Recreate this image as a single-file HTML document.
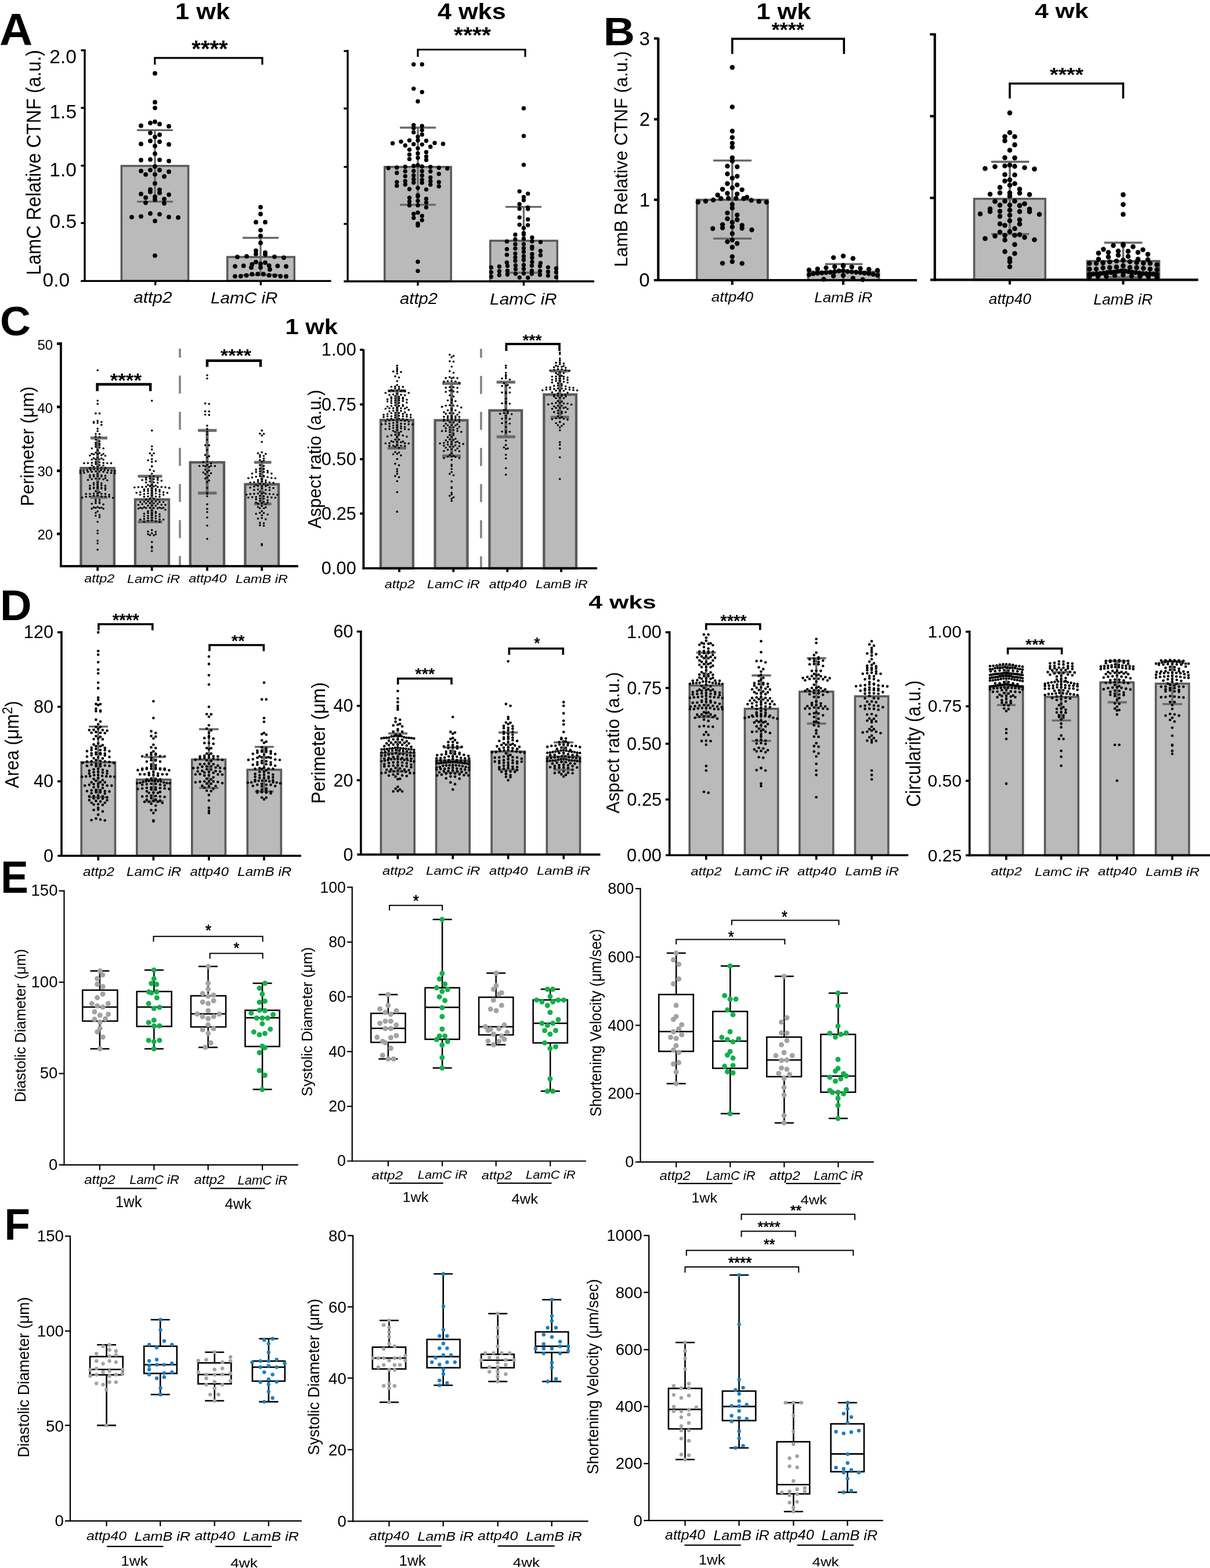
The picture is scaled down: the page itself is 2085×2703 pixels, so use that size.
<!DOCTYPE html>
<html><head><meta charset="utf-8"><title>Figure</title>
<style>html,body{margin:0;padding:0;background:#fff}svg{display:block}</style></head>
<body><svg xmlns="http://www.w3.org/2000/svg" width="2085" height="2703" viewBox="0 0 2085 2703">
<rect x="0" y="0" width="2085" height="2703" fill="#fff"/>
<rect x="209.35" y="286" width="115.2" height="198.3" fill="#bababa" stroke="#5a5a5a" stroke-width="3.5"/>
<rect x="391.75" y="443" width="115.5" height="41.3" fill="#bababa" stroke="#5a5a5a" stroke-width="3.5"/>
<line x1="267" y1="224.3" x2="267" y2="347.7" stroke="#696969" stroke-width="3.3"/>
<line x1="236" y1="224.3" x2="298" y2="224.3" stroke="#696969" stroke-width="3.3"/>
<line x1="236" y1="347.7" x2="298" y2="347.7" stroke="#696969" stroke-width="3.3"/>
<line x1="449" y1="410" x2="449" y2="474" stroke="#696969" stroke-width="3.3"/>
<line x1="418" y1="410" x2="480" y2="410" stroke="#696969" stroke-width="3.3"/>
<line x1="418" y1="474" x2="480" y2="474" stroke="#696969" stroke-width="3.3"/>
<g fill="#000"><circle cx="267" cy="126.46" r="3.9"/><circle cx="267" cy="176.16" r="3.9"/><circle cx="267" cy="186.1" r="3.9"/><circle cx="267" cy="440.56" r="3.9"/><circle cx="267" cy="380.92" r="3.9"/><circle cx="259" cy="367.97" r="3.9"/><circle cx="275" cy="369.29" r="3.9"/><circle cx="243" cy="373.08" r="3.9"/><circle cx="291" cy="374.12" r="3.9"/><circle cx="227" cy="374.37" r="3.9"/><circle cx="307" cy="374.96" r="3.9"/><circle cx="267" cy="209.96" r="3.9"/><circle cx="259" cy="211.94" r="3.9"/><circle cx="275" cy="213.93" r="3.9"/><circle cx="243" cy="216.64" r="3.9"/><circle cx="291" cy="217.68" r="3.9"/><circle cx="259" cy="274.89" r="3.9"/><circle cx="275" cy="275.54" r="3.9"/><circle cx="243" cy="276.01" r="3.9"/><circle cx="291" cy="277.54" r="3.9"/><circle cx="259" cy="229.09" r="3.9"/><circle cx="275" cy="232.27" r="3.9"/><circle cx="267" cy="251.59" r="3.9"/><circle cx="267" cy="339.14" r="3.9"/><circle cx="251" cy="340.72" r="3.9"/><circle cx="283" cy="343.06" r="3.9"/><circle cx="259" cy="326.77" r="3.9"/><circle cx="275" cy="327.22" r="3.9"/><circle cx="267" cy="236.03" r="3.9"/><circle cx="259" cy="242.95" r="3.9"/><circle cx="275" cy="244.35" r="3.9"/><circle cx="243" cy="248.19" r="3.9"/><circle cx="291" cy="248.9" r="3.9"/><circle cx="267" cy="300.54" r="3.9"/><circle cx="251" cy="300.81" r="3.9"/><circle cx="283" cy="304.18" r="3.9"/><circle cx="259" cy="330.68" r="3.9"/><circle cx="275" cy="332.4" r="3.9"/><circle cx="243" cy="334.43" r="3.9"/><circle cx="291" cy="335.6" r="3.9"/><circle cx="259" cy="293.07" r="3.9"/><circle cx="275" cy="293.19" r="3.9"/><circle cx="243" cy="294.72" r="3.9"/><circle cx="291" cy="295.94" r="3.9"/><circle cx="267" cy="286.93" r="3.9"/><circle cx="267" cy="344.36" r="3.9"/><circle cx="251" cy="349.48" r="3.9"/><circle cx="283" cy="350.39" r="3.9"/><circle cx="267" cy="264.9" r="3.9"/><circle cx="267" cy="316.19" r="3.9"/></g>
<g fill="#000"><circle cx="449" cy="357.07" r="3.9"/><circle cx="449" cy="369" r="3.9"/><circle cx="441" cy="382.91" r="3.9"/><circle cx="457" cy="382.91" r="3.9"/><circle cx="449" cy="396.83" r="3.9"/><circle cx="449" cy="406.77" r="3.9"/><circle cx="444.11" cy="472.28" r="3.9"/><circle cx="453.89" cy="472.49" r="3.9"/><circle cx="434.33" cy="472.71" r="3.9"/><circle cx="463.67" cy="474.54" r="3.9"/><circle cx="424.56" cy="474.78" r="3.9"/><circle cx="473.44" cy="475.04" r="3.9"/><circle cx="414.78" cy="476.07" r="3.9"/><circle cx="483.22" cy="476.11" r="3.9"/><circle cx="405" cy="476.35" r="3.9"/><circle cx="493" cy="476.43" r="3.9"/><circle cx="441" cy="437.82" r="3.9"/><circle cx="457" cy="438.87" r="3.9"/><circle cx="425" cy="441.8" r="3.9"/><circle cx="473" cy="442.57" r="3.9"/><circle cx="409" cy="442.93" r="3.9"/><circle cx="489" cy="444.19" r="3.9"/><circle cx="441" cy="432.2" r="3.9"/><circle cx="457" cy="435.44" r="3.9"/><circle cx="441" cy="451.53" r="3.9"/><circle cx="457" cy="452.71" r="3.9"/><circle cx="449" cy="454.64" r="3.9"/><circle cx="434.33" cy="455.61" r="3.9"/><circle cx="463.67" cy="457.97" r="3.9"/><circle cx="419.67" cy="458.19" r="3.9"/><circle cx="478.33" cy="458.44" r="3.9"/><circle cx="405" cy="459.05" r="3.9"/><circle cx="493" cy="459.21" r="3.9"/><circle cx="449" cy="418.68" r="3.9"/><circle cx="449" cy="461.06" r="3.9"/><circle cx="433" cy="461.14" r="3.9"/><circle cx="465" cy="464.52" r="3.9"/></g>
<line x1="146" y1="85" x2="146" y2="485.95" stroke="#000" stroke-width="3.3"/>
<line x1="139.3" y1="484.3" x2="570.5" y2="484.3" stroke="#000" stroke-width="3.3"/>
<line x1="139.4" y1="86.7" x2="146" y2="86.7" stroke="#000" stroke-width="3.3"/>
<line x1="139.4" y1="186" x2="146" y2="186" stroke="#000" stroke-width="3.3"/>
<line x1="139.4" y1="285.6" x2="146" y2="285.6" stroke="#000" stroke-width="3.3"/>
<line x1="139.4" y1="384.5" x2="146" y2="384.5" stroke="#000" stroke-width="3.3"/>
<line x1="267.7" y1="484.3" x2="267.7" y2="491.8" stroke="#000" stroke-width="3.3"/>
<line x1="449.3" y1="484.3" x2="449.3" y2="491.8" stroke="#000" stroke-width="3.3"/>
<polyline points="266.8,111.5 266.8,99.8 452,99.8 452,111.5" fill="none" stroke="#000" stroke-width="3.2" stroke-linejoin="miter"/>
<rect x="662.75" y="287.7" width="114.5" height="197.3" fill="#bababa" stroke="#5a5a5a" stroke-width="3.5"/>
<rect x="844.75" y="415" width="115.5" height="70" fill="#bababa" stroke="#5a5a5a" stroke-width="3.5"/>
<line x1="720" y1="220" x2="720" y2="353" stroke="#696969" stroke-width="3.3"/>
<line x1="689" y1="220" x2="751" y2="220" stroke="#696969" stroke-width="3.3"/>
<line x1="689" y1="353" x2="751" y2="353" stroke="#696969" stroke-width="3.3"/>
<line x1="902.4" y1="356.7" x2="902.4" y2="470" stroke="#696969" stroke-width="3.3"/>
<line x1="871" y1="356.7" x2="933" y2="356.7" stroke="#696969" stroke-width="3.3"/>
<line x1="871" y1="470" x2="933" y2="470" stroke="#696969" stroke-width="3.3"/>
<g fill="#000"><circle cx="712.75" cy="111.07" r="3.7"/><circle cx="727.25" cy="111.07" r="3.7"/><circle cx="712.75" cy="152.84" r="3.7"/><circle cx="727.25" cy="158.8" r="3.7"/><circle cx="720" cy="174.72" r="3.7"/><circle cx="720" cy="451.19" r="3.7"/><circle cx="720" cy="467.1" r="3.7"/><circle cx="720" cy="385.55" r="3.7"/><circle cx="712.75" cy="375.61" r="3.7"/><circle cx="727.25" cy="379.58" r="3.7"/><circle cx="720" cy="235.65" r="3.7"/><circle cx="712.75" cy="309.15" r="3.7"/><circle cx="727.25" cy="309.84" r="3.7"/><circle cx="698.25" cy="312.3" r="3.7"/><circle cx="741.75" cy="312.34" r="3.7"/><circle cx="683.75" cy="313.83" r="3.7"/><circle cx="756.25" cy="314" r="3.7"/><circle cx="712.75" cy="285.97" r="3.7"/><circle cx="727.25" cy="287.03" r="3.7"/><circle cx="698.25" cy="287.45" r="3.7"/><circle cx="741.75" cy="287.71" r="3.7"/><circle cx="683.75" cy="288.68" r="3.7"/><circle cx="756.25" cy="289.21" r="3.7"/><circle cx="669.25" cy="289.7" r="3.7"/><circle cx="770.75" cy="290.53" r="3.7"/><circle cx="720" cy="324" r="3.7"/><circle cx="705.5" cy="325.96" r="3.7"/><circle cx="734.5" cy="326.6" r="3.7"/><circle cx="712.75" cy="314.83" r="3.7"/><circle cx="727.25" cy="314.99" r="3.7"/><circle cx="698.25" cy="317.98" r="3.7"/><circle cx="741.75" cy="318.26" r="3.7"/><circle cx="683.75" cy="320.13" r="3.7"/><circle cx="756.25" cy="321.24" r="3.7"/><circle cx="720" cy="346.14" r="3.7"/><circle cx="705.5" cy="347.6" r="3.7"/><circle cx="734.5" cy="349.08" r="3.7"/><circle cx="712.75" cy="228.08" r="3.7"/><circle cx="727.25" cy="231.93" r="3.7"/><circle cx="712.75" cy="294.81" r="3.7"/><circle cx="727.25" cy="294.91" r="3.7"/><circle cx="698.25" cy="295.32" r="3.7"/><circle cx="741.75" cy="295.44" r="3.7"/><circle cx="683.75" cy="298.04" r="3.7"/><circle cx="756.25" cy="299.82" r="3.7"/><circle cx="720" cy="241.95" r="3.7"/><circle cx="705.5" cy="241.98" r="3.7"/><circle cx="734.5" cy="242.76" r="3.7"/><circle cx="691" cy="244.11" r="3.7"/><circle cx="749" cy="246.39" r="3.7"/><circle cx="676.5" cy="246.95" r="3.7"/><circle cx="763.5" cy="248" r="3.7"/><circle cx="712.75" cy="302.41" r="3.7"/><circle cx="727.25" cy="302.5" r="3.7"/><circle cx="698.25" cy="303.68" r="3.7"/><circle cx="741.75" cy="306" r="3.7"/><circle cx="720" cy="353.9" r="3.7"/><circle cx="705.5" cy="354.06" r="3.7"/><circle cx="734.5" cy="357.5" r="3.7"/><circle cx="720" cy="338.41" r="3.7"/><circle cx="705.5" cy="340.99" r="3.7"/><circle cx="734.5" cy="342.76" r="3.7"/><circle cx="720" cy="271.99" r="3.7"/><circle cx="705.5" cy="274.17" r="3.7"/><circle cx="734.5" cy="275.71" r="3.7"/><circle cx="712.75" cy="220.91" r="3.7"/><circle cx="727.25" cy="224.34" r="3.7"/><circle cx="712.75" cy="368.7" r="3.7"/><circle cx="727.25" cy="372.15" r="3.7"/><circle cx="712.75" cy="248.41" r="3.7"/><circle cx="727.25" cy="249.09" r="3.7"/><circle cx="698.25" cy="250.79" r="3.7"/><circle cx="741.75" cy="253.01" r="3.7"/><circle cx="720" cy="284.68" r="3.7"/><circle cx="720" cy="264.51" r="3.7"/><circle cx="705.5" cy="266.38" r="3.7"/><circle cx="734.5" cy="269.83" r="3.7"/><circle cx="720" cy="255.6" r="3.7"/><circle cx="705.5" cy="258.01" r="3.7"/><circle cx="734.5" cy="262.22" r="3.7"/><circle cx="712.75" cy="215.77" r="3.7"/><circle cx="727.25" cy="217.23" r="3.7"/><circle cx="720" cy="336.54" r="3.7"/><circle cx="720" cy="366.56" r="3.7"/><circle cx="720" cy="388.81" r="3.7"/></g>
<g fill="#000"><circle cx="902.4" cy="186.65" r="3.7"/><circle cx="902.4" cy="234.39" r="3.7"/><circle cx="902.4" cy="284.11" r="3.7"/><circle cx="895.15" cy="329.86" r="3.7"/><circle cx="909.65" cy="333.84" r="3.7"/><circle cx="902.4" cy="339.8" r="3.7"/><circle cx="895.15" cy="359.83" r="3.7"/><circle cx="909.65" cy="360.15" r="3.7"/><circle cx="902.4" cy="448.01" r="3.7"/><circle cx="887.9" cy="449.61" r="3.7"/><circle cx="916.9" cy="451.4" r="3.7"/><circle cx="873.4" cy="452.56" r="3.7"/><circle cx="931.4" cy="453.49" r="3.7"/><circle cx="902.4" cy="471.22" r="3.7"/><circle cx="888.4" cy="471.83" r="3.7"/><circle cx="916.4" cy="471.96" r="3.7"/><circle cx="874.4" cy="473.23" r="3.7"/><circle cx="930.4" cy="473.7" r="3.7"/><circle cx="860.4" cy="474.31" r="3.7"/><circle cx="944.4" cy="475.11" r="3.7"/><circle cx="846.4" cy="476.93" r="3.7"/><circle cx="958.4" cy="477.59" r="3.7"/><circle cx="902.4" cy="404.03" r="3.7"/><circle cx="887.9" cy="404.5" r="3.7"/><circle cx="916.9" cy="409.45" r="3.7"/><circle cx="902.4" cy="433.88" r="3.7"/><circle cx="887.9" cy="437.12" r="3.7"/><circle cx="916.9" cy="437.9" r="3.7"/><circle cx="873.4" cy="439.15" r="3.7"/><circle cx="931.4" cy="440.06" r="3.7"/><circle cx="902.4" cy="457.04" r="3.7"/><circle cx="888.4" cy="457.38" r="3.7"/><circle cx="916.4" cy="457.99" r="3.7"/><circle cx="874.4" cy="458.35" r="3.7"/><circle cx="930.4" cy="458.75" r="3.7"/><circle cx="860.4" cy="459.51" r="3.7"/><circle cx="944.4" cy="460.86" r="3.7"/><circle cx="846.4" cy="460.91" r="3.7"/><circle cx="958.4" cy="462.69" r="3.7"/><circle cx="902.4" cy="463.53" r="3.7"/><circle cx="888.4" cy="464.1" r="3.7"/><circle cx="916.4" cy="466.75" r="3.7"/><circle cx="874.4" cy="466.78" r="3.7"/><circle cx="930.4" cy="467.26" r="3.7"/><circle cx="860.4" cy="467.53" r="3.7"/><circle cx="944.4" cy="468.51" r="3.7"/><circle cx="846.4" cy="469.24" r="3.7"/><circle cx="958.4" cy="469.49" r="3.7"/><circle cx="895.15" cy="387.33" r="3.7"/><circle cx="909.65" cy="388.12" r="3.7"/><circle cx="902.4" cy="411.52" r="3.7"/><circle cx="887.9" cy="412.56" r="3.7"/><circle cx="916.9" cy="416.11" r="3.7"/><circle cx="873.4" cy="416.25" r="3.7"/><circle cx="931.4" cy="417.35" r="3.7"/><circle cx="895.15" cy="478.35" r="3.7"/><circle cx="909.65" cy="478.71" r="3.7"/><circle cx="902.4" cy="441.8" r="3.7"/><circle cx="887.9" cy="443.77" r="3.7"/><circle cx="916.9" cy="444.22" r="3.7"/><circle cx="902.4" cy="402.01" r="3.7"/><circle cx="895.15" cy="374.84" r="3.7"/><circle cx="909.65" cy="378.3" r="3.7"/><circle cx="895.15" cy="352.02" r="3.7"/><circle cx="909.65" cy="357.58" r="3.7"/><circle cx="902.4" cy="420.85" r="3.7"/><circle cx="887.9" cy="421.03" r="3.7"/><circle cx="916.9" cy="425.33" r="3.7"/><circle cx="902.4" cy="345.09" r="3.7"/><circle cx="902.4" cy="427.84" r="3.7"/><circle cx="887.9" cy="428.52" r="3.7"/><circle cx="916.9" cy="428.58" r="3.7"/><circle cx="873.4" cy="429.4" r="3.7"/><circle cx="931.4" cy="432.55" r="3.7"/><circle cx="902.4" cy="393.01" r="3.7"/></g>
<line x1="599.1" y1="86" x2="599.1" y2="486.65" stroke="#000" stroke-width="3.3"/>
<line x1="592.4" y1="485" x2="1024" y2="485" stroke="#000" stroke-width="3.3"/>
<line x1="592.4" y1="88" x2="599.1" y2="88" stroke="#000" stroke-width="3.3"/>
<line x1="592.4" y1="187" x2="599.1" y2="187" stroke="#000" stroke-width="3.3"/>
<line x1="592.4" y1="287.7" x2="599.1" y2="287.7" stroke="#000" stroke-width="3.3"/>
<line x1="592.4" y1="386" x2="599.1" y2="386" stroke="#000" stroke-width="3.3"/>
<line x1="720" y1="485" x2="720" y2="492.5" stroke="#000" stroke-width="3.3"/>
<line x1="902.4" y1="485" x2="902.4" y2="492.5" stroke="#000" stroke-width="3.3"/>
<polyline points="720,98 720,85.5 905,85.5 905,98" fill="none" stroke="#000" stroke-width="3.2" stroke-linejoin="miter"/>
<rect x="1200.8" y="344.4" width="122.2" height="138.6" fill="#bababa" stroke="#5a5a5a" stroke-width="3.6"/>
<rect x="1392.5" y="468.4" width="122.1" height="14.6" fill="#bababa" stroke="#5a5a5a" stroke-width="3.6"/>
<line x1="1261.8" y1="276.8" x2="1261.8" y2="411.3" stroke="#696969" stroke-width="3.6"/>
<line x1="1229" y1="276.8" x2="1295" y2="276.8" stroke="#696969" stroke-width="3.6"/>
<line x1="1229" y1="411.3" x2="1295" y2="411.3" stroke="#696969" stroke-width="3.6"/>
<line x1="1453" y1="455.3" x2="1453" y2="483" stroke="#696969" stroke-width="3.6"/>
<line x1="1421.7" y1="455.3" x2="1486.3" y2="455.3" stroke="#696969" stroke-width="3.6"/>
<line x1="1421.7" y1="483" x2="1486.3" y2="483" stroke="#696969" stroke-width="3.6"/>
<g fill="#000"><circle cx="1261.8" cy="116.3" r="4.2"/><circle cx="1261.8" cy="184.37" r="4.2"/><circle cx="1261.8" cy="226.03" r="4.2"/><circle cx="1261.8" cy="237.15" r="4.2"/><circle cx="1261.8" cy="246.87" r="4.2"/><circle cx="1261.8" cy="253.81" r="4.2"/><circle cx="1261.8" cy="271.87" r="4.2"/><circle cx="1261.8" cy="451.05" r="4.2"/><circle cx="1245" cy="453.83" r="4.2"/><circle cx="1278.6" cy="454.13" r="4.2"/><circle cx="1255.24" cy="341.7" r="4.2"/><circle cx="1268.36" cy="341.74" r="4.2"/><circle cx="1242.13" cy="342.17" r="4.2"/><circle cx="1281.47" cy="342.18" r="4.2"/><circle cx="1229.02" cy="344.8" r="4.2"/><circle cx="1294.58" cy="345.17" r="4.2"/><circle cx="1215.91" cy="346.77" r="4.2"/><circle cx="1307.69" cy="347.17" r="4.2"/><circle cx="1202.8" cy="348.22" r="4.2"/><circle cx="1320.8" cy="348.57" r="4.2"/><circle cx="1261.8" cy="383.25" r="4.2"/><circle cx="1245" cy="387.13" r="4.2"/><circle cx="1278.6" cy="388.44" r="4.2"/><circle cx="1253.4" cy="416.6" r="4.2"/><circle cx="1270.2" cy="419.78" r="4.2"/><circle cx="1261.8" cy="352.43" r="4.2"/><circle cx="1261.8" cy="391.14" r="4.2"/><circle cx="1245" cy="392.69" r="4.2"/><circle cx="1278.6" cy="393.57" r="4.2"/><circle cx="1228.2" cy="394.06" r="4.2"/><circle cx="1295.4" cy="396.25" r="4.2"/><circle cx="1261.8" cy="426.28" r="4.2"/><circle cx="1253.4" cy="316.47" r="4.2"/><circle cx="1270.2" cy="318.81" r="4.2"/><circle cx="1261.8" cy="323.77" r="4.2"/><circle cx="1245" cy="326.3" r="4.2"/><circle cx="1278.6" cy="327.11" r="4.2"/><circle cx="1253.4" cy="377.01" r="4.2"/><circle cx="1270.2" cy="378.71" r="4.2"/><circle cx="1253.4" cy="333.31" r="4.2"/><circle cx="1270.2" cy="334.33" r="4.2"/><circle cx="1236.6" cy="336.22" r="4.2"/><circle cx="1287" cy="340.05" r="4.2"/><circle cx="1261.8" cy="413.75" r="4.2"/><circle cx="1253.4" cy="299.7" r="4.2"/><circle cx="1270.2" cy="303.83" r="4.2"/><circle cx="1253.4" cy="367.11" r="4.2"/><circle cx="1270.2" cy="370.61" r="4.2"/><circle cx="1261.8" cy="306.94" r="4.2"/><circle cx="1261.8" cy="358.64" r="4.2"/><circle cx="1253.4" cy="286.37" r="4.2"/><circle cx="1270.2" cy="287.56" r="4.2"/><circle cx="1261.8" cy="442.55" r="4.2"/><circle cx="1261.8" cy="277.42" r="4.2"/><circle cx="1261.8" cy="402.73" r="4.2"/></g>
<g fill="#000"><circle cx="1453" cy="441.33" r="4.2"/><circle cx="1436.2" cy="444.11" r="4.2"/><circle cx="1469.8" cy="445.5" r="4.2"/><circle cx="1453" cy="458.47" r="4.2"/><circle cx="1438.25" cy="459.73" r="4.2"/><circle cx="1467.75" cy="460.2" r="4.2"/><circle cx="1423.5" cy="461.61" r="4.2"/><circle cx="1482.5" cy="462.61" r="4.2"/><circle cx="1408.75" cy="463.71" r="4.2"/><circle cx="1497.25" cy="464.14" r="4.2"/><circle cx="1394" cy="465.43" r="4.2"/><circle cx="1512" cy="465.86" r="4.2"/><circle cx="1453" cy="474.74" r="4.2"/><circle cx="1436.2" cy="475.76" r="4.2"/><circle cx="1469.8" cy="479.58" r="4.2"/><circle cx="1419.4" cy="481.47" r="4.2"/><circle cx="1486.6" cy="481.99" r="4.2"/><circle cx="1453" cy="466.68" r="4.2"/><circle cx="1445.62" cy="467.01" r="4.2"/><circle cx="1460.38" cy="468.04" r="4.2"/><circle cx="1438.25" cy="468.3" r="4.2"/><circle cx="1467.75" cy="468.58" r="4.2"/><circle cx="1430.88" cy="469.16" r="4.2"/><circle cx="1475.12" cy="469.18" r="4.2"/><circle cx="1423.5" cy="469.68" r="4.2"/><circle cx="1482.5" cy="469.71" r="4.2"/><circle cx="1416.12" cy="470.45" r="4.2"/><circle cx="1489.88" cy="470.84" r="4.2"/><circle cx="1408.75" cy="471.09" r="4.2"/><circle cx="1497.25" cy="471.56" r="4.2"/><circle cx="1401.38" cy="471.73" r="4.2"/><circle cx="1504.62" cy="472.9" r="4.2"/><circle cx="1394" cy="473.62" r="4.2"/><circle cx="1512" cy="474.51" r="4.2"/><circle cx="1453" cy="457.56" r="4.2"/></g>
<line x1="1134.25" y1="65" x2="1134.25" y2="485.1" stroke="#000" stroke-width="4.2"/>
<line x1="1126.8" y1="483" x2="1580" y2="483" stroke="#000" stroke-width="4.2"/>
<line x1="1127" y1="66.3" x2="1134.25" y2="66.3" stroke="#000" stroke-width="4.2"/>
<line x1="1127" y1="205.6" x2="1134.25" y2="205.6" stroke="#000" stroke-width="4.2"/>
<line x1="1127" y1="344.4" x2="1134.25" y2="344.4" stroke="#000" stroke-width="4.2"/>
<line x1="1261.8" y1="483" x2="1261.8" y2="491" stroke="#000" stroke-width="4.2"/>
<line x1="1453" y1="483" x2="1453" y2="491" stroke="#000" stroke-width="4.2"/>
<polyline points="1261.8,93 1261.8,66.9 1454.3,66.9 1454.3,93" fill="none" stroke="#000" stroke-width="3.6" stroke-linejoin="miter"/>
<rect x="1678.6" y="342.7" width="122.6" height="139.7" fill="#bababa" stroke="#5a5a5a" stroke-width="3.6"/>
<rect x="1873.4" y="450" width="124.1" height="32.4" fill="#bababa" stroke="#5a5a5a" stroke-width="3.6"/>
<line x1="1740" y1="278.9" x2="1740" y2="403.5" stroke="#696969" stroke-width="3.6"/>
<line x1="1708" y1="278.9" x2="1773.4" y2="278.9" stroke="#696969" stroke-width="3.6"/>
<line x1="1708" y1="403.5" x2="1773.4" y2="403.5" stroke="#696969" stroke-width="3.6"/>
<line x1="1935.4" y1="418.4" x2="1935.4" y2="478" stroke="#696969" stroke-width="3.6"/>
<line x1="1902.7" y1="418.4" x2="1968.2" y2="418.4" stroke="#696969" stroke-width="3.6"/>
<line x1="1902.7" y1="478" x2="1968.2" y2="478" stroke="#696969" stroke-width="3.6"/>
<g fill="#000"><circle cx="1740" cy="194.66" r="4.3"/><circle cx="1740" cy="228.5" r="4.3"/><circle cx="1731.5" cy="235.55" r="4.3"/><circle cx="1748.5" cy="235.55" r="4.3"/><circle cx="1731.5" cy="242.6" r="4.3"/><circle cx="1748.5" cy="249.65" r="4.3"/><circle cx="1740" cy="459.74" r="4.3"/><circle cx="1740" cy="451.28" r="4.3"/><circle cx="1740" cy="380.49" r="4.3"/><circle cx="1723" cy="385.88" r="4.3"/><circle cx="1757" cy="386.13" r="4.3"/><circle cx="1740" cy="310" r="4.3"/><circle cx="1740" cy="332.5" r="4.3"/><circle cx="1723" cy="332.52" r="4.3"/><circle cx="1757" cy="332.85" r="4.3"/><circle cx="1706" cy="334.73" r="4.3"/><circle cx="1774" cy="335.34" r="4.3"/><circle cx="1731.5" cy="405.79" r="4.3"/><circle cx="1748.5" cy="405.82" r="4.3"/><circle cx="1714.5" cy="406.84" r="4.3"/><circle cx="1765.5" cy="409.13" r="4.3"/><circle cx="1697.5" cy="411.19" r="4.3"/><circle cx="1782.5" cy="413.21" r="4.3"/><circle cx="1731.5" cy="346.7" r="4.3"/><circle cx="1748.5" cy="346.77" r="4.3"/><circle cx="1714.5" cy="347.13" r="4.3"/><circle cx="1765.5" cy="351.2" r="4.3"/><circle cx="1740" cy="353.52" r="4.3"/><circle cx="1723" cy="353.59" r="4.3"/><circle cx="1757" cy="354.37" r="4.3"/><circle cx="1706" cy="359.96" r="4.3"/><circle cx="1774" cy="360.44" r="4.3"/><circle cx="1740" cy="337.89" r="4.3"/><circle cx="1740" cy="284.53" r="4.3"/><circle cx="1731.5" cy="286" r="4.3"/><circle cx="1748.5" cy="286.67" r="4.3"/><circle cx="1714.5" cy="287.18" r="4.3"/><circle cx="1765.5" cy="288.98" r="4.3"/><circle cx="1697.5" cy="290.45" r="4.3"/><circle cx="1782.5" cy="291.41" r="4.3"/><circle cx="1740" cy="362.29" r="4.3"/><circle cx="1723" cy="364.32" r="4.3"/><circle cx="1757" cy="364.63" r="4.3"/><circle cx="1706" cy="364.68" r="4.3"/><circle cx="1774" cy="364.95" r="4.3"/><circle cx="1689" cy="368.72" r="4.3"/><circle cx="1791" cy="369.52" r="4.3"/><circle cx="1731.5" cy="312.08" r="4.3"/><circle cx="1748.5" cy="316.55" r="4.3"/><circle cx="1731.5" cy="413.76" r="4.3"/><circle cx="1748.5" cy="421.48" r="4.3"/><circle cx="1731.5" cy="300.96" r="4.3"/><circle cx="1748.5" cy="301.56" r="4.3"/><circle cx="1731.5" cy="433.67" r="4.3"/><circle cx="1748.5" cy="436.98" r="4.3"/><circle cx="1740" cy="319.27" r="4.3"/><circle cx="1723" cy="323.11" r="4.3"/><circle cx="1757" cy="326.05" r="4.3"/><circle cx="1731.5" cy="388.45" r="4.3"/><circle cx="1748.5" cy="393.99" r="4.3"/><circle cx="1740" cy="445.87" r="4.3"/><circle cx="1731.5" cy="271.91" r="4.3"/><circle cx="1748.5" cy="272.14" r="4.3"/><circle cx="1740" cy="399.14" r="4.3"/><circle cx="1723" cy="400.05" r="4.3"/><circle cx="1757" cy="404.48" r="4.3"/><circle cx="1740" cy="259.06" r="4.3"/><circle cx="1740" cy="371" r="4.3"/><circle cx="1723" cy="372.85" r="4.3"/><circle cx="1757" cy="378.8" r="4.3"/></g>
<g fill="#000"><circle cx="1935.4" cy="335.66" r="4.3"/><circle cx="1935.4" cy="352.58" r="4.3"/><circle cx="1935.4" cy="369.5" r="4.3"/><circle cx="1935.4" cy="458.15" r="4.3"/><circle cx="1923.8" cy="460.16" r="4.3"/><circle cx="1947" cy="461.11" r="4.3"/><circle cx="1912.2" cy="461.35" r="4.3"/><circle cx="1958.6" cy="461.38" r="4.3"/><circle cx="1900.6" cy="461.8" r="4.3"/><circle cx="1970.2" cy="462.46" r="4.3"/><circle cx="1889" cy="463.78" r="4.3"/><circle cx="1981.8" cy="463.85" r="4.3"/><circle cx="1877.4" cy="463.87" r="4.3"/><circle cx="1993.4" cy="465.07" r="4.3"/><circle cx="1926.9" cy="432.87" r="4.3"/><circle cx="1943.9" cy="433.15" r="4.3"/><circle cx="1909.9" cy="435.08" r="4.3"/><circle cx="1960.9" cy="435.08" r="4.3"/><circle cx="1892.9" cy="436.36" r="4.3"/><circle cx="1977.9" cy="438.34" r="4.3"/><circle cx="1935.4" cy="473.84" r="4.3"/><circle cx="1920.9" cy="474.98" r="4.3"/><circle cx="1949.9" cy="475.7" r="4.3"/><circle cx="1906.4" cy="476.17" r="4.3"/><circle cx="1964.4" cy="476.18" r="4.3"/><circle cx="1891.9" cy="476.5" r="4.3"/><circle cx="1978.9" cy="476.89" r="4.3"/><circle cx="1877.4" cy="476.94" r="4.3"/><circle cx="1993.4" cy="478.01" r="4.3"/><circle cx="1932.35" cy="467" r="4.3"/><circle cx="1938.45" cy="467.13" r="4.3"/><circle cx="1926.24" cy="467.6" r="4.3"/><circle cx="1944.56" cy="468.31" r="4.3"/><circle cx="1920.14" cy="469.07" r="4.3"/><circle cx="1950.66" cy="469.23" r="4.3"/><circle cx="1914.03" cy="469.64" r="4.3"/><circle cx="1956.77" cy="469.7" r="4.3"/><circle cx="1907.93" cy="469.83" r="4.3"/><circle cx="1962.87" cy="470.76" r="4.3"/><circle cx="1901.82" cy="470.79" r="4.3"/><circle cx="1968.98" cy="471.43" r="4.3"/><circle cx="1895.72" cy="471.66" r="4.3"/><circle cx="1975.08" cy="471.84" r="4.3"/><circle cx="1889.61" cy="472.02" r="4.3"/><circle cx="1981.19" cy="472.24" r="4.3"/><circle cx="1883.51" cy="472.28" r="4.3"/><circle cx="1987.29" cy="472.35" r="4.3"/><circle cx="1877.4" cy="472.52" r="4.3"/><circle cx="1993.4" cy="472.67" r="4.3"/><circle cx="1926.9" cy="439.91" r="4.3"/><circle cx="1943.9" cy="441.98" r="4.3"/><circle cx="1909.9" cy="442.91" r="4.3"/><circle cx="1960.9" cy="446.79" r="4.3"/><circle cx="1892.9" cy="446.85" r="4.3"/><circle cx="1977.9" cy="447.58" r="4.3"/><circle cx="1935.4" cy="448.6" r="4.3"/><circle cx="1923.8" cy="450.05" r="4.3"/><circle cx="1947" cy="451.01" r="4.3"/><circle cx="1912.2" cy="451.5" r="4.3"/><circle cx="1958.6" cy="452.54" r="4.3"/><circle cx="1900.6" cy="453.12" r="4.3"/><circle cx="1970.2" cy="453.43" r="4.3"/><circle cx="1889" cy="453.95" r="4.3"/><circle cx="1981.8" cy="453.97" r="4.3"/><circle cx="1877.4" cy="453.98" r="4.3"/><circle cx="1993.4" cy="456.34" r="4.3"/><circle cx="1935.4" cy="421.23" r="4.3"/><circle cx="1935.4" cy="423.02" r="4.3"/><circle cx="1918.4" cy="423.17" r="4.3"/><circle cx="1952.4" cy="425.31" r="4.3"/><circle cx="1901.4" cy="429.85" r="4.3"/><circle cx="1969.4" cy="430.52" r="4.3"/></g>
<line x1="1610.8" y1="57.6" x2="1610.8" y2="484.5" stroke="#000" stroke-width="4.2"/>
<line x1="1603.1" y1="482.4" x2="2064.7" y2="482.4" stroke="#000" stroke-width="4.2"/>
<line x1="1602.5" y1="59.2" x2="1610.8" y2="59.2" stroke="#000" stroke-width="4.2"/>
<line x1="1602.5" y1="200.3" x2="1610.8" y2="200.3" stroke="#000" stroke-width="4.2"/>
<line x1="1602.5" y1="341.2" x2="1610.8" y2="341.2" stroke="#000" stroke-width="4.2"/>
<line x1="1740" y1="482.4" x2="1740" y2="490.4" stroke="#000" stroke-width="4.2"/>
<line x1="1935.4" y1="482.4" x2="1935.4" y2="490.4" stroke="#000" stroke-width="4.2"/>
<polyline points="1740,169.8 1740,144 1935.4,144 1935.4,169.8" fill="none" stroke="#000" stroke-width="3.6" stroke-linejoin="miter"/>
<rect x="139.45" y="807" width="57.4" height="169" fill="#bababa" stroke="#5a5a5a" stroke-width="4.3"/>
<rect x="232.95" y="861" width="58.1" height="115" fill="#bababa" stroke="#5a5a5a" stroke-width="4.3"/>
<rect x="327.75" y="797" width="58.3" height="179" fill="#bababa" stroke="#5a5a5a" stroke-width="4.3"/>
<rect x="422.45" y="834.8" width="57.7" height="141.2" fill="#bababa" stroke="#5a5a5a" stroke-width="4.3"/>
<line x1="310" y1="601" x2="310" y2="976" stroke="#888888" stroke-width="3.7" stroke-dasharray="31 31.2" stroke-dashoffset="15.6"/>
<line x1="168.2" y1="755" x2="168.2" y2="857.3" stroke="#696969" stroke-width="5"/>
<line x1="156" y1="755" x2="185" y2="755" stroke="#696969" stroke-width="5"/>
<line x1="156" y1="857.3" x2="185" y2="857.3" stroke="#696969" stroke-width="5"/>
<line x1="261.7" y1="821" x2="261.7" y2="899.6" stroke="#696969" stroke-width="5"/>
<line x1="237.6" y1="821" x2="279.3" y2="821" stroke="#696969" stroke-width="5"/>
<line x1="237.6" y1="899.6" x2="279.3" y2="899.6" stroke="#696969" stroke-width="5"/>
<line x1="357" y1="742" x2="357" y2="850" stroke="#696969" stroke-width="5"/>
<line x1="341" y1="742" x2="373.4" y2="742" stroke="#696969" stroke-width="5"/>
<line x1="341" y1="850" x2="373.4" y2="850" stroke="#696969" stroke-width="5"/>
<line x1="451.2" y1="797" x2="451.2" y2="868.7" stroke="#696969" stroke-width="5"/>
<line x1="438" y1="797" x2="467.5" y2="797" stroke="#696969" stroke-width="5"/>
<line x1="438" y1="868.7" x2="467.5" y2="868.7" stroke="#696969" stroke-width="5"/>
<g fill="#000"><circle cx="168.2" cy="638.31" r="1.8"/><circle cx="168.2" cy="690.77" r="1.8"/><circle cx="168.2" cy="696.23" r="1.8"/><circle cx="164.88" cy="712.63" r="1.8"/><circle cx="171.52" cy="712.63" r="1.8"/><circle cx="168.2" cy="729.02" r="1.8"/><circle cx="161.55" cy="729.02" r="1.8"/><circle cx="174.85" cy="732.39" r="1.8"/><circle cx="168.2" cy="947.62" r="1.8"/><circle cx="168.2" cy="936.69" r="1.8"/><circle cx="168.2" cy="914.83" r="1.8"/><circle cx="164.88" cy="770.21" r="1.8"/><circle cx="171.52" cy="771.5" r="1.8"/><circle cx="158.22" cy="772.94" r="1.8"/><circle cx="178.17" cy="772.95" r="1.8"/><circle cx="164.88" cy="875.46" r="1.8"/><circle cx="171.52" cy="875.68" r="1.8"/><circle cx="158.22" cy="876.91" r="1.8"/><circle cx="178.17" cy="876.92" r="1.8"/><circle cx="168.2" cy="808.66" r="1.8"/><circle cx="162.2" cy="809.01" r="1.8"/><circle cx="174.2" cy="810.17" r="1.8"/><circle cx="156.2" cy="810.17" r="1.8"/><circle cx="180.2" cy="810.5" r="1.8"/><circle cx="150.2" cy="810.53" r="1.8"/><circle cx="186.2" cy="810.88" r="1.8"/><circle cx="144.2" cy="811.38" r="1.8"/><circle cx="192.2" cy="811.4" r="1.8"/><circle cx="138.2" cy="811.66" r="1.8"/><circle cx="198.2" cy="811.71" r="1.8"/><circle cx="168.2" cy="835.38" r="1.8"/><circle cx="161.55" cy="835.77" r="1.8"/><circle cx="174.85" cy="836.57" r="1.8"/><circle cx="154.9" cy="837.23" r="1.8"/><circle cx="181.5" cy="837.39" r="1.8"/><circle cx="168.2" cy="850.26" r="1.8"/><circle cx="161.55" cy="850.84" r="1.8"/><circle cx="174.85" cy="851.28" r="1.8"/><circle cx="154.9" cy="851.51" r="1.8"/><circle cx="181.5" cy="851.53" r="1.8"/><circle cx="148.25" cy="851.54" r="1.8"/><circle cx="188.15" cy="853.06" r="1.8"/><circle cx="168.2" cy="831.47" r="1.8"/><circle cx="161.55" cy="832.81" r="1.8"/><circle cx="174.85" cy="832.97" r="1.8"/><circle cx="168.2" cy="743.31" r="1.8"/><circle cx="168.2" cy="841.78" r="1.8"/><circle cx="161.55" cy="841.85" r="1.8"/><circle cx="174.85" cy="842.32" r="1.8"/><circle cx="154.9" cy="842.91" r="1.8"/><circle cx="181.5" cy="844.11" r="1.8"/><circle cx="164.88" cy="791.92" r="1.8"/><circle cx="171.52" cy="792.06" r="1.8"/><circle cx="158.22" cy="792.23" r="1.8"/><circle cx="178.17" cy="792.32" r="1.8"/><circle cx="168.2" cy="816.81" r="1.8"/><circle cx="161.55" cy="818.75" r="1.8"/><circle cx="174.85" cy="819.19" r="1.8"/><circle cx="154.9" cy="819.37" r="1.8"/><circle cx="181.5" cy="820.16" r="1.8"/><circle cx="168.2" cy="783.12" r="1.8"/><circle cx="161.55" cy="783.31" r="1.8"/><circle cx="174.85" cy="784.67" r="1.8"/><circle cx="154.9" cy="785.3" r="1.8"/><circle cx="181.5" cy="785.79" r="1.8"/><circle cx="164.88" cy="812.49" r="1.8"/><circle cx="171.52" cy="812.91" r="1.8"/><circle cx="158.22" cy="813.28" r="1.8"/><circle cx="178.17" cy="813.33" r="1.8"/><circle cx="151.57" cy="813.36" r="1.8"/><circle cx="184.82" cy="814.8" r="1.8"/><circle cx="144.92" cy="815" r="1.8"/><circle cx="191.47" cy="815.25" r="1.8"/><circle cx="138.27" cy="815.59" r="1.8"/><circle cx="198.12" cy="815.72" r="1.8"/><circle cx="164.88" cy="780.33" r="1.8"/><circle cx="171.52" cy="780.96" r="1.8"/><circle cx="158.22" cy="782.32" r="1.8"/><circle cx="178.17" cy="782.44" r="1.8"/><circle cx="168.2" cy="854.24" r="1.8"/><circle cx="161.55" cy="854.43" r="1.8"/><circle cx="174.85" cy="855.85" r="1.8"/><circle cx="154.9" cy="855.94" r="1.8"/><circle cx="181.5" cy="856.1" r="1.8"/><circle cx="148.25" cy="856.29" r="1.8"/><circle cx="188.15" cy="856.38" r="1.8"/><circle cx="141.6" cy="857.86" r="1.8"/><circle cx="194.8" cy="858.2" r="1.8"/><circle cx="168.2" cy="804.81" r="1.8"/><circle cx="161.55" cy="804.81" r="1.8"/><circle cx="174.85" cy="805.88" r="1.8"/><circle cx="154.9" cy="806.54" r="1.8"/><circle cx="181.5" cy="806.64" r="1.8"/><circle cx="164.88" cy="766.91" r="1.8"/><circle cx="171.52" cy="767.61" r="1.8"/><circle cx="164.88" cy="846.86" r="1.8"/><circle cx="171.52" cy="848.44" r="1.8"/><circle cx="164.88" cy="884.09" r="1.8"/><circle cx="171.52" cy="887.79" r="1.8"/><circle cx="164.88" cy="757.68" r="1.8"/><circle cx="171.52" cy="760.47" r="1.8"/><circle cx="168.2" cy="839.18" r="1.8"/><circle cx="161.55" cy="840.36" r="1.8"/><circle cx="174.85" cy="840.61" r="1.8"/><circle cx="154.9" cy="841.27" r="1.8"/><circle cx="181.5" cy="841.31" r="1.8"/><circle cx="168.2" cy="788.68" r="1.8"/><circle cx="161.55" cy="789.89" r="1.8"/><circle cx="174.85" cy="789.99" r="1.8"/><circle cx="164.88" cy="861.46" r="1.8"/><circle cx="171.52" cy="861.81" r="1.8"/><circle cx="164.88" cy="889.06" r="1.8"/><circle cx="171.52" cy="891.61" r="1.8"/><circle cx="168.2" cy="725.39" r="1.8"/><circle cx="161.55" cy="727.2" r="1.8"/><circle cx="174.85" cy="727.44" r="1.8"/><circle cx="168.2" cy="820.61" r="1.8"/><circle cx="161.55" cy="821.29" r="1.8"/><circle cx="174.85" cy="821.68" r="1.8"/><circle cx="154.9" cy="822.82" r="1.8"/><circle cx="181.5" cy="824.33" r="1.8"/><circle cx="164.88" cy="796.42" r="1.8"/><circle cx="171.52" cy="796.97" r="1.8"/><circle cx="158.22" cy="797.88" r="1.8"/><circle cx="178.17" cy="798.15" r="1.8"/><circle cx="151.57" cy="798.19" r="1.8"/><circle cx="184.82" cy="798.51" r="1.8"/><circle cx="144.92" cy="798.59" r="1.8"/><circle cx="191.47" cy="798.59" r="1.8"/><circle cx="164.88" cy="799.78" r="1.8"/><circle cx="171.52" cy="801.82" r="1.8"/><circle cx="158.22" cy="802.21" r="1.8"/><circle cx="178.17" cy="802.55" r="1.8"/><circle cx="164.88" cy="867.17" r="1.8"/><circle cx="171.52" cy="867.52" r="1.8"/><circle cx="158.22" cy="868.37" r="1.8"/><circle cx="178.17" cy="869.6" r="1.8"/><circle cx="168.2" cy="776.16" r="1.8"/><circle cx="164.88" cy="747.99" r="1.8"/><circle cx="171.52" cy="748.23" r="1.8"/><circle cx="168.2" cy="932.09" r="1.8"/><circle cx="164.88" cy="763.33" r="1.8"/><circle cx="171.52" cy="764.67" r="1.8"/><circle cx="168.2" cy="874.05" r="1.8"/><circle cx="161.55" cy="874.67" r="1.8"/><circle cx="174.85" cy="875.02" r="1.8"/><circle cx="164.88" cy="825.03" r="1.8"/><circle cx="171.52" cy="825.15" r="1.8"/><circle cx="158.22" cy="826.02" r="1.8"/><circle cx="178.17" cy="826.37" r="1.8"/><circle cx="151.57" cy="827.37" r="1.8"/><circle cx="184.82" cy="828.02" r="1.8"/><circle cx="164.88" cy="752.39" r="1.8"/><circle cx="171.52" cy="753.18" r="1.8"/><circle cx="168.2" cy="899.54" r="1.8"/><circle cx="168.2" cy="881.59" r="1.8"/><circle cx="168.2" cy="919.54" r="1.8"/><circle cx="164.88" cy="863.94" r="1.8"/><circle cx="171.52" cy="865.49" r="1.8"/><circle cx="168.2" cy="739.12" r="1.8"/></g>
<g fill="#000"><circle cx="261.7" cy="690.77" r="1.8"/><circle cx="261.7" cy="742.14" r="1.8"/><circle cx="261.7" cy="769.47" r="1.8"/><circle cx="258.38" cy="781.49" r="1.8"/><circle cx="265.02" cy="781.49" r="1.8"/><circle cx="261.7" cy="949.81" r="1.8"/><circle cx="261.7" cy="944.35" r="1.8"/><circle cx="261.7" cy="846.02" r="1.8"/><circle cx="255.05" cy="846.18" r="1.8"/><circle cx="268.35" cy="846.19" r="1.8"/><circle cx="248.4" cy="846.21" r="1.8"/><circle cx="275" cy="847.67" r="1.8"/><circle cx="241.75" cy="848.29" r="1.8"/><circle cx="281.65" cy="848.59" r="1.8"/><circle cx="235.1" cy="849.58" r="1.8"/><circle cx="288.3" cy="849.62" r="1.8"/><circle cx="258.38" cy="859.38" r="1.8"/><circle cx="265.02" cy="859.61" r="1.8"/><circle cx="251.72" cy="860.92" r="1.8"/><circle cx="271.68" cy="861.25" r="1.8"/><circle cx="258.38" cy="825.12" r="1.8"/><circle cx="265.02" cy="826.01" r="1.8"/><circle cx="251.72" cy="826.9" r="1.8"/><circle cx="271.68" cy="827.14" r="1.8"/><circle cx="245.07" cy="827.48" r="1.8"/><circle cx="278.32" cy="828.67" r="1.8"/><circle cx="261.7" cy="888.03" r="1.8"/><circle cx="255.05" cy="889.32" r="1.8"/><circle cx="268.35" cy="889.39" r="1.8"/><circle cx="248.4" cy="889.99" r="1.8"/><circle cx="275" cy="890.48" r="1.8"/><circle cx="261.7" cy="863.98" r="1.8"/><circle cx="255.05" cy="864.41" r="1.8"/><circle cx="268.35" cy="864.52" r="1.8"/><circle cx="248.4" cy="864.87" r="1.8"/><circle cx="275" cy="865.16" r="1.8"/><circle cx="241.75" cy="865.39" r="1.8"/><circle cx="281.65" cy="865.43" r="1.8"/><circle cx="258.38" cy="837.89" r="1.8"/><circle cx="265.02" cy="838.56" r="1.8"/><circle cx="251.72" cy="838.96" r="1.8"/><circle cx="271.68" cy="839.53" r="1.8"/><circle cx="245.07" cy="839.59" r="1.8"/><circle cx="278.32" cy="839.61" r="1.8"/><circle cx="238.42" cy="839.84" r="1.8"/><circle cx="284.97" cy="839.98" r="1.8"/><circle cx="231.77" cy="840.19" r="1.8"/><circle cx="291.62" cy="841.16" r="1.8"/><circle cx="261.7" cy="841.81" r="1.8"/><circle cx="255.05" cy="843.03" r="1.8"/><circle cx="268.35" cy="843.15" r="1.8"/><circle cx="248.4" cy="843.67" r="1.8"/><circle cx="275" cy="844.47" r="1.8"/><circle cx="261.7" cy="871.22" r="1.8"/><circle cx="255.05" cy="871.64" r="1.8"/><circle cx="268.35" cy="871.86" r="1.8"/><circle cx="248.4" cy="874.29" r="1.8"/><circle cx="275" cy="875.01" r="1.8"/><circle cx="241.75" cy="875.18" r="1.8"/><circle cx="281.65" cy="875.18" r="1.8"/><circle cx="261.7" cy="850.14" r="1.8"/><circle cx="255.05" cy="850.6" r="1.8"/><circle cx="268.35" cy="850.8" r="1.8"/><circle cx="248.4" cy="851.68" r="1.8"/><circle cx="275" cy="852.53" r="1.8"/><circle cx="241.75" cy="852.68" r="1.8"/><circle cx="281.65" cy="852.9" r="1.8"/><circle cx="261.7" cy="897.27" r="1.8"/><circle cx="255.05" cy="897.61" r="1.8"/><circle cx="268.35" cy="898.53" r="1.8"/><circle cx="248.4" cy="899.29" r="1.8"/><circle cx="275" cy="899.74" r="1.8"/><circle cx="261.7" cy="919.27" r="1.8"/><circle cx="255.05" cy="920.81" r="1.8"/><circle cx="268.35" cy="921.04" r="1.8"/><circle cx="258.38" cy="922.59" r="1.8"/><circle cx="265.02" cy="922.84" r="1.8"/><circle cx="258.38" cy="875.4" r="1.8"/><circle cx="265.02" cy="875.75" r="1.8"/><circle cx="251.72" cy="875.79" r="1.8"/><circle cx="271.68" cy="876.12" r="1.8"/><circle cx="245.07" cy="876.23" r="1.8"/><circle cx="278.32" cy="876.28" r="1.8"/><circle cx="238.42" cy="876.69" r="1.8"/><circle cx="284.97" cy="878.82" r="1.8"/><circle cx="261.7" cy="884.44" r="1.8"/><circle cx="255.05" cy="884.48" r="1.8"/><circle cx="268.35" cy="884.61" r="1.8"/><circle cx="248.4" cy="885.59" r="1.8"/><circle cx="275" cy="886.5" r="1.8"/><circle cx="261.7" cy="892.46" r="1.8"/><circle cx="255.05" cy="893.34" r="1.8"/><circle cx="268.35" cy="893.69" r="1.8"/><circle cx="248.4" cy="894.59" r="1.8"/><circle cx="275" cy="895.35" r="1.8"/><circle cx="241.75" cy="895.47" r="1.8"/><circle cx="281.65" cy="895.75" r="1.8"/><circle cx="261.7" cy="942.34" r="1.8"/><circle cx="258.38" cy="830.04" r="1.8"/><circle cx="265.02" cy="831.43" r="1.8"/><circle cx="251.72" cy="831.77" r="1.8"/><circle cx="271.68" cy="832.08" r="1.8"/><circle cx="261.7" cy="835.94" r="1.8"/><circle cx="255.05" cy="835.96" r="1.8"/><circle cx="268.35" cy="836.99" r="1.8"/><circle cx="258.38" cy="867.36" r="1.8"/><circle cx="265.02" cy="867.82" r="1.8"/><circle cx="251.72" cy="867.82" r="1.8"/><circle cx="271.68" cy="868.41" r="1.8"/><circle cx="245.07" cy="869.03" r="1.8"/><circle cx="278.32" cy="869.97" r="1.8"/><circle cx="238.42" cy="870.25" r="1.8"/><circle cx="284.97" cy="870.4" r="1.8"/><circle cx="261.7" cy="803.98" r="1.8"/><circle cx="258.38" cy="821.08" r="1.8"/><circle cx="265.02" cy="821.1" r="1.8"/><circle cx="251.72" cy="823.76" r="1.8"/><circle cx="271.68" cy="823.88" r="1.8"/><circle cx="261.7" cy="880.09" r="1.8"/><circle cx="255.05" cy="881.24" r="1.8"/><circle cx="268.35" cy="882.33" r="1.8"/><circle cx="261.7" cy="791.5" r="1.8"/><circle cx="255.05" cy="793.55" r="1.8"/><circle cx="268.35" cy="795" r="1.8"/><circle cx="261.7" cy="854.37" r="1.8"/><circle cx="255.05" cy="855.81" r="1.8"/><circle cx="268.35" cy="856.03" r="1.8"/><circle cx="248.4" cy="856.31" r="1.8"/><circle cx="275" cy="856.52" r="1.8"/><circle cx="261.7" cy="816.48" r="1.8"/><circle cx="258.38" cy="809.83" r="1.8"/><circle cx="265.02" cy="812.07" r="1.8"/><circle cx="261.7" cy="913.72" r="1.8"/><circle cx="255.05" cy="916.26" r="1.8"/><circle cx="268.35" cy="916.71" r="1.8"/><circle cx="261.7" cy="785.17" r="1.8"/><circle cx="261.7" cy="774.89" r="1.8"/><circle cx="261.7" cy="796.16" r="1.8"/><circle cx="261.7" cy="803.67" r="1.8"/><circle cx="261.7" cy="934.37" r="1.8"/></g>
<g fill="#000"><circle cx="357" cy="647.05" r="1.8"/><circle cx="357" cy="652.51" r="1.8"/><circle cx="353.68" cy="695.38" r="1.8"/><circle cx="360.32" cy="696.23" r="1.8"/><circle cx="353.68" cy="714.82" r="1.8"/><circle cx="360.32" cy="715.35" r="1.8"/><circle cx="357" cy="929.04" r="1.8"/><circle cx="357" cy="813.44" r="1.8"/><circle cx="350.35" cy="814.47" r="1.8"/><circle cx="363.65" cy="815.75" r="1.8"/><circle cx="357" cy="906.09" r="1.8"/><circle cx="357" cy="744.2" r="1.8"/><circle cx="357" cy="788.44" r="1.8"/><circle cx="357" cy="749.05" r="1.8"/><circle cx="353.68" cy="709.15" r="1.8"/><circle cx="360.32" cy="709.18" r="1.8"/><circle cx="357" cy="795.85" r="1.8"/><circle cx="350.35" cy="796.41" r="1.8"/><circle cx="363.65" cy="799.03" r="1.8"/><circle cx="357" cy="882.81" r="1.8"/><circle cx="357" cy="841.1" r="1.8"/><circle cx="357" cy="855.47" r="1.8"/><circle cx="357" cy="823.11" r="1.8"/><circle cx="357" cy="891.98" r="1.8"/><circle cx="353.68" cy="784.35" r="1.8"/><circle cx="360.32" cy="786.42" r="1.8"/><circle cx="357" cy="869.4" r="1.8"/><circle cx="353.68" cy="803.92" r="1.8"/><circle cx="360.32" cy="805.1" r="1.8"/><circle cx="357" cy="801.43" r="1.8"/><circle cx="350.35" cy="802.65" r="1.8"/><circle cx="363.65" cy="803.23" r="1.8"/><circle cx="343.7" cy="803.26" r="1.8"/><circle cx="370.3" cy="803.42" r="1.8"/><circle cx="353.68" cy="824.85" r="1.8"/><circle cx="360.32" cy="828.19" r="1.8"/><circle cx="357" cy="877.32" r="1.8"/><circle cx="357" cy="739.39" r="1.8"/><circle cx="353.68" cy="767.56" r="1.8"/><circle cx="360.32" cy="767.67" r="1.8"/><circle cx="357" cy="831.12" r="1.8"/><circle cx="357" cy="733.84" r="1.8"/><circle cx="353.68" cy="817.22" r="1.8"/><circle cx="360.32" cy="820.05" r="1.8"/><circle cx="357" cy="849.86" r="1.8"/><circle cx="353.68" cy="809.58" r="1.8"/><circle cx="360.32" cy="811.03" r="1.8"/><circle cx="357" cy="775.63" r="1.8"/><circle cx="357" cy="851.2" r="1.8"/><circle cx="357" cy="757.92" r="1.8"/></g>
<g fill="#000"><circle cx="451.2" cy="742.14" r="1.8"/><circle cx="447.88" cy="747.61" r="1.8"/><circle cx="454.52" cy="747.91" r="1.8"/><circle cx="451.2" cy="761.81" r="1.8"/><circle cx="451.2" cy="939.97" r="1.8"/><circle cx="451.2" cy="937.79" r="1.8"/><circle cx="451.2" cy="825.9" r="1.8"/><circle cx="444.55" cy="827.59" r="1.8"/><circle cx="457.85" cy="828.01" r="1.8"/><circle cx="451.2" cy="830.02" r="1.8"/><circle cx="444.55" cy="830.91" r="1.8"/><circle cx="457.85" cy="831.33" r="1.8"/><circle cx="437.9" cy="831.46" r="1.8"/><circle cx="464.5" cy="831.51" r="1.8"/><circle cx="431.25" cy="831.92" r="1.8"/><circle cx="471.15" cy="832.24" r="1.8"/><circle cx="451.2" cy="779.68" r="1.8"/><circle cx="444.55" cy="781.28" r="1.8"/><circle cx="457.85" cy="782.39" r="1.8"/><circle cx="447.88" cy="854.66" r="1.8"/><circle cx="454.52" cy="855.43" r="1.8"/><circle cx="441.22" cy="856.77" r="1.8"/><circle cx="461.18" cy="856.91" r="1.8"/><circle cx="434.57" cy="857.03" r="1.8"/><circle cx="467.82" cy="857.6" r="1.8"/><circle cx="427.93" cy="857.75" r="1.8"/><circle cx="474.47" cy="858.01" r="1.8"/><circle cx="451.2" cy="850.76" r="1.8"/><circle cx="444.55" cy="850.78" r="1.8"/><circle cx="457.85" cy="851.16" r="1.8"/><circle cx="437.9" cy="851.29" r="1.8"/><circle cx="464.5" cy="851.46" r="1.8"/><circle cx="431.25" cy="851.62" r="1.8"/><circle cx="471.15" cy="852.03" r="1.8"/><circle cx="424.6" cy="852.67" r="1.8"/><circle cx="477.8" cy="852.98" r="1.8"/><circle cx="447.88" cy="784.55" r="1.8"/><circle cx="454.52" cy="785.97" r="1.8"/><circle cx="447.88" cy="901.18" r="1.8"/><circle cx="454.52" cy="902.05" r="1.8"/><circle cx="447.88" cy="812.56" r="1.8"/><circle cx="454.52" cy="813.64" r="1.8"/><circle cx="441.22" cy="813.66" r="1.8"/><circle cx="461.18" cy="814.5" r="1.8"/><circle cx="434.57" cy="816.21" r="1.8"/><circle cx="467.82" cy="816.35" r="1.8"/><circle cx="447.88" cy="787.77" r="1.8"/><circle cx="454.52" cy="790.43" r="1.8"/><circle cx="451.2" cy="888.38" r="1.8"/><circle cx="447.88" cy="808.47" r="1.8"/><circle cx="454.52" cy="809.05" r="1.8"/><circle cx="441.22" cy="809.62" r="1.8"/><circle cx="461.18" cy="811.43" r="1.8"/><circle cx="451.2" cy="841.81" r="1.8"/><circle cx="444.55" cy="843.83" r="1.8"/><circle cx="457.85" cy="844.52" r="1.8"/><circle cx="437.9" cy="844.58" r="1.8"/><circle cx="464.5" cy="844.98" r="1.8"/><circle cx="447.88" cy="816.76" r="1.8"/><circle cx="454.52" cy="820.29" r="1.8"/><circle cx="447.88" cy="863.5" r="1.8"/><circle cx="454.52" cy="865.11" r="1.8"/><circle cx="441.22" cy="866.2" r="1.8"/><circle cx="461.18" cy="866.22" r="1.8"/><circle cx="447.88" cy="905.42" r="1.8"/><circle cx="454.52" cy="906.22" r="1.8"/><circle cx="447.88" cy="847.59" r="1.8"/><circle cx="454.52" cy="849.04" r="1.8"/><circle cx="447.88" cy="884.02" r="1.8"/><circle cx="454.52" cy="884.4" r="1.8"/><circle cx="441.22" cy="885.79" r="1.8"/><circle cx="461.18" cy="887" r="1.8"/><circle cx="447.88" cy="820.65" r="1.8"/><circle cx="454.52" cy="821.16" r="1.8"/><circle cx="441.22" cy="821.76" r="1.8"/><circle cx="461.18" cy="822.46" r="1.8"/><circle cx="434.57" cy="822.96" r="1.8"/><circle cx="467.82" cy="823.99" r="1.8"/><circle cx="427.93" cy="824.32" r="1.8"/><circle cx="474.47" cy="824.47" r="1.8"/><circle cx="447.88" cy="859.38" r="1.8"/><circle cx="454.52" cy="859.6" r="1.8"/><circle cx="441.22" cy="860.66" r="1.8"/><circle cx="461.18" cy="862.23" r="1.8"/><circle cx="447.88" cy="876.09" r="1.8"/><circle cx="454.52" cy="876.31" r="1.8"/><circle cx="451.2" cy="837.71" r="1.8"/><circle cx="444.55" cy="837.92" r="1.8"/><circle cx="457.85" cy="838.08" r="1.8"/><circle cx="437.9" cy="838.82" r="1.8"/><circle cx="464.5" cy="840.38" r="1.8"/><circle cx="431.25" cy="840.62" r="1.8"/><circle cx="471.15" cy="841.34" r="1.8"/><circle cx="447.88" cy="833.76" r="1.8"/><circle cx="454.52" cy="834.52" r="1.8"/><circle cx="441.22" cy="836.05" r="1.8"/><circle cx="461.18" cy="836.35" r="1.8"/><circle cx="447.88" cy="793.16" r="1.8"/><circle cx="454.52" cy="794.03" r="1.8"/><circle cx="451.2" cy="881.08" r="1.8"/><circle cx="451.2" cy="892.95" r="1.8"/><circle cx="444.55" cy="894.05" r="1.8"/><circle cx="457.85" cy="895.15" r="1.8"/><circle cx="447.88" cy="801.88" r="1.8"/><circle cx="454.52" cy="803.26" r="1.8"/><circle cx="451.2" cy="867.48" r="1.8"/><circle cx="444.55" cy="868.21" r="1.8"/><circle cx="457.85" cy="869.19" r="1.8"/><circle cx="451.2" cy="872.36" r="1.8"/><circle cx="444.55" cy="873.95" r="1.8"/><circle cx="457.85" cy="874.66" r="1.8"/><circle cx="447.88" cy="807.5" r="1.8"/><circle cx="454.52" cy="807.99" r="1.8"/><circle cx="451.2" cy="795.77" r="1.8"/><circle cx="451.2" cy="750.8" r="1.8"/></g>
<line x1="104.9" y1="590" x2="104.9" y2="977.9" stroke="#000" stroke-width="3.8"/>
<line x1="103.1" y1="976" x2="514" y2="976" stroke="#000" stroke-width="3.8"/>
<line x1="98" y1="592.5" x2="104.9" y2="592.5" stroke="#000" stroke-width="4.5"/>
<line x1="98" y1="701.5" x2="104.9" y2="701.5" stroke="#000" stroke-width="4.5"/>
<line x1="98" y1="811.6" x2="104.9" y2="811.6" stroke="#000" stroke-width="4.5"/>
<line x1="98" y1="920.3" x2="104.9" y2="920.3" stroke="#000" stroke-width="4.5"/>
<line x1="168.2" y1="976" x2="168.2" y2="984" stroke="#000" stroke-width="3.8"/>
<line x1="261.7" y1="976" x2="261.7" y2="984" stroke="#000" stroke-width="3.8"/>
<line x1="357" y1="976" x2="357" y2="984" stroke="#000" stroke-width="3.8"/>
<line x1="451.2" y1="976" x2="451.2" y2="984" stroke="#000" stroke-width="3.8"/>
<polyline points="167.6,674.3 167.6,662.6 259.2,662.6 259.2,674.3" fill="none" stroke="#000" stroke-width="4.5" stroke-linejoin="miter"/>
<polyline points="357,632.6 357,621.8 449,621.8 449,632.6" fill="none" stroke="#000" stroke-width="4.5" stroke-linejoin="miter"/>
<rect x="655.95" y="724" width="55.9" height="255.7" fill="#bababa" stroke="#5a5a5a" stroke-width="4.3"/>
<rect x="749.55" y="724.5" width="55.9" height="255.2" fill="#bababa" stroke="#5a5a5a" stroke-width="4.3"/>
<rect x="843.45" y="707.5" width="55.6" height="272.2" fill="#bababa" stroke="#5a5a5a" stroke-width="4.3"/>
<rect x="937.35" y="680.2" width="55.6" height="299.5" fill="#bababa" stroke="#5a5a5a" stroke-width="4.3"/>
<line x1="828.9" y1="601.3" x2="828.9" y2="979" stroke="#888888" stroke-width="3.7" stroke-dasharray="31 31.2" stroke-dashoffset="15.6"/>
<line x1="684.3" y1="673.8" x2="684.3" y2="772.5" stroke="#696969" stroke-width="5"/>
<line x1="668" y1="673.8" x2="700" y2="673.8" stroke="#696969" stroke-width="5"/>
<line x1="668" y1="772.5" x2="700" y2="772.5" stroke="#696969" stroke-width="5"/>
<line x1="778.2" y1="661" x2="778.2" y2="786" stroke="#696969" stroke-width="5"/>
<line x1="762" y1="661" x2="794" y2="661" stroke="#696969" stroke-width="5"/>
<line x1="762" y1="786" x2="794" y2="786" stroke="#696969" stroke-width="5"/>
<line x1="871.7" y1="658.8" x2="871.7" y2="753" stroke="#696969" stroke-width="5"/>
<line x1="855.7" y1="658.8" x2="887.8" y2="658.8" stroke="#696969" stroke-width="5"/>
<line x1="855.7" y1="753" x2="887.8" y2="753" stroke="#696969" stroke-width="5"/>
<line x1="964.7" y1="639.5" x2="964.7" y2="719.3" stroke="#696969" stroke-width="5"/>
<line x1="948.7" y1="639.5" x2="980.7" y2="639.5" stroke="#696969" stroke-width="5"/>
<line x1="948.7" y1="719.3" x2="980.7" y2="719.3" stroke="#696969" stroke-width="5"/>
<g fill="#000"><circle cx="684.3" cy="882.17" r="1.8"/><circle cx="684.3" cy="848.34" r="1.8"/><circle cx="684.3" cy="829.54" r="1.8"/><circle cx="684.3" cy="630.31" r="1.8"/><circle cx="684.3" cy="634.07" r="1.8"/><circle cx="684.3" cy="678.53" r="1.8"/><circle cx="677.65" cy="679.93" r="1.8"/><circle cx="690.95" cy="680.6" r="1.8"/><circle cx="671" cy="680.96" r="1.8"/><circle cx="697.6" cy="681.38" r="1.8"/><circle cx="680.97" cy="683" r="1.8"/><circle cx="687.62" cy="684.06" r="1.8"/><circle cx="674.32" cy="684.9" r="1.8"/><circle cx="694.27" cy="685.66" r="1.8"/><circle cx="684.3" cy="707.04" r="1.8"/><circle cx="677.65" cy="708.03" r="1.8"/><circle cx="690.95" cy="708.23" r="1.8"/><circle cx="671" cy="709.09" r="1.8"/><circle cx="697.6" cy="710.88" r="1.8"/><circle cx="680.97" cy="711.75" r="1.8"/><circle cx="687.62" cy="712.08" r="1.8"/><circle cx="674.32" cy="712.29" r="1.8"/><circle cx="694.27" cy="713.58" r="1.8"/><circle cx="667.67" cy="713.84" r="1.8"/><circle cx="700.92" cy="714.92" r="1.8"/><circle cx="661.02" cy="715.07" r="1.8"/><circle cx="707.57" cy="715.09" r="1.8"/><circle cx="684.3" cy="639.91" r="1.8"/><circle cx="677.65" cy="640.38" r="1.8"/><circle cx="690.95" cy="641.31" r="1.8"/><circle cx="684.3" cy="761.64" r="1.8"/><circle cx="677.65" cy="761.7" r="1.8"/><circle cx="690.95" cy="762.35" r="1.8"/><circle cx="671" cy="764.14" r="1.8"/><circle cx="697.6" cy="764.15" r="1.8"/><circle cx="664.35" cy="764.23" r="1.8"/><circle cx="704.25" cy="764.44" r="1.8"/><circle cx="684.3" cy="723.73" r="1.8"/><circle cx="677.65" cy="724.04" r="1.8"/><circle cx="690.95" cy="724.74" r="1.8"/><circle cx="671" cy="724.9" r="1.8"/><circle cx="697.6" cy="725.54" r="1.8"/><circle cx="664.35" cy="726.49" r="1.8"/><circle cx="704.25" cy="726.92" r="1.8"/><circle cx="680.97" cy="698.51" r="1.8"/><circle cx="687.62" cy="699.67" r="1.8"/><circle cx="674.32" cy="699.77" r="1.8"/><circle cx="694.27" cy="700" r="1.8"/><circle cx="667.67" cy="700.86" r="1.8"/><circle cx="700.92" cy="702.2" r="1.8"/><circle cx="680.97" cy="686.97" r="1.8"/><circle cx="687.62" cy="687.14" r="1.8"/><circle cx="674.32" cy="687.3" r="1.8"/><circle cx="694.27" cy="687.33" r="1.8"/><circle cx="667.67" cy="688.32" r="1.8"/><circle cx="700.92" cy="688.99" r="1.8"/><circle cx="684.3" cy="736.71" r="1.8"/><circle cx="677.65" cy="737.77" r="1.8"/><circle cx="690.95" cy="738.59" r="1.8"/><circle cx="671" cy="739.51" r="1.8"/><circle cx="697.6" cy="739.74" r="1.8"/><circle cx="664.35" cy="739.79" r="1.8"/><circle cx="704.25" cy="740.26" r="1.8"/><circle cx="684.3" cy="702.87" r="1.8"/><circle cx="677.65" cy="703.66" r="1.8"/><circle cx="690.95" cy="703.76" r="1.8"/><circle cx="671" cy="703.79" r="1.8"/><circle cx="697.6" cy="704.34" r="1.8"/><circle cx="664.35" cy="704.51" r="1.8"/><circle cx="704.25" cy="706.67" r="1.8"/><circle cx="684.3" cy="733.07" r="1.8"/><circle cx="677.65" cy="733.44" r="1.8"/><circle cx="690.95" cy="734.88" r="1.8"/><circle cx="671" cy="734.95" r="1.8"/><circle cx="697.6" cy="735.93" r="1.8"/><circle cx="680.97" cy="770.18" r="1.8"/><circle cx="687.62" cy="772.02" r="1.8"/><circle cx="680.97" cy="719.72" r="1.8"/><circle cx="687.62" cy="721.48" r="1.8"/><circle cx="674.32" cy="721.73" r="1.8"/><circle cx="694.27" cy="721.97" r="1.8"/><circle cx="667.67" cy="722.74" r="1.8"/><circle cx="700.92" cy="723.23" r="1.8"/><circle cx="684.3" cy="727.78" r="1.8"/><circle cx="677.65" cy="729.03" r="1.8"/><circle cx="690.95" cy="730.42" r="1.8"/><circle cx="671" cy="730.42" r="1.8"/><circle cx="697.6" cy="730.7" r="1.8"/><circle cx="664.35" cy="730.84" r="1.8"/><circle cx="704.25" cy="731.4" r="1.8"/><circle cx="657.7" cy="731.52" r="1.8"/><circle cx="710.9" cy="731.63" r="1.8"/><circle cx="680.97" cy="690.54" r="1.8"/><circle cx="687.62" cy="690.56" r="1.8"/><circle cx="674.32" cy="691.07" r="1.8"/><circle cx="694.27" cy="691.15" r="1.8"/><circle cx="667.67" cy="691.94" r="1.8"/><circle cx="700.92" cy="693.97" r="1.8"/><circle cx="684.3" cy="767.17" r="1.8"/><circle cx="677.65" cy="768.19" r="1.8"/><circle cx="690.95" cy="768.35" r="1.8"/><circle cx="671" cy="768.62" r="1.8"/><circle cx="697.6" cy="768.79" r="1.8"/><circle cx="680.97" cy="669.35" r="1.8"/><circle cx="687.62" cy="670.31" r="1.8"/><circle cx="674.32" cy="672.79" r="1.8"/><circle cx="694.27" cy="672.93" r="1.8"/><circle cx="680.97" cy="715.92" r="1.8"/><circle cx="687.62" cy="716.8" r="1.8"/><circle cx="674.32" cy="717.44" r="1.8"/><circle cx="694.27" cy="717.51" r="1.8"/><circle cx="667.67" cy="717.77" r="1.8"/><circle cx="700.92" cy="718.3" r="1.8"/><circle cx="661.02" cy="718.92" r="1.8"/><circle cx="707.57" cy="719.18" r="1.8"/><circle cx="680.97" cy="648.77" r="1.8"/><circle cx="687.62" cy="650.71" r="1.8"/><circle cx="680.97" cy="779.18" r="1.8"/><circle cx="687.62" cy="780.03" r="1.8"/><circle cx="684.3" cy="656.99" r="1.8"/><circle cx="680.97" cy="749.36" r="1.8"/><circle cx="687.62" cy="749.61" r="1.8"/><circle cx="674.32" cy="750.4" r="1.8"/><circle cx="694.27" cy="750.87" r="1.8"/><circle cx="667.67" cy="752.4" r="1.8"/><circle cx="700.92" cy="752.8" r="1.8"/><circle cx="684.3" cy="741.15" r="1.8"/><circle cx="677.65" cy="742.73" r="1.8"/><circle cx="690.95" cy="744.06" r="1.8"/><circle cx="684.3" cy="816.78" r="1.8"/><circle cx="684.3" cy="673.26" r="1.8"/><circle cx="677.65" cy="673.78" r="1.8"/><circle cx="690.95" cy="674.16" r="1.8"/><circle cx="671" cy="674.19" r="1.8"/><circle cx="697.6" cy="674.38" r="1.8"/><circle cx="664.35" cy="677.26" r="1.8"/><circle cx="704.25" cy="677.28" r="1.8"/><circle cx="680.97" cy="666.32" r="1.8"/><circle cx="687.62" cy="666.76" r="1.8"/><circle cx="674.32" cy="666.77" r="1.8"/><circle cx="694.27" cy="666.89" r="1.8"/><circle cx="684.3" cy="782.4" r="1.8"/><circle cx="677.65" cy="783.1" r="1.8"/><circle cx="690.95" cy="785.12" r="1.8"/><circle cx="684.3" cy="663.69" r="1.8"/><circle cx="680.97" cy="744.71" r="1.8"/><circle cx="687.62" cy="746.04" r="1.8"/><circle cx="680.97" cy="757.76" r="1.8"/><circle cx="687.62" cy="757.76" r="1.8"/><circle cx="674.32" cy="760.62" r="1.8"/><circle cx="694.27" cy="761.14" r="1.8"/><circle cx="684.3" cy="636.82" r="1.8"/><circle cx="684.3" cy="643.83" r="1.8"/><circle cx="684.3" cy="808.68" r="1.8"/><circle cx="680.97" cy="820.58" r="1.8"/><circle cx="687.62" cy="822.45" r="1.8"/><circle cx="684.3" cy="791.23" r="1.8"/><circle cx="680.97" cy="694.22" r="1.8"/><circle cx="687.62" cy="694.66" r="1.8"/><circle cx="674.32" cy="694.87" r="1.8"/><circle cx="694.27" cy="698.12" r="1.8"/><circle cx="680.97" cy="799.4" r="1.8"/><circle cx="687.62" cy="802.11" r="1.8"/><circle cx="684.3" cy="753.28" r="1.8"/><circle cx="684.3" cy="812.63" r="1.8"/></g>
<g fill="#000"><circle cx="774.88" cy="611.52" r="1.8"/><circle cx="781.53" cy="613.55" r="1.8"/><circle cx="774.88" cy="622.8" r="1.8"/><circle cx="781.53" cy="623.23" r="1.8"/><circle cx="778.2" cy="863.37" r="1.8"/><circle cx="778.2" cy="859.61" r="1.8"/><circle cx="778.2" cy="720.28" r="1.8"/><circle cx="771.55" cy="720.54" r="1.8"/><circle cx="784.85" cy="720.83" r="1.8"/><circle cx="764.9" cy="722.93" r="1.8"/><circle cx="791.5" cy="723.16" r="1.8"/><circle cx="778.2" cy="615.83" r="1.8"/><circle cx="778.2" cy="839.79" r="1.8"/><circle cx="774.88" cy="736.52" r="1.8"/><circle cx="781.53" cy="736.74" r="1.8"/><circle cx="768.23" cy="738.37" r="1.8"/><circle cx="788.18" cy="739.04" r="1.8"/><circle cx="774.88" cy="667.32" r="1.8"/><circle cx="781.53" cy="667.51" r="1.8"/><circle cx="768.23" cy="668.25" r="1.8"/><circle cx="788.18" cy="668.53" r="1.8"/><circle cx="774.88" cy="740.85" r="1.8"/><circle cx="781.53" cy="741.62" r="1.8"/><circle cx="768.23" cy="742.95" r="1.8"/><circle cx="788.18" cy="743.01" r="1.8"/><circle cx="761.58" cy="743.04" r="1.8"/><circle cx="794.83" cy="744.48" r="1.8"/><circle cx="778.2" cy="765.56" r="1.8"/><circle cx="771.55" cy="766.37" r="1.8"/><circle cx="784.85" cy="767.54" r="1.8"/><circle cx="764.9" cy="768.17" r="1.8"/><circle cx="791.5" cy="769.13" r="1.8"/><circle cx="778.2" cy="803.52" r="1.8"/><circle cx="774.88" cy="712.14" r="1.8"/><circle cx="781.53" cy="712.56" r="1.8"/><circle cx="768.23" cy="713.37" r="1.8"/><circle cx="788.18" cy="714.75" r="1.8"/><circle cx="774.88" cy="649.98" r="1.8"/><circle cx="781.53" cy="650.89" r="1.8"/><circle cx="768.23" cy="651.66" r="1.8"/><circle cx="788.18" cy="651.84" r="1.8"/><circle cx="778.2" cy="787.1" r="1.8"/><circle cx="771.55" cy="787.23" r="1.8"/><circle cx="784.85" cy="787.76" r="1.8"/><circle cx="764.9" cy="789.76" r="1.8"/><circle cx="791.5" cy="789.78" r="1.8"/><circle cx="774.88" cy="769.93" r="1.8"/><circle cx="781.53" cy="769.94" r="1.8"/><circle cx="768.23" cy="771.71" r="1.8"/><circle cx="788.18" cy="773.06" r="1.8"/><circle cx="774.88" cy="744.87" r="1.8"/><circle cx="781.53" cy="747.06" r="1.8"/><circle cx="778.2" cy="656.83" r="1.8"/><circle cx="771.55" cy="657.01" r="1.8"/><circle cx="784.85" cy="657.57" r="1.8"/><circle cx="764.9" cy="657.87" r="1.8"/><circle cx="791.5" cy="660.12" r="1.8"/><circle cx="778.2" cy="761.44" r="1.8"/><circle cx="771.55" cy="762.04" r="1.8"/><circle cx="784.85" cy="762.57" r="1.8"/><circle cx="764.9" cy="763.51" r="1.8"/><circle cx="791.5" cy="763.7" r="1.8"/><circle cx="758.25" cy="764.49" r="1.8"/><circle cx="798.15" cy="765.42" r="1.8"/><circle cx="778.2" cy="813.74" r="1.8"/><circle cx="774.88" cy="854.68" r="1.8"/><circle cx="781.53" cy="857.21" r="1.8"/><circle cx="774.88" cy="673.38" r="1.8"/><circle cx="781.53" cy="674.87" r="1.8"/><circle cx="768.23" cy="675.43" r="1.8"/><circle cx="788.18" cy="675.73" r="1.8"/><circle cx="774.88" cy="757.38" r="1.8"/><circle cx="781.53" cy="758.42" r="1.8"/><circle cx="768.23" cy="759.08" r="1.8"/><circle cx="788.18" cy="761.25" r="1.8"/><circle cx="778.2" cy="690.17" r="1.8"/><circle cx="771.55" cy="690.24" r="1.8"/><circle cx="784.85" cy="691.58" r="1.8"/><circle cx="778.2" cy="774.31" r="1.8"/><circle cx="771.55" cy="775.37" r="1.8"/><circle cx="784.85" cy="776.23" r="1.8"/><circle cx="764.9" cy="777.5" r="1.8"/><circle cx="791.5" cy="777.86" r="1.8"/><circle cx="778.2" cy="723.51" r="1.8"/><circle cx="771.55" cy="724.2" r="1.8"/><circle cx="784.85" cy="724.23" r="1.8"/><circle cx="764.9" cy="725.47" r="1.8"/><circle cx="791.5" cy="727.13" r="1.8"/><circle cx="774.88" cy="816.85" r="1.8"/><circle cx="781.53" cy="819.21" r="1.8"/><circle cx="778.2" cy="632.07" r="1.8"/><circle cx="778.2" cy="733.04" r="1.8"/><circle cx="771.55" cy="733.31" r="1.8"/><circle cx="784.85" cy="733.38" r="1.8"/><circle cx="764.9" cy="734.19" r="1.8"/><circle cx="791.5" cy="735.59" r="1.8"/><circle cx="778.2" cy="707.23" r="1.8"/><circle cx="771.55" cy="707.25" r="1.8"/><circle cx="784.85" cy="707.35" r="1.8"/><circle cx="764.9" cy="710.54" r="1.8"/><circle cx="791.5" cy="710.89" r="1.8"/><circle cx="778.2" cy="704.2" r="1.8"/><circle cx="778.2" cy="652.15" r="1.8"/><circle cx="778.2" cy="849.2" r="1.8"/><circle cx="778.2" cy="672.86" r="1.8"/><circle cx="774.88" cy="698.52" r="1.8"/><circle cx="781.53" cy="699.11" r="1.8"/><circle cx="768.23" cy="699.2" r="1.8"/><circle cx="788.18" cy="699.54" r="1.8"/><circle cx="761.58" cy="701.37" r="1.8"/><circle cx="794.83" cy="702.38" r="1.8"/><circle cx="778.2" cy="808.49" r="1.8"/><circle cx="778.2" cy="753.08" r="1.8"/><circle cx="771.55" cy="753.65" r="1.8"/><circle cx="784.85" cy="756.22" r="1.8"/><circle cx="778.2" cy="792.83" r="1.8"/><circle cx="774.88" cy="727.85" r="1.8"/><circle cx="781.53" cy="728.19" r="1.8"/><circle cx="768.23" cy="730.41" r="1.8"/><circle cx="788.18" cy="731.4" r="1.8"/><circle cx="778.2" cy="716.97" r="1.8"/><circle cx="771.55" cy="717.37" r="1.8"/><circle cx="784.85" cy="717.78" r="1.8"/><circle cx="764.9" cy="718.48" r="1.8"/><circle cx="791.5" cy="718.64" r="1.8"/><circle cx="774.88" cy="784.2" r="1.8"/><circle cx="781.53" cy="785.74" r="1.8"/><circle cx="774.88" cy="639.89" r="1.8"/><circle cx="781.53" cy="642.55" r="1.8"/><circle cx="774.88" cy="749.95" r="1.8"/><circle cx="781.53" cy="750.03" r="1.8"/><circle cx="778.2" cy="841.33" r="1.8"/><circle cx="774.88" cy="681.57" r="1.8"/><circle cx="781.53" cy="683.42" r="1.8"/><circle cx="778.2" cy="800.98" r="1.8"/><circle cx="778.2" cy="694.23" r="1.8"/><circle cx="778.2" cy="688.27" r="1.8"/><circle cx="778.2" cy="781.6" r="1.8"/><circle cx="778.2" cy="829.9" r="1.8"/><circle cx="778.2" cy="852.13" r="1.8"/></g>
<g fill="#000"><circle cx="871.7" cy="630.31" r="1.8"/><circle cx="871.7" cy="634.07" r="1.8"/><circle cx="871.7" cy="818.26" r="1.8"/><circle cx="871.7" cy="806.99" r="1.8"/><circle cx="871.7" cy="790.19" r="1.8"/><circle cx="868.38" cy="712.06" r="1.8"/><circle cx="875.03" cy="712.14" r="1.8"/><circle cx="861.73" cy="713.35" r="1.8"/><circle cx="881.68" cy="714.03" r="1.8"/><circle cx="871.7" cy="742.96" r="1.8"/><circle cx="865.05" cy="744.07" r="1.8"/><circle cx="878.35" cy="744.32" r="1.8"/><circle cx="871.7" cy="727.89" r="1.8"/><circle cx="865.05" cy="729.43" r="1.8"/><circle cx="878.35" cy="730.2" r="1.8"/><circle cx="871.7" cy="695.25" r="1.8"/><circle cx="865.05" cy="695.27" r="1.8"/><circle cx="878.35" cy="696.05" r="1.8"/><circle cx="871.7" cy="676.01" r="1.8"/><circle cx="865.05" cy="676.59" r="1.8"/><circle cx="878.35" cy="676.63" r="1.8"/><circle cx="871.7" cy="665.04" r="1.8"/><circle cx="865.05" cy="665.42" r="1.8"/><circle cx="878.35" cy="668.28" r="1.8"/><circle cx="868.38" cy="660.83" r="1.8"/><circle cx="875.03" cy="663.81" r="1.8"/><circle cx="871.7" cy="652.17" r="1.8"/><circle cx="865.05" cy="652.55" r="1.8"/><circle cx="878.35" cy="654.22" r="1.8"/><circle cx="871.7" cy="642.8" r="1.8"/><circle cx="871.7" cy="767.13" r="1.8"/><circle cx="871.7" cy="720.71" r="1.8"/><circle cx="865.05" cy="721.73" r="1.8"/><circle cx="878.35" cy="722.13" r="1.8"/><circle cx="871.7" cy="784.05" r="1.8"/><circle cx="871.7" cy="745.66" r="1.8"/><circle cx="871.7" cy="706.42" r="1.8"/><circle cx="868.38" cy="706.95" r="1.8"/><circle cx="875.03" cy="709.12" r="1.8"/><circle cx="871.7" cy="687.34" r="1.8"/><circle cx="871.7" cy="716.66" r="1.8"/><circle cx="871.7" cy="678.16" r="1.8"/><circle cx="868.38" cy="771.27" r="1.8"/><circle cx="875.03" cy="773.04" r="1.8"/><circle cx="871.7" cy="759.49" r="1.8"/><circle cx="871.7" cy="646.61" r="1.8"/><circle cx="871.7" cy="774.07" r="1.8"/><circle cx="871.7" cy="648.64" r="1.8"/><circle cx="871.7" cy="735.99" r="1.8"/><circle cx="871.7" cy="692.65" r="1.8"/></g>
<g fill="#000"><circle cx="964.7" cy="607.76" r="1.8"/><circle cx="964.7" cy="825.78" r="1.8"/><circle cx="964.7" cy="788.19" r="1.8"/><circle cx="964.7" cy="773.15" r="1.8"/><circle cx="961.38" cy="636.32" r="1.8"/><circle cx="968.03" cy="636.43" r="1.8"/><circle cx="954.73" cy="637.51" r="1.8"/><circle cx="974.68" cy="638.16" r="1.8"/><circle cx="948.08" cy="638.85" r="1.8"/><circle cx="981.33" cy="639.08" r="1.8"/><circle cx="961.38" cy="631.88" r="1.8"/><circle cx="968.03" cy="632.35" r="1.8"/><circle cx="954.73" cy="633.1" r="1.8"/><circle cx="974.68" cy="633.96" r="1.8"/><circle cx="964.7" cy="656.65" r="1.8"/><circle cx="958.05" cy="656.8" r="1.8"/><circle cx="971.35" cy="658.12" r="1.8"/><circle cx="951.4" cy="659.36" r="1.8"/><circle cx="978" cy="659.53" r="1.8"/><circle cx="964.7" cy="727.82" r="1.8"/><circle cx="958.05" cy="729.44" r="1.8"/><circle cx="971.35" cy="730.97" r="1.8"/><circle cx="961.38" cy="682.34" r="1.8"/><circle cx="968.03" cy="682.64" r="1.8"/><circle cx="954.73" cy="683.47" r="1.8"/><circle cx="974.68" cy="683.61" r="1.8"/><circle cx="961.38" cy="664.78" r="1.8"/><circle cx="968.03" cy="665.02" r="1.8"/><circle cx="954.73" cy="665.11" r="1.8"/><circle cx="974.68" cy="666.09" r="1.8"/><circle cx="948.08" cy="667.64" r="1.8"/><circle cx="981.33" cy="667.99" r="1.8"/><circle cx="941.43" cy="668.06" r="1.8"/><circle cx="987.98" cy="668.56" r="1.8"/><circle cx="961.38" cy="691.37" r="1.8"/><circle cx="968.03" cy="692.14" r="1.8"/><circle cx="964.7" cy="648.35" r="1.8"/><circle cx="958.05" cy="648.94" r="1.8"/><circle cx="971.35" cy="649.3" r="1.8"/><circle cx="951.4" cy="649.31" r="1.8"/><circle cx="978" cy="650.77" r="1.8"/><circle cx="961.38" cy="707.85" r="1.8"/><circle cx="968.03" cy="709.86" r="1.8"/><circle cx="954.73" cy="710.4" r="1.8"/><circle cx="974.68" cy="710.5" r="1.8"/><circle cx="964.7" cy="627.87" r="1.8"/><circle cx="958.05" cy="630.32" r="1.8"/><circle cx="971.35" cy="630.76" r="1.8"/><circle cx="961.38" cy="669.46" r="1.8"/><circle cx="968.03" cy="669.75" r="1.8"/><circle cx="954.73" cy="670.44" r="1.8"/><circle cx="974.68" cy="670.46" r="1.8"/><circle cx="948.08" cy="671.14" r="1.8"/><circle cx="981.33" cy="671.72" r="1.8"/><circle cx="941.43" cy="671.76" r="1.8"/><circle cx="987.98" cy="672.46" r="1.8"/><circle cx="934.78" cy="672.85" r="1.8"/><circle cx="994.62" cy="673.01" r="1.8"/><circle cx="961.38" cy="645.24" r="1.8"/><circle cx="968.03" cy="647.83" r="1.8"/><circle cx="964.7" cy="641.73" r="1.8"/><circle cx="958.05" cy="643.23" r="1.8"/><circle cx="971.35" cy="643.31" r="1.8"/><circle cx="964.7" cy="762.33" r="1.8"/><circle cx="961.38" cy="699.49" r="1.8"/><circle cx="968.03" cy="699.58" r="1.8"/><circle cx="954.73" cy="700.62" r="1.8"/><circle cx="974.68" cy="702.04" r="1.8"/><circle cx="964.7" cy="694.45" r="1.8"/><circle cx="958.05" cy="694.63" r="1.8"/><circle cx="971.35" cy="695.58" r="1.8"/><circle cx="951.4" cy="695.67" r="1.8"/><circle cx="978" cy="695.76" r="1.8"/><circle cx="944.75" cy="697.14" r="1.8"/><circle cx="984.65" cy="697.37" r="1.8"/><circle cx="961.38" cy="712.48" r="1.8"/><circle cx="968.03" cy="712.5" r="1.8"/><circle cx="961.38" cy="717.57" r="1.8"/><circle cx="968.03" cy="719.08" r="1.8"/><circle cx="964.7" cy="610.57" r="1.8"/><circle cx="964.7" cy="720.89" r="1.8"/><circle cx="958.05" cy="720.95" r="1.8"/><circle cx="971.35" cy="722.01" r="1.8"/><circle cx="951.4" cy="722.8" r="1.8"/><circle cx="978" cy="723.42" r="1.8"/><circle cx="964.7" cy="703.03" r="1.8"/><circle cx="958.05" cy="703.15" r="1.8"/><circle cx="971.35" cy="703.21" r="1.8"/><circle cx="951.4" cy="704.76" r="1.8"/><circle cx="978" cy="704.94" r="1.8"/><circle cx="964.7" cy="652.44" r="1.8"/><circle cx="958.05" cy="653.03" r="1.8"/><circle cx="971.35" cy="653.1" r="1.8"/><circle cx="951.4" cy="654.77" r="1.8"/><circle cx="978" cy="654.92" r="1.8"/><circle cx="964.7" cy="673.14" r="1.8"/><circle cx="958.05" cy="673.25" r="1.8"/><circle cx="971.35" cy="673.6" r="1.8"/><circle cx="951.4" cy="676.3" r="1.8"/><circle cx="978" cy="677.1" r="1.8"/><circle cx="961.38" cy="678.21" r="1.8"/><circle cx="968.03" cy="680.28" r="1.8"/><circle cx="954.73" cy="680.95" r="1.8"/><circle cx="974.68" cy="681.13" r="1.8"/><circle cx="961.38" cy="660.84" r="1.8"/><circle cx="968.03" cy="661.94" r="1.8"/><circle cx="964.7" cy="624.74" r="1.8"/><circle cx="958.05" cy="625.33" r="1.8"/><circle cx="971.35" cy="626.61" r="1.8"/><circle cx="964.7" cy="621.15" r="1.8"/><circle cx="964.7" cy="685.95" r="1.8"/><circle cx="958.05" cy="686.31" r="1.8"/><circle cx="971.35" cy="686.61" r="1.8"/><circle cx="964.7" cy="736.77" r="1.8"/><circle cx="961.38" cy="732.97" r="1.8"/><circle cx="968.03" cy="733.95" r="1.8"/><circle cx="964.7" cy="766.65" r="1.8"/><circle cx="964.7" cy="726.97" r="1.8"/><circle cx="964.7" cy="618.04" r="1.8"/><circle cx="964.7" cy="741.85" r="1.8"/></g>
<line x1="626.4" y1="602" x2="626.4" y2="981.6" stroke="#000" stroke-width="3.8"/>
<line x1="624.5" y1="979.7" x2="1029" y2="979.7" stroke="#000" stroke-width="3.8"/>
<line x1="620.2" y1="603" x2="626.4" y2="603" stroke="#000" stroke-width="3.8"/>
<line x1="620.2" y1="697.2" x2="626.4" y2="697.2" stroke="#000" stroke-width="3.8"/>
<line x1="620.2" y1="791.5" x2="626.4" y2="791.5" stroke="#000" stroke-width="3.8"/>
<line x1="620.2" y1="885.3" x2="626.4" y2="885.3" stroke="#000" stroke-width="3.8"/>
<line x1="688" y1="979.7" x2="688" y2="986.2" stroke="#000" stroke-width="3.8"/>
<line x1="781.3" y1="979.7" x2="781.3" y2="986.2" stroke="#000" stroke-width="3.8"/>
<line x1="874.3" y1="979.7" x2="874.3" y2="986.2" stroke="#000" stroke-width="3.8"/>
<line x1="967" y1="979.7" x2="967" y2="986.2" stroke="#000" stroke-width="3.8"/>
<polyline points="872.4,605 872.4,593 964,593 964,605" fill="none" stroke="#000" stroke-width="3.8" stroke-linejoin="miter"/>
<rect x="140.2" y="1314" width="58.3" height="161.3" fill="#bababa" stroke="#5a5a5a" stroke-width="3.6"/>
<rect x="235.8" y="1343.9" width="57.9" height="131.4" fill="#bababa" stroke="#5a5a5a" stroke-width="3.6"/>
<rect x="330.8" y="1309.3" width="57.7" height="166" fill="#bababa" stroke="#5a5a5a" stroke-width="3.6"/>
<rect x="426.4" y="1326.9" width="58" height="148.4" fill="#bababa" stroke="#5a5a5a" stroke-width="3.6"/>
<line x1="169.2" y1="1252.5" x2="169.2" y2="1374.3" stroke="#696969" stroke-width="3.6"/>
<line x1="153" y1="1252.5" x2="186" y2="1252.5" stroke="#696969" stroke-width="3.6"/>
<line x1="153" y1="1374.3" x2="186" y2="1374.3" stroke="#696969" stroke-width="3.6"/>
<line x1="264.4" y1="1305" x2="264.4" y2="1381.4" stroke="#696969" stroke-width="3.6"/>
<line x1="248" y1="1305" x2="282" y2="1305" stroke="#696969" stroke-width="3.6"/>
<line x1="248" y1="1381.4" x2="282" y2="1381.4" stroke="#696969" stroke-width="3.6"/>
<line x1="360" y1="1257" x2="360" y2="1358.3" stroke="#696969" stroke-width="3.6"/>
<line x1="343" y1="1257" x2="376.6" y2="1257" stroke="#696969" stroke-width="3.6"/>
<line x1="343" y1="1358.3" x2="376.6" y2="1358.3" stroke="#696969" stroke-width="3.6"/>
<line x1="455" y1="1287.5" x2="455" y2="1364.4" stroke="#696969" stroke-width="3.6"/>
<line x1="439" y1="1287.5" x2="471.7" y2="1287.5" stroke="#696969" stroke-width="3.6"/>
<line x1="439" y1="1364.4" x2="471.7" y2="1364.4" stroke="#696969" stroke-width="3.6"/>
<g fill="#000"><circle cx="169.2" cy="1090.1" r="2.3"/><circle cx="169.2" cy="1122.2" r="2.3"/><circle cx="169.2" cy="1128.62" r="2.3"/><circle cx="169.2" cy="1141.46" r="2.3"/><circle cx="169.2" cy="1154.3" r="2.3"/><circle cx="169.2" cy="1160.72" r="2.3"/><circle cx="169.2" cy="1176.77" r="2.3"/><circle cx="169.2" cy="1186.4" r="2.3"/><circle cx="169.2" cy="1202.45" r="2.3"/><circle cx="165.35" cy="1221.71" r="2.3"/><circle cx="173.05" cy="1224.92" r="2.3"/><circle cx="165.35" cy="1411.1" r="2.3"/><circle cx="173.05" cy="1412.7" r="2.3"/><circle cx="157.65" cy="1413.69" r="2.3"/><circle cx="180.75" cy="1414.31" r="2.3"/><circle cx="165.35" cy="1380.66" r="2.3"/><circle cx="173.05" cy="1381.67" r="2.3"/><circle cx="157.65" cy="1383.69" r="2.3"/><circle cx="180.75" cy="1383.78" r="2.3"/><circle cx="169.2" cy="1392.66" r="2.3"/><circle cx="165.35" cy="1316.82" r="2.3"/><circle cx="173.05" cy="1317.38" r="2.3"/><circle cx="157.65" cy="1318.19" r="2.3"/><circle cx="180.75" cy="1319.53" r="2.3"/><circle cx="149.95" cy="1320.16" r="2.3"/><circle cx="188.45" cy="1320.21" r="2.3"/><circle cx="169.2" cy="1305.52" r="2.3"/><circle cx="161.5" cy="1307.11" r="2.3"/><circle cx="176.9" cy="1307.4" r="2.3"/><circle cx="165.35" cy="1240.67" r="2.3"/><circle cx="173.05" cy="1243.86" r="2.3"/><circle cx="169.2" cy="1386.33" r="2.3"/><circle cx="161.5" cy="1386.92" r="2.3"/><circle cx="176.9" cy="1387.61" r="2.3"/><circle cx="169.2" cy="1351.27" r="2.3"/><circle cx="161.5" cy="1351.81" r="2.3"/><circle cx="176.9" cy="1352.79" r="2.3"/><circle cx="153.8" cy="1352.87" r="2.3"/><circle cx="184.6" cy="1354.28" r="2.3"/><circle cx="146.1" cy="1354.3" r="2.3"/><circle cx="192.3" cy="1354.32" r="2.3"/><circle cx="165.35" cy="1286.35" r="2.3"/><circle cx="173.05" cy="1286.45" r="2.3"/><circle cx="157.65" cy="1288.9" r="2.3"/><circle cx="180.75" cy="1289.25" r="2.3"/><circle cx="169.2" cy="1330.47" r="2.3"/><circle cx="161.5" cy="1331.29" r="2.3"/><circle cx="176.9" cy="1331.83" r="2.3"/><circle cx="153.8" cy="1333.38" r="2.3"/><circle cx="184.6" cy="1333.48" r="2.3"/><circle cx="169.2" cy="1336.07" r="2.3"/><circle cx="162.2" cy="1336.24" r="2.3"/><circle cx="176.2" cy="1337.45" r="2.3"/><circle cx="155.2" cy="1338.08" r="2.3"/><circle cx="183.2" cy="1338.38" r="2.3"/><circle cx="148.2" cy="1338.49" r="2.3"/><circle cx="190.2" cy="1338.55" r="2.3"/><circle cx="141.2" cy="1338.96" r="2.3"/><circle cx="197.2" cy="1339.01" r="2.3"/><circle cx="165.35" cy="1253.11" r="2.3"/><circle cx="173.05" cy="1253.22" r="2.3"/><circle cx="169.2" cy="1371.47" r="2.3"/><circle cx="161.5" cy="1372.4" r="2.3"/><circle cx="176.9" cy="1372.68" r="2.3"/><circle cx="153.8" cy="1372.9" r="2.3"/><circle cx="184.6" cy="1374.61" r="2.3"/><circle cx="169.2" cy="1376" r="2.3"/><circle cx="161.5" cy="1376.24" r="2.3"/><circle cx="176.9" cy="1376.72" r="2.3"/><circle cx="153.8" cy="1379.39" r="2.3"/><circle cx="184.6" cy="1379.55" r="2.3"/><circle cx="165.35" cy="1310.42" r="2.3"/><circle cx="173.05" cy="1311.69" r="2.3"/><circle cx="157.65" cy="1312.29" r="2.3"/><circle cx="180.75" cy="1312.65" r="2.3"/><circle cx="149.95" cy="1312.76" r="2.3"/><circle cx="188.45" cy="1313.61" r="2.3"/><circle cx="142.25" cy="1315" r="2.3"/><circle cx="196.15" cy="1315.14" r="2.3"/><circle cx="165.35" cy="1365.55" r="2.3"/><circle cx="173.05" cy="1365.8" r="2.3"/><circle cx="157.65" cy="1367.49" r="2.3"/><circle cx="180.75" cy="1368.02" r="2.3"/><circle cx="165.35" cy="1300.34" r="2.3"/><circle cx="173.05" cy="1300.57" r="2.3"/><circle cx="157.65" cy="1302.12" r="2.3"/><circle cx="180.75" cy="1302.28" r="2.3"/><circle cx="149.95" cy="1304.27" r="2.3"/><circle cx="188.45" cy="1304.9" r="2.3"/><circle cx="165.35" cy="1297.21" r="2.3"/><circle cx="173.05" cy="1298.28" r="2.3"/><circle cx="157.65" cy="1298.46" r="2.3"/><circle cx="180.75" cy="1299.09" r="2.3"/><circle cx="169.2" cy="1395.45" r="2.3"/><circle cx="161.5" cy="1396.26" r="2.3"/><circle cx="176.9" cy="1398.84" r="2.3"/><circle cx="165.35" cy="1345.89" r="2.3"/><circle cx="173.05" cy="1348.34" r="2.3"/><circle cx="157.65" cy="1348.53" r="2.3"/><circle cx="180.75" cy="1348.61" r="2.3"/><circle cx="165.35" cy="1290.99" r="2.3"/><circle cx="173.05" cy="1292.98" r="2.3"/><circle cx="157.65" cy="1293.05" r="2.3"/><circle cx="180.75" cy="1293.28" r="2.3"/><circle cx="149.95" cy="1294.88" r="2.3"/><circle cx="188.45" cy="1295.01" r="2.3"/><circle cx="169.2" cy="1256.31" r="2.3"/><circle cx="161.5" cy="1258.08" r="2.3"/><circle cx="176.9" cy="1258.48" r="2.3"/><circle cx="153.8" cy="1258.58" r="2.3"/><circle cx="184.6" cy="1259.56" r="2.3"/><circle cx="169.2" cy="1215.38" r="2.3"/><circle cx="169.2" cy="1281.52" r="2.3"/><circle cx="161.5" cy="1283.41" r="2.3"/><circle cx="176.9" cy="1284.5" r="2.3"/><circle cx="169.2" cy="1272.93" r="2.3"/><circle cx="161.5" cy="1273.98" r="2.3"/><circle cx="176.9" cy="1274.39" r="2.3"/><circle cx="169.2" cy="1206.38" r="2.3"/><circle cx="169.2" cy="1248.56" r="2.3"/><circle cx="165.35" cy="1361.88" r="2.3"/><circle cx="173.05" cy="1362.28" r="2.3"/><circle cx="157.65" cy="1362.47" r="2.3"/><circle cx="180.75" cy="1363.77" r="2.3"/><circle cx="149.95" cy="1363.79" r="2.3"/><circle cx="188.45" cy="1364.39" r="2.3"/><circle cx="165.35" cy="1261.86" r="2.3"/><circle cx="173.05" cy="1263.19" r="2.3"/><circle cx="157.65" cy="1263.3" r="2.3"/><circle cx="180.75" cy="1263.72" r="2.3"/><circle cx="169.2" cy="1325.31" r="2.3"/><circle cx="161.5" cy="1326.3" r="2.3"/><circle cx="176.9" cy="1327.01" r="2.3"/><circle cx="153.8" cy="1328.6" r="2.3"/><circle cx="184.6" cy="1328.98" r="2.3"/><circle cx="165.35" cy="1320.59" r="2.3"/><circle cx="173.05" cy="1321.1" r="2.3"/><circle cx="165.35" cy="1268.99" r="2.3"/><circle cx="173.05" cy="1270.28" r="2.3"/><circle cx="169.2" cy="1355.82" r="2.3"/><circle cx="161.5" cy="1356.97" r="2.3"/><circle cx="176.9" cy="1358.37" r="2.3"/><circle cx="165.35" cy="1225.85" r="2.3"/><circle cx="173.05" cy="1226.4" r="2.3"/><circle cx="169.2" cy="1341.3" r="2.3"/><circle cx="161.5" cy="1342.87" r="2.3"/><circle cx="176.9" cy="1344.77" r="2.3"/><circle cx="165.35" cy="1213.62" r="2.3"/><circle cx="173.05" cy="1213.81" r="2.3"/><circle cx="169.2" cy="1404.4" r="2.3"/></g>
<g fill="#000"><circle cx="264.4" cy="1208.87" r="2.3"/><circle cx="264.4" cy="1237.76" r="2.3"/><circle cx="260.55" cy="1260.57" r="2.3"/><circle cx="268.25" cy="1263.44" r="2.3"/><circle cx="260.55" cy="1268.74" r="2.3"/><circle cx="268.25" cy="1269.86" r="2.3"/><circle cx="264.4" cy="1273.07" r="2.3"/><circle cx="264.4" cy="1415.91" r="2.3"/><circle cx="264.4" cy="1414.31" r="2.3"/><circle cx="261.85" cy="1345.45" r="2.3"/><circle cx="266.95" cy="1346.19" r="2.3"/><circle cx="256.76" cy="1346.29" r="2.3"/><circle cx="272.04" cy="1346.69" r="2.3"/><circle cx="251.67" cy="1346.87" r="2.3"/><circle cx="277.13" cy="1347.08" r="2.3"/><circle cx="246.58" cy="1347.9" r="2.3"/><circle cx="282.22" cy="1348.87" r="2.3"/><circle cx="241.49" cy="1349.54" r="2.3"/><circle cx="287.31" cy="1350.01" r="2.3"/><circle cx="236.4" cy="1350.21" r="2.3"/><circle cx="292.4" cy="1350.24" r="2.3"/><circle cx="260.55" cy="1350.97" r="2.3"/><circle cx="268.25" cy="1351.13" r="2.3"/><circle cx="252.85" cy="1351.87" r="2.3"/><circle cx="275.95" cy="1352.6" r="2.3"/><circle cx="245.15" cy="1352.74" r="2.3"/><circle cx="283.65" cy="1354.08" r="2.3"/><circle cx="260.55" cy="1371.65" r="2.3"/><circle cx="268.25" cy="1372.32" r="2.3"/><circle cx="252.85" cy="1372.55" r="2.3"/><circle cx="275.95" cy="1373.09" r="2.3"/><circle cx="245.15" cy="1373.11" r="2.3"/><circle cx="283.65" cy="1373.82" r="2.3"/><circle cx="260.55" cy="1375.89" r="2.3"/><circle cx="268.25" cy="1378.39" r="2.3"/><circle cx="252.85" cy="1378.59" r="2.3"/><circle cx="275.95" cy="1380.08" r="2.3"/><circle cx="260.55" cy="1357.43" r="2.3"/><circle cx="268.25" cy="1357.49" r="2.3"/><circle cx="252.85" cy="1358.32" r="2.3"/><circle cx="275.95" cy="1358.43" r="2.3"/><circle cx="245.15" cy="1359.24" r="2.3"/><circle cx="283.65" cy="1359.3" r="2.3"/><circle cx="237.45" cy="1360.1" r="2.3"/><circle cx="291.35" cy="1360.1" r="2.3"/><circle cx="260.55" cy="1325.32" r="2.3"/><circle cx="268.25" cy="1325.41" r="2.3"/><circle cx="252.85" cy="1325.42" r="2.3"/><circle cx="275.95" cy="1326.18" r="2.3"/><circle cx="245.15" cy="1327.04" r="2.3"/><circle cx="283.65" cy="1327.07" r="2.3"/><circle cx="237.45" cy="1327.6" r="2.3"/><circle cx="291.35" cy="1327.85" r="2.3"/><circle cx="264.4" cy="1380.5" r="2.3"/><circle cx="256.7" cy="1381.96" r="2.3"/><circle cx="272.1" cy="1382.1" r="2.3"/><circle cx="249" cy="1382.25" r="2.3"/><circle cx="279.8" cy="1384.07" r="2.3"/><circle cx="260.55" cy="1297.85" r="2.3"/><circle cx="268.25" cy="1299.39" r="2.3"/><circle cx="264.4" cy="1330.69" r="2.3"/><circle cx="256.7" cy="1332.25" r="2.3"/><circle cx="272.1" cy="1333.52" r="2.3"/><circle cx="249" cy="1334.72" r="2.3"/><circle cx="279.8" cy="1334.73" r="2.3"/><circle cx="241.3" cy="1334.79" r="2.3"/><circle cx="287.5" cy="1334.84" r="2.3"/><circle cx="264.4" cy="1295.22" r="2.3"/><circle cx="260.55" cy="1320.99" r="2.3"/><circle cx="268.25" cy="1323.17" r="2.3"/><circle cx="252.85" cy="1323.88" r="2.3"/><circle cx="275.95" cy="1324.79" r="2.3"/><circle cx="245.15" cy="1324.96" r="2.3"/><circle cx="283.65" cy="1325.15" r="2.3"/><circle cx="260.55" cy="1300.99" r="2.3"/><circle cx="268.25" cy="1301.12" r="2.3"/><circle cx="252.85" cy="1301.21" r="2.3"/><circle cx="275.95" cy="1303.51" r="2.3"/><circle cx="245.15" cy="1303.86" r="2.3"/><circle cx="283.65" cy="1304.12" r="2.3"/><circle cx="260.55" cy="1310.38" r="2.3"/><circle cx="268.25" cy="1310.71" r="2.3"/><circle cx="252.85" cy="1312.71" r="2.3"/><circle cx="275.95" cy="1312.92" r="2.3"/><circle cx="260.55" cy="1306.25" r="2.3"/><circle cx="268.25" cy="1309.93" r="2.3"/><circle cx="264.4" cy="1366.26" r="2.3"/><circle cx="256.7" cy="1366.75" r="2.3"/><circle cx="272.1" cy="1366.87" r="2.3"/><circle cx="260.55" cy="1361.07" r="2.3"/><circle cx="268.25" cy="1361.14" r="2.3"/><circle cx="252.85" cy="1364.08" r="2.3"/><circle cx="275.95" cy="1365.15" r="2.3"/><circle cx="260.55" cy="1342.07" r="2.3"/><circle cx="268.25" cy="1342.57" r="2.3"/><circle cx="252.85" cy="1343.46" r="2.3"/><circle cx="275.95" cy="1343.49" r="2.3"/><circle cx="260.55" cy="1385.57" r="2.3"/><circle cx="268.25" cy="1388.82" r="2.3"/><circle cx="260.55" cy="1288.35" r="2.3"/><circle cx="268.25" cy="1289.53" r="2.3"/><circle cx="260.55" cy="1396.61" r="2.3"/><circle cx="268.25" cy="1396.62" r="2.3"/><circle cx="264.4" cy="1401.6" r="2.3"/><circle cx="260.55" cy="1317.44" r="2.3"/><circle cx="268.25" cy="1318.95" r="2.3"/><circle cx="264.4" cy="1335.76" r="2.3"/><circle cx="256.7" cy="1335.97" r="2.3"/><circle cx="272.1" cy="1337.29" r="2.3"/><circle cx="264.4" cy="1283.69" r="2.3"/></g>
<g fill="#000"><circle cx="360" cy="1131.83" r="2.3"/><circle cx="360" cy="1144.67" r="2.3"/><circle cx="360" cy="1163.93" r="2.3"/><circle cx="360" cy="1179.98" r="2.3"/><circle cx="360" cy="1218.5" r="2.3"/><circle cx="356.15" cy="1230.97" r="2.3"/><circle cx="363.85" cy="1231.34" r="2.3"/><circle cx="360" cy="1401.47" r="2.3"/><circle cx="356.15" cy="1310.76" r="2.3"/><circle cx="363.85" cy="1311.91" r="2.3"/><circle cx="356.15" cy="1321.18" r="2.3"/><circle cx="363.85" cy="1321.33" r="2.3"/><circle cx="348.45" cy="1321.63" r="2.3"/><circle cx="371.55" cy="1323.04" r="2.3"/><circle cx="340.75" cy="1323.59" r="2.3"/><circle cx="379.25" cy="1323.66" r="2.3"/><circle cx="333.05" cy="1324.16" r="2.3"/><circle cx="386.95" cy="1324.63" r="2.3"/><circle cx="360" cy="1392.67" r="2.3"/><circle cx="356.15" cy="1326.01" r="2.3"/><circle cx="363.85" cy="1326.56" r="2.3"/><circle cx="348.45" cy="1328.85" r="2.3"/><circle cx="371.55" cy="1329.31" r="2.3"/><circle cx="340.75" cy="1329.71" r="2.3"/><circle cx="379.25" cy="1330" r="2.3"/><circle cx="360" cy="1330.56" r="2.3"/><circle cx="352.3" cy="1331.67" r="2.3"/><circle cx="367.7" cy="1332.16" r="2.3"/><circle cx="344.6" cy="1334.39" r="2.3"/><circle cx="375.4" cy="1334.96" r="2.3"/><circle cx="336.9" cy="1335.02" r="2.3"/><circle cx="383.1" cy="1335.21" r="2.3"/><circle cx="360" cy="1379.94" r="2.3"/><circle cx="360" cy="1316.37" r="2.3"/><circle cx="352.3" cy="1317.05" r="2.3"/><circle cx="367.7" cy="1317.36" r="2.3"/><circle cx="344.6" cy="1317.46" r="2.3"/><circle cx="375.4" cy="1319.69" r="2.3"/><circle cx="360" cy="1355.56" r="2.3"/><circle cx="352.3" cy="1357.73" r="2.3"/><circle cx="367.7" cy="1359.77" r="2.3"/><circle cx="356.15" cy="1289.53" r="2.3"/><circle cx="363.85" cy="1289.75" r="2.3"/><circle cx="356.15" cy="1362.94" r="2.3"/><circle cx="363.85" cy="1363.76" r="2.3"/><circle cx="360" cy="1263.12" r="2.3"/><circle cx="356.15" cy="1342.22" r="2.3"/><circle cx="363.85" cy="1343.62" r="2.3"/><circle cx="360" cy="1270.99" r="2.3"/><circle cx="352.3" cy="1272.3" r="2.3"/><circle cx="367.7" cy="1273.26" r="2.3"/><circle cx="360" cy="1306.04" r="2.3"/><circle cx="352.3" cy="1306.56" r="2.3"/><circle cx="367.7" cy="1307.4" r="2.3"/><circle cx="344.6" cy="1307.5" r="2.3"/><circle cx="375.4" cy="1309.19" r="2.3"/><circle cx="336.9" cy="1309.64" r="2.3"/><circle cx="383.1" cy="1309.96" r="2.3"/><circle cx="360" cy="1346.94" r="2.3"/><circle cx="352.3" cy="1347.03" r="2.3"/><circle cx="367.7" cy="1347.08" r="2.3"/><circle cx="344.6" cy="1347.59" r="2.3"/><circle cx="375.4" cy="1347.99" r="2.3"/><circle cx="336.9" cy="1348.61" r="2.3"/><circle cx="383.1" cy="1349.94" r="2.3"/><circle cx="356.15" cy="1350.66" r="2.3"/><circle cx="363.85" cy="1350.93" r="2.3"/><circle cx="348.45" cy="1354.66" r="2.3"/><circle cx="371.55" cy="1355.1" r="2.3"/><circle cx="360" cy="1302.09" r="2.3"/><circle cx="352.3" cy="1302.89" r="2.3"/><circle cx="367.7" cy="1303.6" r="2.3"/><circle cx="344.6" cy="1304.12" r="2.3"/><circle cx="375.4" cy="1304.14" r="2.3"/><circle cx="356.15" cy="1298.95" r="2.3"/><circle cx="363.85" cy="1299.12" r="2.3"/><circle cx="360" cy="1250.18" r="2.3"/><circle cx="360" cy="1336.49" r="2.3"/><circle cx="352.3" cy="1336.91" r="2.3"/><circle cx="367.7" cy="1339.95" r="2.3"/><circle cx="360" cy="1280.81" r="2.3"/><circle cx="352.3" cy="1280.88" r="2.3"/><circle cx="367.7" cy="1282.29" r="2.3"/><circle cx="360" cy="1235.53" r="2.3"/><circle cx="356.15" cy="1256.12" r="2.3"/><circle cx="363.85" cy="1259.05" r="2.3"/><circle cx="360" cy="1291.47" r="2.3"/><circle cx="360" cy="1370.41" r="2.3"/><circle cx="360" cy="1397.73" r="2.3"/><circle cx="360" cy="1269.32" r="2.3"/></g>
<g fill="#000"><circle cx="455" cy="1176.77" r="2.3"/><circle cx="451.15" cy="1205.66" r="2.3"/><circle cx="458.85" cy="1205.66" r="2.3"/><circle cx="455" cy="1237.76" r="2.3"/><circle cx="455" cy="1244.18" r="2.3"/><circle cx="455" cy="1263.44" r="2.3"/><circle cx="451.15" cy="1276.28" r="2.3"/><circle cx="458.85" cy="1278.49" r="2.3"/><circle cx="455" cy="1335.52" r="2.3"/><circle cx="447.3" cy="1336.52" r="2.3"/><circle cx="462.7" cy="1338.82" r="2.3"/><circle cx="439.6" cy="1338.9" r="2.3"/><circle cx="470.4" cy="1340" r="2.3"/><circle cx="451.15" cy="1305.6" r="2.3"/><circle cx="458.85" cy="1305.87" r="2.3"/><circle cx="443.45" cy="1306.27" r="2.3"/><circle cx="466.55" cy="1306.42" r="2.3"/><circle cx="435.75" cy="1308.75" r="2.3"/><circle cx="474.25" cy="1309.32" r="2.3"/><circle cx="428.05" cy="1309.92" r="2.3"/><circle cx="481.95" cy="1309.95" r="2.3"/><circle cx="451.15" cy="1365.41" r="2.3"/><circle cx="458.85" cy="1366.33" r="2.3"/><circle cx="443.45" cy="1366.37" r="2.3"/><circle cx="466.55" cy="1367.64" r="2.3"/><circle cx="451.15" cy="1374.73" r="2.3"/><circle cx="458.85" cy="1374.89" r="2.3"/><circle cx="451.15" cy="1360.85" r="2.3"/><circle cx="458.85" cy="1362.83" r="2.3"/><circle cx="443.45" cy="1363.46" r="2.3"/><circle cx="466.55" cy="1365.05" r="2.3"/><circle cx="455" cy="1340.87" r="2.3"/><circle cx="447.3" cy="1341.1" r="2.3"/><circle cx="462.7" cy="1341.7" r="2.3"/><circle cx="439.6" cy="1344.51" r="2.3"/><circle cx="470.4" cy="1345.11" r="2.3"/><circle cx="455" cy="1323.15" r="2.3"/><circle cx="447.3" cy="1323.97" r="2.3"/><circle cx="462.7" cy="1324.93" r="2.3"/><circle cx="439.6" cy="1325.18" r="2.3"/><circle cx="470.4" cy="1325.27" r="2.3"/><circle cx="451.15" cy="1311.54" r="2.3"/><circle cx="458.85" cy="1312.24" r="2.3"/><circle cx="443.45" cy="1314.12" r="2.3"/><circle cx="466.55" cy="1314.38" r="2.3"/><circle cx="451.89" cy="1345.67" r="2.3"/><circle cx="458.11" cy="1345.71" r="2.3"/><circle cx="445.67" cy="1345.97" r="2.3"/><circle cx="464.33" cy="1346.85" r="2.3"/><circle cx="439.44" cy="1346.9" r="2.3"/><circle cx="470.56" cy="1348.46" r="2.3"/><circle cx="433.22" cy="1348.75" r="2.3"/><circle cx="476.78" cy="1349.02" r="2.3"/><circle cx="427" cy="1349.24" r="2.3"/><circle cx="483" cy="1350.29" r="2.3"/><circle cx="451.15" cy="1355.54" r="2.3"/><circle cx="458.85" cy="1359.19" r="2.3"/><circle cx="451.15" cy="1351.31" r="2.3"/><circle cx="458.85" cy="1352.76" r="2.3"/><circle cx="443.45" cy="1352.78" r="2.3"/><circle cx="466.55" cy="1352.9" r="2.3"/><circle cx="435.75" cy="1354.77" r="2.3"/><circle cx="474.25" cy="1355.09" r="2.3"/><circle cx="451.15" cy="1325.62" r="2.3"/><circle cx="458.85" cy="1327.97" r="2.3"/><circle cx="451.15" cy="1315.37" r="2.3"/><circle cx="458.85" cy="1317.52" r="2.3"/><circle cx="443.45" cy="1318.13" r="2.3"/><circle cx="466.55" cy="1318.29" r="2.3"/><circle cx="435.75" cy="1318.38" r="2.3"/><circle cx="474.25" cy="1320.07" r="2.3"/><circle cx="451.15" cy="1293.67" r="2.3"/><circle cx="458.85" cy="1293.85" r="2.3"/><circle cx="443.45" cy="1294.09" r="2.3"/><circle cx="466.55" cy="1295.16" r="2.3"/><circle cx="451.15" cy="1295.66" r="2.3"/><circle cx="458.85" cy="1296.08" r="2.3"/><circle cx="443.45" cy="1297.4" r="2.3"/><circle cx="466.55" cy="1298.92" r="2.3"/><circle cx="435.75" cy="1299.46" r="2.3"/><circle cx="474.25" cy="1299.91" r="2.3"/><circle cx="455" cy="1330.35" r="2.3"/><circle cx="447.3" cy="1330.46" r="2.3"/><circle cx="462.7" cy="1332.24" r="2.3"/><circle cx="439.6" cy="1334.1" r="2.3"/><circle cx="470.4" cy="1335.19" r="2.3"/><circle cx="451.15" cy="1288.37" r="2.3"/><circle cx="458.85" cy="1290.11" r="2.3"/><circle cx="455" cy="1300.87" r="2.3"/><circle cx="447.3" cy="1303.87" r="2.3"/><circle cx="462.7" cy="1305.22" r="2.3"/><circle cx="455" cy="1377.92" r="2.3"/><circle cx="451.15" cy="1265.44" r="2.3"/><circle cx="458.85" cy="1266.45" r="2.3"/><circle cx="455" cy="1280.57" r="2.3"/></g>
<line x1="106" y1="1088" x2="106" y2="1477.1" stroke="#000" stroke-width="3.6"/>
<line x1="99.3" y1="1475.3" x2="519" y2="1475.3" stroke="#000" stroke-width="3.6"/>
<line x1="99" y1="1090" x2="106" y2="1090" stroke="#000" stroke-width="3.6"/>
<line x1="99" y1="1218.4" x2="106" y2="1218.4" stroke="#000" stroke-width="3.6"/>
<line x1="99" y1="1346.9" x2="106" y2="1346.9" stroke="#000" stroke-width="3.6"/>
<line x1="169.3" y1="1475.3" x2="169.3" y2="1483.3" stroke="#000" stroke-width="3.6"/>
<line x1="264.4" y1="1475.3" x2="264.4" y2="1483.3" stroke="#000" stroke-width="3.6"/>
<line x1="360" y1="1475.3" x2="360" y2="1483.3" stroke="#000" stroke-width="3.6"/>
<line x1="455" y1="1475.3" x2="455" y2="1483.3" stroke="#000" stroke-width="3.6"/>
<polyline points="169.9,1086.5 169.9,1076 262.8,1076 262.8,1086.5" fill="none" stroke="#000" stroke-width="3.6" stroke-linejoin="miter"/>
<polyline points="361,1122.4 361,1112 454.4,1112 454.4,1122.4" fill="none" stroke="#000" stroke-width="3.6" stroke-linejoin="miter"/>
<rect x="656.4" y="1298" width="57.8" height="175.1" fill="#bababa" stroke="#5a5a5a" stroke-width="3.6"/>
<rect x="751.6" y="1310.9" width="57.6" height="162.2" fill="#bababa" stroke="#5a5a5a" stroke-width="3.6"/>
<rect x="847.1" y="1295.5" width="57.3" height="177.6" fill="#bababa" stroke="#5a5a5a" stroke-width="3.6"/>
<rect x="942.3" y="1304.4" width="57.2" height="168.7" fill="#bababa" stroke="#5a5a5a" stroke-width="3.6"/>
<line x1="685.4" y1="1264.4" x2="685.4" y2="1330" stroke="#696969" stroke-width="3.6"/>
<line x1="669" y1="1264.4" x2="702" y2="1264.4" stroke="#696969" stroke-width="3.6"/>
<line x1="669" y1="1330" x2="702" y2="1330" stroke="#696969" stroke-width="3.6"/>
<line x1="780.2" y1="1288.4" x2="780.2" y2="1331.7" stroke="#696969" stroke-width="3.6"/>
<line x1="763.6" y1="1288.4" x2="797" y2="1288.4" stroke="#696969" stroke-width="3.6"/>
<line x1="763.6" y1="1331.7" x2="797" y2="1331.7" stroke="#696969" stroke-width="3.6"/>
<line x1="875.7" y1="1262.8" x2="875.7" y2="1327" stroke="#696969" stroke-width="3.6"/>
<line x1="859" y1="1262.8" x2="892.4" y2="1262.8" stroke="#696969" stroke-width="3.6"/>
<line x1="859" y1="1327" x2="892.4" y2="1327" stroke="#696969" stroke-width="3.6"/>
<line x1="971.2" y1="1279.8" x2="971.2" y2="1327" stroke="#696969" stroke-width="3.6"/>
<line x1="954" y1="1279.8" x2="988" y2="1279.8" stroke="#696969" stroke-width="3.6"/>
<line x1="954" y1="1327" x2="988" y2="1327" stroke="#696969" stroke-width="3.6"/>
<g fill="#000"><circle cx="685.4" cy="1191.19" r="2.3"/><circle cx="685.4" cy="1204.01" r="2.3"/><circle cx="685.4" cy="1210.41" r="2.3"/><circle cx="685.4" cy="1216.82" r="2.3"/><circle cx="685.4" cy="1220.02" r="2.3"/><circle cx="685.4" cy="1223.23" r="2.3"/><circle cx="685.4" cy="1363.42" r="2.3"/><circle cx="677.7" cy="1364.18" r="2.3"/><circle cx="693.1" cy="1364.18" r="2.3"/><circle cx="681.55" cy="1359.61" r="2.3"/><circle cx="689.25" cy="1360.98" r="2.3"/><circle cx="682.29" cy="1293.3" r="2.3"/><circle cx="688.51" cy="1293.69" r="2.3"/><circle cx="676.07" cy="1293.89" r="2.3"/><circle cx="694.73" cy="1294.41" r="2.3"/><circle cx="669.84" cy="1294.6" r="2.3"/><circle cx="700.96" cy="1295.25" r="2.3"/><circle cx="663.62" cy="1296.25" r="2.3"/><circle cx="707.18" cy="1296.7" r="2.3"/><circle cx="657.4" cy="1297.09" r="2.3"/><circle cx="713.4" cy="1297.09" r="2.3"/><circle cx="685.4" cy="1328.26" r="2.3"/><circle cx="678.4" cy="1329.46" r="2.3"/><circle cx="692.4" cy="1329.49" r="2.3"/><circle cx="671.4" cy="1330.01" r="2.3"/><circle cx="699.4" cy="1330.49" r="2.3"/><circle cx="664.4" cy="1331.98" r="2.3"/><circle cx="706.4" cy="1332.67" r="2.3"/><circle cx="657.4" cy="1332.68" r="2.3"/><circle cx="713.4" cy="1332.71" r="2.3"/><circle cx="685.4" cy="1308.27" r="2.3"/><circle cx="679.8" cy="1308.54" r="2.3"/><circle cx="691" cy="1308.63" r="2.3"/><circle cx="674.2" cy="1308.85" r="2.3"/><circle cx="696.6" cy="1310.05" r="2.3"/><circle cx="668.6" cy="1310.09" r="2.3"/><circle cx="702.2" cy="1310.57" r="2.3"/><circle cx="663" cy="1311.24" r="2.3"/><circle cx="707.8" cy="1312.04" r="2.3"/><circle cx="657.4" cy="1312.2" r="2.3"/><circle cx="713.4" cy="1312.66" r="2.3"/><circle cx="685.4" cy="1319.29" r="2.3"/><circle cx="677.7" cy="1319.78" r="2.3"/><circle cx="693.1" cy="1320.06" r="2.3"/><circle cx="670" cy="1320.55" r="2.3"/><circle cx="700.8" cy="1320.93" r="2.3"/><circle cx="662.3" cy="1321.13" r="2.3"/><circle cx="708.5" cy="1322.6" r="2.3"/><circle cx="685.4" cy="1288.9" r="2.3"/><circle cx="680.73" cy="1289.15" r="2.3"/><circle cx="690.07" cy="1289.92" r="2.3"/><circle cx="676.07" cy="1290.16" r="2.3"/><circle cx="694.73" cy="1290.18" r="2.3"/><circle cx="671.4" cy="1290.4" r="2.3"/><circle cx="699.4" cy="1290.71" r="2.3"/><circle cx="666.73" cy="1291.38" r="2.3"/><circle cx="704.07" cy="1291.58" r="2.3"/><circle cx="662.07" cy="1291.65" r="2.3"/><circle cx="708.73" cy="1291.77" r="2.3"/><circle cx="657.4" cy="1291.95" r="2.3"/><circle cx="713.4" cy="1292.78" r="2.3"/><circle cx="683.25" cy="1268.42" r="2.3"/><circle cx="687.55" cy="1269.03" r="2.3"/><circle cx="678.94" cy="1269.15" r="2.3"/><circle cx="691.86" cy="1269.2" r="2.3"/><circle cx="674.63" cy="1269.42" r="2.3"/><circle cx="696.17" cy="1270.85" r="2.3"/><circle cx="670.32" cy="1271.66" r="2.3"/><circle cx="700.48" cy="1271.73" r="2.3"/><circle cx="666.02" cy="1271.86" r="2.3"/><circle cx="704.78" cy="1272" r="2.3"/><circle cx="661.71" cy="1272.1" r="2.3"/><circle cx="709.09" cy="1272.34" r="2.3"/><circle cx="657.4" cy="1272.83" r="2.3"/><circle cx="713.4" cy="1272.96" r="2.3"/><circle cx="681.55" cy="1279.39" r="2.3"/><circle cx="689.25" cy="1279.87" r="2.3"/><circle cx="673.85" cy="1280.37" r="2.3"/><circle cx="696.95" cy="1280.56" r="2.3"/><circle cx="666.15" cy="1281.44" r="2.3"/><circle cx="704.65" cy="1281.61" r="2.3"/><circle cx="685.4" cy="1343.19" r="2.3"/><circle cx="685.4" cy="1274.36" r="2.3"/><circle cx="677.7" cy="1274.49" r="2.3"/><circle cx="693.1" cy="1275.4" r="2.3"/><circle cx="670" cy="1276.79" r="2.3"/><circle cx="700.8" cy="1277.74" r="2.3"/><circle cx="685.4" cy="1283.48" r="2.3"/><circle cx="677.7" cy="1283.62" r="2.3"/><circle cx="693.1" cy="1283.9" r="2.3"/><circle cx="670" cy="1284.46" r="2.3"/><circle cx="700.8" cy="1285.23" r="2.3"/><circle cx="662.3" cy="1286.24" r="2.3"/><circle cx="708.5" cy="1287.55" r="2.3"/><circle cx="685.4" cy="1313.96" r="2.3"/><circle cx="677.7" cy="1314.22" r="2.3"/><circle cx="693.1" cy="1314.46" r="2.3"/><circle cx="670" cy="1315.25" r="2.3"/><circle cx="700.8" cy="1315.9" r="2.3"/><circle cx="662.3" cy="1317.41" r="2.3"/><circle cx="708.5" cy="1318.02" r="2.3"/><circle cx="681.55" cy="1323.82" r="2.3"/><circle cx="689.25" cy="1324.76" r="2.3"/><circle cx="673.85" cy="1326.31" r="2.3"/><circle cx="696.95" cy="1326.67" r="2.3"/><circle cx="666.15" cy="1327.05" r="2.3"/><circle cx="704.65" cy="1327.71" r="2.3"/><circle cx="681.55" cy="1338.63" r="2.3"/><circle cx="689.25" cy="1342.44" r="2.3"/><circle cx="685.4" cy="1333.94" r="2.3"/><circle cx="677.7" cy="1335.3" r="2.3"/><circle cx="693.1" cy="1336.63" r="2.3"/><circle cx="670" cy="1336.99" r="2.3"/><circle cx="700.8" cy="1337.77" r="2.3"/><circle cx="682.29" cy="1298.34" r="2.3"/><circle cx="688.51" cy="1299.72" r="2.3"/><circle cx="676.07" cy="1299.81" r="2.3"/><circle cx="694.73" cy="1300.15" r="2.3"/><circle cx="669.84" cy="1300.65" r="2.3"/><circle cx="700.96" cy="1301.83" r="2.3"/><circle cx="663.62" cy="1302.17" r="2.3"/><circle cx="707.18" cy="1302.47" r="2.3"/><circle cx="657.4" cy="1302.6" r="2.3"/><circle cx="713.4" cy="1303.04" r="2.3"/><circle cx="685.4" cy="1249.29" r="2.3"/><circle cx="677.7" cy="1250.48" r="2.3"/><circle cx="693.1" cy="1252.29" r="2.3"/><circle cx="685.4" cy="1259.34" r="2.3"/><circle cx="677.7" cy="1261.23" r="2.3"/><circle cx="693.1" cy="1261.26" r="2.3"/><circle cx="681.55" cy="1244.12" r="2.3"/><circle cx="689.25" cy="1247.88" r="2.3"/><circle cx="681.55" cy="1238.34" r="2.3"/><circle cx="689.25" cy="1240.74" r="2.3"/><circle cx="681.55" cy="1266.89" r="2.3"/><circle cx="689.25" cy="1267.17" r="2.3"/><circle cx="685.4" cy="1356.36" r="2.3"/><circle cx="685.4" cy="1304.35" r="2.3"/><circle cx="677.7" cy="1305.07" r="2.3"/><circle cx="693.1" cy="1306.75" r="2.3"/><circle cx="670" cy="1306.91" r="2.3"/><circle cx="700.8" cy="1307.37" r="2.3"/><circle cx="662.3" cy="1307.64" r="2.3"/><circle cx="708.5" cy="1307.73" r="2.3"/><circle cx="685.4" cy="1257.12" r="2.3"/></g>
<g fill="#000"><circle cx="780.2" cy="1236.04" r="2.3"/><circle cx="776.35" cy="1261.67" r="2.3"/><circle cx="784.05" cy="1262.69" r="2.3"/><circle cx="780.2" cy="1264.87" r="2.3"/><circle cx="780.2" cy="1360.98" r="2.3"/><circle cx="780.2" cy="1313.28" r="2.3"/><circle cx="776.2" cy="1313.9" r="2.3"/><circle cx="784.2" cy="1313.92" r="2.3"/><circle cx="772.2" cy="1314.01" r="2.3"/><circle cx="788.2" cy="1314.25" r="2.3"/><circle cx="768.2" cy="1314.54" r="2.3"/><circle cx="792.2" cy="1314.58" r="2.3"/><circle cx="764.2" cy="1314.81" r="2.3"/><circle cx="796.2" cy="1315.08" r="2.3"/><circle cx="760.2" cy="1315.13" r="2.3"/><circle cx="800.2" cy="1315.65" r="2.3"/><circle cx="756.2" cy="1315.79" r="2.3"/><circle cx="804.2" cy="1315.93" r="2.3"/><circle cx="752.2" cy="1316" r="2.3"/><circle cx="808.2" cy="1317.5" r="2.3"/><circle cx="780.2" cy="1323.44" r="2.3"/><circle cx="773.2" cy="1324.27" r="2.3"/><circle cx="787.2" cy="1324.77" r="2.3"/><circle cx="766.2" cy="1325.41" r="2.3"/><circle cx="794.2" cy="1325.62" r="2.3"/><circle cx="759.2" cy="1325.64" r="2.3"/><circle cx="801.2" cy="1326.64" r="2.3"/><circle cx="752.2" cy="1326.79" r="2.3"/><circle cx="808.2" cy="1327.44" r="2.3"/><circle cx="776.35" cy="1273.92" r="2.3"/><circle cx="784.05" cy="1275.69" r="2.3"/><circle cx="780.2" cy="1288.23" r="2.3"/><circle cx="772.5" cy="1289.6" r="2.3"/><circle cx="787.9" cy="1290.28" r="2.3"/><circle cx="780.2" cy="1303.78" r="2.3"/><circle cx="773.2" cy="1304.02" r="2.3"/><circle cx="787.2" cy="1304.56" r="2.3"/><circle cx="766.2" cy="1306.05" r="2.3"/><circle cx="794.2" cy="1306.57" r="2.3"/><circle cx="759.2" cy="1306.92" r="2.3"/><circle cx="801.2" cy="1307.24" r="2.3"/><circle cx="752.2" cy="1307.29" r="2.3"/><circle cx="808.2" cy="1307.57" r="2.3"/><circle cx="780.2" cy="1272.22" r="2.3"/><circle cx="780.2" cy="1284.18" r="2.3"/><circle cx="772.5" cy="1284.76" r="2.3"/><circle cx="787.9" cy="1286.56" r="2.3"/><circle cx="764.8" cy="1286.72" r="2.3"/><circle cx="795.6" cy="1287.43" r="2.3"/><circle cx="780.2" cy="1328.26" r="2.3"/><circle cx="772.5" cy="1329.04" r="2.3"/><circle cx="787.9" cy="1329.31" r="2.3"/><circle cx="764.8" cy="1329.45" r="2.3"/><circle cx="795.6" cy="1330.61" r="2.3"/><circle cx="757.1" cy="1331.54" r="2.3"/><circle cx="803.3" cy="1332.24" r="2.3"/><circle cx="776.35" cy="1298.29" r="2.3"/><circle cx="784.05" cy="1299.67" r="2.3"/><circle cx="768.65" cy="1299.98" r="2.3"/><circle cx="791.75" cy="1300.03" r="2.3"/><circle cx="760.95" cy="1300.85" r="2.3"/><circle cx="799.45" cy="1301.24" r="2.3"/><circle cx="753.25" cy="1301.86" r="2.3"/><circle cx="807.15" cy="1303.1" r="2.3"/><circle cx="780.2" cy="1278.94" r="2.3"/><circle cx="772.5" cy="1279.16" r="2.3"/><circle cx="787.9" cy="1280.46" r="2.3"/><circle cx="780.2" cy="1319.07" r="2.3"/><circle cx="774.6" cy="1319.19" r="2.3"/><circle cx="785.8" cy="1319.36" r="2.3"/><circle cx="769" cy="1319.41" r="2.3"/><circle cx="791.4" cy="1319.72" r="2.3"/><circle cx="763.4" cy="1320.1" r="2.3"/><circle cx="797" cy="1320.69" r="2.3"/><circle cx="757.8" cy="1322.18" r="2.3"/><circle cx="802.6" cy="1322.2" r="2.3"/><circle cx="752.2" cy="1322.95" r="2.3"/><circle cx="808.2" cy="1322.95" r="2.3"/><circle cx="776.35" cy="1294.62" r="2.3"/><circle cx="784.05" cy="1295.75" r="2.3"/><circle cx="768.65" cy="1295.9" r="2.3"/><circle cx="791.75" cy="1297.82" r="2.3"/><circle cx="776.35" cy="1333.22" r="2.3"/><circle cx="784.05" cy="1333.42" r="2.3"/><circle cx="768.65" cy="1333.58" r="2.3"/><circle cx="791.75" cy="1334.86" r="2.3"/><circle cx="760.95" cy="1335.41" r="2.3"/><circle cx="799.45" cy="1336.26" r="2.3"/><circle cx="753.25" cy="1336.71" r="2.3"/><circle cx="807.15" cy="1336.74" r="2.3"/><circle cx="776.35" cy="1338.56" r="2.3"/><circle cx="784.05" cy="1338.84" r="2.3"/><circle cx="768.65" cy="1341.8" r="2.3"/><circle cx="791.75" cy="1342.36" r="2.3"/><circle cx="780.2" cy="1308.29" r="2.3"/><circle cx="773.2" cy="1310.12" r="2.3"/><circle cx="787.2" cy="1310.37" r="2.3"/><circle cx="766.2" cy="1310.84" r="2.3"/><circle cx="794.2" cy="1311.08" r="2.3"/><circle cx="759.2" cy="1311.11" r="2.3"/><circle cx="801.2" cy="1312.11" r="2.3"/><circle cx="752.2" cy="1312.35" r="2.3"/><circle cx="808.2" cy="1312.85" r="2.3"/><circle cx="776.35" cy="1348.8" r="2.3"/><circle cx="784.05" cy="1351.82" r="2.3"/></g>
<g fill="#000"><circle cx="875.7" cy="1139.94" r="2.3"/><circle cx="871.85" cy="1213.62" r="2.3"/><circle cx="879.55" cy="1216.82" r="2.3"/><circle cx="875.7" cy="1236.04" r="2.3"/><circle cx="875.7" cy="1239.24" r="2.3"/><circle cx="875.7" cy="1344.96" r="2.3"/><circle cx="875.7" cy="1314.69" r="2.3"/><circle cx="868" cy="1314.89" r="2.3"/><circle cx="883.4" cy="1315.25" r="2.3"/><circle cx="860.3" cy="1315.45" r="2.3"/><circle cx="891.1" cy="1316.04" r="2.3"/><circle cx="875.7" cy="1279.43" r="2.3"/><circle cx="868" cy="1281.04" r="2.3"/><circle cx="883.4" cy="1282.3" r="2.3"/><circle cx="871.85" cy="1334.13" r="2.3"/><circle cx="879.55" cy="1336.29" r="2.3"/><circle cx="871.85" cy="1298.64" r="2.3"/><circle cx="879.55" cy="1301.52" r="2.3"/><circle cx="875.7" cy="1303.12" r="2.3"/><circle cx="868" cy="1304.18" r="2.3"/><circle cx="883.4" cy="1305.28" r="2.3"/><circle cx="860.3" cy="1305.65" r="2.3"/><circle cx="891.1" cy="1305.77" r="2.3"/><circle cx="852.6" cy="1306.09" r="2.3"/><circle cx="898.8" cy="1307.89" r="2.3"/><circle cx="875.7" cy="1288.37" r="2.3"/><circle cx="868" cy="1288.73" r="2.3"/><circle cx="883.4" cy="1289.69" r="2.3"/><circle cx="860.3" cy="1291.07" r="2.3"/><circle cx="891.1" cy="1291.17" r="2.3"/><circle cx="875.7" cy="1324.1" r="2.3"/><circle cx="868" cy="1324.88" r="2.3"/><circle cx="883.4" cy="1325.08" r="2.3"/><circle cx="860.3" cy="1325.86" r="2.3"/><circle cx="891.1" cy="1327.36" r="2.3"/><circle cx="875.7" cy="1264.71" r="2.3"/><circle cx="868" cy="1265.01" r="2.3"/><circle cx="883.4" cy="1266.54" r="2.3"/><circle cx="875.7" cy="1270.1" r="2.3"/><circle cx="868" cy="1271.3" r="2.3"/><circle cx="883.4" cy="1271.53" r="2.3"/><circle cx="871.85" cy="1339.08" r="2.3"/><circle cx="879.55" cy="1339.64" r="2.3"/><circle cx="875.7" cy="1319.65" r="2.3"/><circle cx="868" cy="1320.07" r="2.3"/><circle cx="883.4" cy="1321.52" r="2.3"/><circle cx="860.3" cy="1322.23" r="2.3"/><circle cx="891.1" cy="1322.37" r="2.3"/><circle cx="875.7" cy="1273.13" r="2.3"/><circle cx="868" cy="1274.01" r="2.3"/><circle cx="883.4" cy="1275.98" r="2.3"/><circle cx="860.3" cy="1277.22" r="2.3"/><circle cx="891.1" cy="1277.36" r="2.3"/><circle cx="875.7" cy="1254.8" r="2.3"/><circle cx="868" cy="1255.2" r="2.3"/><circle cx="883.4" cy="1256.27" r="2.3"/><circle cx="875.7" cy="1308.51" r="2.3"/><circle cx="868" cy="1310.4" r="2.3"/><circle cx="883.4" cy="1310.79" r="2.3"/><circle cx="860.3" cy="1311.7" r="2.3"/><circle cx="891.1" cy="1312.84" r="2.3"/><circle cx="852.6" cy="1312.92" r="2.3"/><circle cx="898.8" cy="1313.06" r="2.3"/><circle cx="875.7" cy="1293.12" r="2.3"/><circle cx="868.7" cy="1293.53" r="2.3"/><circle cx="882.7" cy="1294.22" r="2.3"/><circle cx="861.7" cy="1294.44" r="2.3"/><circle cx="889.7" cy="1295.43" r="2.3"/><circle cx="854.7" cy="1296.4" r="2.3"/><circle cx="896.7" cy="1296.78" r="2.3"/><circle cx="847.7" cy="1296.88" r="2.3"/><circle cx="903.7" cy="1297.38" r="2.3"/><circle cx="871.85" cy="1283.7" r="2.3"/><circle cx="879.55" cy="1284.03" r="2.3"/><circle cx="864.15" cy="1284.29" r="2.3"/><circle cx="887.25" cy="1285.12" r="2.3"/><circle cx="856.45" cy="1286.61" r="2.3"/><circle cx="894.95" cy="1287.5" r="2.3"/><circle cx="871.85" cy="1329.58" r="2.3"/><circle cx="879.55" cy="1329.91" r="2.3"/><circle cx="864.15" cy="1330.47" r="2.3"/><circle cx="887.25" cy="1330.61" r="2.3"/><circle cx="871.85" cy="1245.45" r="2.3"/><circle cx="879.55" cy="1245.88" r="2.3"/><circle cx="875.7" cy="1258.98" r="2.3"/><circle cx="868" cy="1261.44" r="2.3"/><circle cx="883.4" cy="1261.57" r="2.3"/><circle cx="875.7" cy="1248.22" r="2.3"/><circle cx="868" cy="1251.35" r="2.3"/><circle cx="883.4" cy="1251.73" r="2.3"/></g>
<g fill="#000"><circle cx="971.2" cy="1210.41" r="2.3"/><circle cx="971.2" cy="1216.82" r="2.3"/><circle cx="971.2" cy="1229.63" r="2.3"/><circle cx="971.2" cy="1242.45" r="2.3"/><circle cx="971.2" cy="1248.86" r="2.3"/><circle cx="971.2" cy="1338.55" r="2.3"/><circle cx="971.2" cy="1308.19" r="2.3"/><circle cx="966.53" cy="1308.77" r="2.3"/><circle cx="975.87" cy="1309.02" r="2.3"/><circle cx="961.87" cy="1309.7" r="2.3"/><circle cx="980.53" cy="1310.58" r="2.3"/><circle cx="957.2" cy="1310.97" r="2.3"/><circle cx="985.2" cy="1311.02" r="2.3"/><circle cx="952.53" cy="1311.2" r="2.3"/><circle cx="989.87" cy="1311.29" r="2.3"/><circle cx="947.87" cy="1311.55" r="2.3"/><circle cx="994.53" cy="1311.83" r="2.3"/><circle cx="943.2" cy="1312.14" r="2.3"/><circle cx="999.2" cy="1312.6" r="2.3"/><circle cx="967.35" cy="1272.15" r="2.3"/><circle cx="975.05" cy="1273.07" r="2.3"/><circle cx="968.09" cy="1303.65" r="2.3"/><circle cx="974.31" cy="1303.77" r="2.3"/><circle cx="961.87" cy="1305.13" r="2.3"/><circle cx="980.53" cy="1305.18" r="2.3"/><circle cx="955.64" cy="1305.8" r="2.3"/><circle cx="986.76" cy="1306" r="2.3"/><circle cx="949.42" cy="1306.41" r="2.3"/><circle cx="992.98" cy="1306.74" r="2.3"/><circle cx="943.2" cy="1307.44" r="2.3"/><circle cx="999.2" cy="1307.65" r="2.3"/><circle cx="971.2" cy="1293.19" r="2.3"/><circle cx="966.53" cy="1293.72" r="2.3"/><circle cx="975.87" cy="1294.11" r="2.3"/><circle cx="961.87" cy="1294.96" r="2.3"/><circle cx="980.53" cy="1295.31" r="2.3"/><circle cx="957.2" cy="1295.58" r="2.3"/><circle cx="985.2" cy="1295.87" r="2.3"/><circle cx="952.53" cy="1296.41" r="2.3"/><circle cx="989.87" cy="1296.5" r="2.3"/><circle cx="947.87" cy="1297.22" r="2.3"/><circle cx="994.53" cy="1297.65" r="2.3"/><circle cx="943.2" cy="1297.77" r="2.3"/><circle cx="999.2" cy="1298.04" r="2.3"/><circle cx="967.35" cy="1274.35" r="2.3"/><circle cx="975.05" cy="1278.06" r="2.3"/><circle cx="971.2" cy="1283.43" r="2.3"/><circle cx="964.2" cy="1283.52" r="2.3"/><circle cx="978.2" cy="1284.75" r="2.3"/><circle cx="957.2" cy="1285.51" r="2.3"/><circle cx="985.2" cy="1285.68" r="2.3"/><circle cx="950.2" cy="1285.73" r="2.3"/><circle cx="992.2" cy="1285.94" r="2.3"/><circle cx="943.2" cy="1287.38" r="2.3"/><circle cx="999.2" cy="1287.87" r="2.3"/><circle cx="971.2" cy="1318.85" r="2.3"/><circle cx="963.5" cy="1319.11" r="2.3"/><circle cx="978.9" cy="1319.24" r="2.3"/><circle cx="955.8" cy="1320.25" r="2.3"/><circle cx="986.6" cy="1320.64" r="2.3"/><circle cx="948.1" cy="1322.54" r="2.3"/><circle cx="994.3" cy="1322.95" r="2.3"/><circle cx="971.2" cy="1329.69" r="2.3"/><circle cx="963.5" cy="1331.38" r="2.3"/><circle cx="978.9" cy="1331.89" r="2.3"/><circle cx="955.8" cy="1332.62" r="2.3"/><circle cx="986.6" cy="1332.93" r="2.3"/><circle cx="967.35" cy="1288.72" r="2.3"/><circle cx="975.05" cy="1289.4" r="2.3"/><circle cx="959.65" cy="1291.14" r="2.3"/><circle cx="982.75" cy="1292.82" r="2.3"/><circle cx="971.2" cy="1298.15" r="2.3"/><circle cx="963.5" cy="1298.15" r="2.3"/><circle cx="978.9" cy="1300.22" r="2.3"/><circle cx="955.8" cy="1301.37" r="2.3"/><circle cx="986.6" cy="1301.55" r="2.3"/><circle cx="948.1" cy="1301.64" r="2.3"/><circle cx="994.3" cy="1302.31" r="2.3"/><circle cx="967.35" cy="1313.37" r="2.3"/><circle cx="975.05" cy="1313.97" r="2.3"/><circle cx="959.65" cy="1314.81" r="2.3"/><circle cx="982.75" cy="1315.82" r="2.3"/><circle cx="951.95" cy="1316.28" r="2.3"/><circle cx="990.45" cy="1316.52" r="2.3"/><circle cx="967.35" cy="1334.65" r="2.3"/><circle cx="975.05" cy="1335.67" r="2.3"/><circle cx="971.2" cy="1261.86" r="2.3"/><circle cx="971.2" cy="1323.23" r="2.3"/><circle cx="963.5" cy="1323.36" r="2.3"/><circle cx="978.9" cy="1323.91" r="2.3"/><circle cx="955.8" cy="1324.23" r="2.3"/><circle cx="986.6" cy="1326.79" r="2.3"/><circle cx="971.2" cy="1278.32" r="2.3"/><circle cx="963.5" cy="1279.28" r="2.3"/><circle cx="978.9" cy="1280.84" r="2.3"/></g>
<line x1="621.9" y1="1087" x2="621.9" y2="1474.9" stroke="#000" stroke-width="3.6"/>
<line x1="615.4" y1="1473.1" x2="1034.4" y2="1473.1" stroke="#000" stroke-width="3.6"/>
<line x1="614.8" y1="1088.7" x2="621.9" y2="1088.7" stroke="#000" stroke-width="3.6"/>
<line x1="614.8" y1="1216.8" x2="621.9" y2="1216.8" stroke="#000" stroke-width="3.6"/>
<line x1="614.8" y1="1345" x2="621.9" y2="1345" stroke="#000" stroke-width="3.6"/>
<line x1="685.4" y1="1473.1" x2="685.4" y2="1481.1" stroke="#000" stroke-width="3.6"/>
<line x1="780.2" y1="1473.1" x2="780.2" y2="1481.1" stroke="#000" stroke-width="3.6"/>
<line x1="875.7" y1="1473.1" x2="875.7" y2="1481.1" stroke="#000" stroke-width="3.6"/>
<line x1="971.2" y1="1473.1" x2="971.2" y2="1481.1" stroke="#000" stroke-width="3.6"/>
<polyline points="685.7,1180 685.7,1169.8 778,1169.8 778,1180" fill="none" stroke="#000" stroke-width="3.6" stroke-linejoin="miter"/>
<polyline points="877.3,1128.8 877.3,1118 970.3,1118 970.3,1128.8" fill="none" stroke="#000" stroke-width="3.6" stroke-linejoin="miter"/>
<rect x="1188.2" y="1181.7" width="57.3" height="292.5" fill="#bababa" stroke="#5a5a5a" stroke-width="3.6"/>
<rect x="1283.4" y="1221.8" width="57.3" height="252.4" fill="#bababa" stroke="#5a5a5a" stroke-width="3.6"/>
<rect x="1377.8" y="1192.3" width="58" height="281.9" fill="#bababa" stroke="#5a5a5a" stroke-width="3.6"/>
<rect x="1473.4" y="1200.3" width="57.3" height="273.9" fill="#bababa" stroke="#5a5a5a" stroke-width="3.6"/>
<line x1="1216.8" y1="1125" x2="1216.8" y2="1236.2" stroke="#696969" stroke-width="3.6"/>
<line x1="1199.8" y1="1125" x2="1233.5" y2="1125" stroke="#696969" stroke-width="3.6"/>
<line x1="1199.8" y1="1236.2" x2="1233.5" y2="1236.2" stroke="#696969" stroke-width="3.6"/>
<line x1="1311.4" y1="1164.4" x2="1311.4" y2="1277.2" stroke="#696969" stroke-width="3.6"/>
<line x1="1295.3" y1="1164.4" x2="1328.7" y2="1164.4" stroke="#696969" stroke-width="3.6"/>
<line x1="1295.3" y1="1277.2" x2="1328.7" y2="1277.2" stroke="#696969" stroke-width="3.6"/>
<line x1="1406.6" y1="1134.6" x2="1406.6" y2="1247.4" stroke="#696969" stroke-width="3.6"/>
<line x1="1390.5" y1="1134.6" x2="1423.5" y2="1134.6" stroke="#696969" stroke-width="3.6"/>
<line x1="1390.5" y1="1247.4" x2="1423.5" y2="1247.4" stroke="#696969" stroke-width="3.6"/>
<g fill="#000"><circle cx="1212.95" cy="1365.06" r="2.3"/><circle cx="1220.65" cy="1366.62" r="2.3"/><circle cx="1216.8" cy="1328.2" r="2.3"/><circle cx="1216.8" cy="1320.52" r="2.3"/><circle cx="1212.95" cy="1093.84" r="2.3"/><circle cx="1220.65" cy="1093.84" r="2.3"/><circle cx="1212.95" cy="1251.52" r="2.3"/><circle cx="1220.65" cy="1252.54" r="2.3"/><circle cx="1205.25" cy="1252.56" r="2.3"/><circle cx="1228.35" cy="1252.87" r="2.3"/><circle cx="1212.95" cy="1266.45" r="2.3"/><circle cx="1220.65" cy="1266.77" r="2.3"/><circle cx="1212.95" cy="1144.76" r="2.3"/><circle cx="1220.65" cy="1144.78" r="2.3"/><circle cx="1205.25" cy="1145.95" r="2.3"/><circle cx="1228.35" cy="1147.6" r="2.3"/><circle cx="1216.8" cy="1220.42" r="2.3"/><circle cx="1209.8" cy="1220.46" r="2.3"/><circle cx="1223.8" cy="1220.55" r="2.3"/><circle cx="1202.8" cy="1221.16" r="2.3"/><circle cx="1230.8" cy="1222.31" r="2.3"/><circle cx="1195.8" cy="1222.36" r="2.3"/><circle cx="1237.8" cy="1222.48" r="2.3"/><circle cx="1188.8" cy="1222.61" r="2.3"/><circle cx="1244.8" cy="1222.77" r="2.3"/><circle cx="1216.8" cy="1174.58" r="2.3"/><circle cx="1211.2" cy="1174.74" r="2.3"/><circle cx="1222.4" cy="1175.83" r="2.3"/><circle cx="1205.6" cy="1177.08" r="2.3"/><circle cx="1228" cy="1177.35" r="2.3"/><circle cx="1200" cy="1177.57" r="2.3"/><circle cx="1233.6" cy="1177.65" r="2.3"/><circle cx="1194.4" cy="1177.71" r="2.3"/><circle cx="1239.2" cy="1178.6" r="2.3"/><circle cx="1188.8" cy="1178.7" r="2.3"/><circle cx="1244.8" cy="1179.08" r="2.3"/><circle cx="1216.8" cy="1209.64" r="2.3"/><circle cx="1209.1" cy="1210.01" r="2.3"/><circle cx="1224.5" cy="1210.87" r="2.3"/><circle cx="1201.4" cy="1211.16" r="2.3"/><circle cx="1232.2" cy="1211.37" r="2.3"/><circle cx="1193.7" cy="1211.54" r="2.3"/><circle cx="1239.9" cy="1213.28" r="2.3"/><circle cx="1212.95" cy="1109.64" r="2.3"/><circle cx="1220.65" cy="1109.67" r="2.3"/><circle cx="1205.25" cy="1111.46" r="2.3"/><circle cx="1228.35" cy="1112.2" r="2.3"/><circle cx="1212.95" cy="1215.57" r="2.3"/><circle cx="1220.65" cy="1215.86" r="2.3"/><circle cx="1205.25" cy="1216.42" r="2.3"/><circle cx="1228.35" cy="1216.71" r="2.3"/><circle cx="1197.55" cy="1217.41" r="2.3"/><circle cx="1236.05" cy="1218.04" r="2.3"/><circle cx="1189.85" cy="1218.16" r="2.3"/><circle cx="1243.75" cy="1218.93" r="2.3"/><circle cx="1216.8" cy="1199.24" r="2.3"/><circle cx="1209.8" cy="1200.84" r="2.3"/><circle cx="1223.8" cy="1200.95" r="2.3"/><circle cx="1202.8" cy="1201.66" r="2.3"/><circle cx="1230.8" cy="1201.84" r="2.3"/><circle cx="1195.8" cy="1202.16" r="2.3"/><circle cx="1237.8" cy="1202.28" r="2.3"/><circle cx="1188.8" cy="1202.91" r="2.3"/><circle cx="1244.8" cy="1203.57" r="2.3"/><circle cx="1212.95" cy="1134.45" r="2.3"/><circle cx="1220.65" cy="1134.68" r="2.3"/><circle cx="1205.25" cy="1138.38" r="2.3"/><circle cx="1228.35" cy="1138.53" r="2.3"/><circle cx="1216.8" cy="1229.26" r="2.3"/><circle cx="1209.1" cy="1231.53" r="2.3"/><circle cx="1224.5" cy="1231.65" r="2.3"/><circle cx="1201.4" cy="1231.92" r="2.3"/><circle cx="1232.2" cy="1233.44" r="2.3"/><circle cx="1212.95" cy="1234.68" r="2.3"/><circle cx="1220.65" cy="1234.72" r="2.3"/><circle cx="1205.25" cy="1235.33" r="2.3"/><circle cx="1228.35" cy="1236.21" r="2.3"/><circle cx="1197.55" cy="1237.25" r="2.3"/><circle cx="1236.05" cy="1238.8" r="2.3"/><circle cx="1216.8" cy="1155.54" r="2.3"/><circle cx="1209.1" cy="1158.69" r="2.3"/><circle cx="1224.5" cy="1159.09" r="2.3"/><circle cx="1216.8" cy="1169.67" r="2.3"/><circle cx="1209.1" cy="1170.01" r="2.3"/><circle cx="1224.5" cy="1170.24" r="2.3"/><circle cx="1201.4" cy="1172.61" r="2.3"/><circle cx="1232.2" cy="1173.31" r="2.3"/><circle cx="1193.7" cy="1173.46" r="2.3"/><circle cx="1239.9" cy="1173.63" r="2.3"/><circle cx="1216.8" cy="1194.7" r="2.3"/><circle cx="1209.1" cy="1195.36" r="2.3"/><circle cx="1224.5" cy="1196.03" r="2.3"/><circle cx="1201.4" cy="1196.19" r="2.3"/><circle cx="1232.2" cy="1196.75" r="2.3"/><circle cx="1193.7" cy="1197.21" r="2.3"/><circle cx="1239.9" cy="1198.21" r="2.3"/><circle cx="1216.8" cy="1190.12" r="2.3"/><circle cx="1209.1" cy="1190.72" r="2.3"/><circle cx="1224.5" cy="1190.8" r="2.3"/><circle cx="1201.4" cy="1191.19" r="2.3"/><circle cx="1232.2" cy="1192.91" r="2.3"/><circle cx="1193.7" cy="1193.09" r="2.3"/><circle cx="1239.9" cy="1193.84" r="2.3"/><circle cx="1216.8" cy="1276.92" r="2.3"/><circle cx="1209.1" cy="1277.41" r="2.3"/><circle cx="1224.5" cy="1277.53" r="2.3"/><circle cx="1212.95" cy="1161.36" r="2.3"/><circle cx="1220.65" cy="1162.58" r="2.3"/><circle cx="1205.25" cy="1162.9" r="2.3"/><circle cx="1228.35" cy="1163.18" r="2.3"/><circle cx="1212.95" cy="1165.62" r="2.3"/><circle cx="1220.65" cy="1165.65" r="2.3"/><circle cx="1205.25" cy="1168.09" r="2.3"/><circle cx="1228.35" cy="1168.53" r="2.3"/><circle cx="1216.8" cy="1283.7" r="2.3"/><circle cx="1216.8" cy="1104.58" r="2.3"/><circle cx="1209.1" cy="1108.37" r="2.3"/><circle cx="1224.5" cy="1109.04" r="2.3"/><circle cx="1216.8" cy="1131.2" r="2.3"/><circle cx="1209.1" cy="1131.58" r="2.3"/><circle cx="1224.5" cy="1132.42" r="2.3"/><circle cx="1201.4" cy="1133.22" r="2.3"/><circle cx="1232.2" cy="1133.91" r="2.3"/><circle cx="1212.95" cy="1186.06" r="2.3"/><circle cx="1220.65" cy="1188.12" r="2.3"/><circle cx="1205.25" cy="1188.71" r="2.3"/><circle cx="1228.35" cy="1188.85" r="2.3"/><circle cx="1212.95" cy="1240.46" r="2.3"/><circle cx="1220.65" cy="1242.63" r="2.3"/><circle cx="1212.95" cy="1122.33" r="2.3"/><circle cx="1220.65" cy="1122.86" r="2.3"/><circle cx="1205.25" cy="1122.98" r="2.3"/><circle cx="1228.35" cy="1123.21" r="2.3"/><circle cx="1212.95" cy="1125.73" r="2.3"/><circle cx="1220.65" cy="1125.98" r="2.3"/><circle cx="1205.25" cy="1127.87" r="2.3"/><circle cx="1228.35" cy="1129.02" r="2.3"/><circle cx="1212.95" cy="1227.71" r="2.3"/><circle cx="1220.65" cy="1228.35" r="2.3"/><circle cx="1216.8" cy="1149.74" r="2.3"/><circle cx="1209.1" cy="1149.92" r="2.3"/><circle cx="1224.5" cy="1149.94" r="2.3"/><circle cx="1216.8" cy="1261.99" r="2.3"/><circle cx="1216.8" cy="1204.79" r="2.3"/><circle cx="1209.1" cy="1207.84" r="2.3"/><circle cx="1224.5" cy="1208.02" r="2.3"/><circle cx="1216.8" cy="1180.42" r="2.3"/><circle cx="1209.1" cy="1182.47" r="2.3"/><circle cx="1224.5" cy="1182.98" r="2.3"/><circle cx="1212.95" cy="1115.55" r="2.3"/><circle cx="1220.65" cy="1117.97" r="2.3"/><circle cx="1216.8" cy="1140.69" r="2.3"/><circle cx="1209.1" cy="1140.92" r="2.3"/><circle cx="1224.5" cy="1143.1" r="2.3"/><circle cx="1216.8" cy="1099.34" r="2.3"/></g>
<g fill="#000"><circle cx="1311.4" cy="1355.1" r="2.3"/><circle cx="1311.4" cy="1324.36" r="2.3"/><circle cx="1303.7" cy="1327.62" r="2.3"/><circle cx="1319.1" cy="1328.2" r="2.3"/><circle cx="1311.4" cy="1105.37" r="2.3"/><circle cx="1311.4" cy="1195.23" r="2.3"/><circle cx="1303.7" cy="1195.45" r="2.3"/><circle cx="1319.1" cy="1196.58" r="2.3"/><circle cx="1311.4" cy="1231.1" r="2.3"/><circle cx="1303.7" cy="1231.39" r="2.3"/><circle cx="1319.1" cy="1231.94" r="2.3"/><circle cx="1296" cy="1233.46" r="2.3"/><circle cx="1326.8" cy="1233.8" r="2.3"/><circle cx="1307.55" cy="1289.22" r="2.3"/><circle cx="1315.25" cy="1290.18" r="2.3"/><circle cx="1299.85" cy="1291.9" r="2.3"/><circle cx="1322.95" cy="1293.19" r="2.3"/><circle cx="1311.4" cy="1201.56" r="2.3"/><circle cx="1303.7" cy="1202.22" r="2.3"/><circle cx="1319.1" cy="1202.98" r="2.3"/><circle cx="1296" cy="1203.29" r="2.3"/><circle cx="1326.8" cy="1203.7" r="2.3"/><circle cx="1311.4" cy="1234.27" r="2.3"/><circle cx="1304.4" cy="1234.51" r="2.3"/><circle cx="1318.4" cy="1234.54" r="2.3"/><circle cx="1297.4" cy="1235.23" r="2.3"/><circle cx="1325.4" cy="1235.45" r="2.3"/><circle cx="1290.4" cy="1236.11" r="2.3"/><circle cx="1332.4" cy="1237.19" r="2.3"/><circle cx="1283.4" cy="1237.66" r="2.3"/><circle cx="1339.4" cy="1238.92" r="2.3"/><circle cx="1311.4" cy="1281.07" r="2.3"/><circle cx="1303.7" cy="1281.59" r="2.3"/><circle cx="1319.1" cy="1282.41" r="2.3"/><circle cx="1311.4" cy="1294.55" r="2.3"/><circle cx="1303.7" cy="1295.28" r="2.3"/><circle cx="1319.1" cy="1296.72" r="2.3"/><circle cx="1307.55" cy="1174.21" r="2.3"/><circle cx="1315.25" cy="1177.29" r="2.3"/><circle cx="1299.85" cy="1177.65" r="2.3"/><circle cx="1322.95" cy="1178.68" r="2.3"/><circle cx="1307.55" cy="1164.98" r="2.3"/><circle cx="1315.25" cy="1168.47" r="2.3"/><circle cx="1311.4" cy="1250.51" r="2.3"/><circle cx="1303.7" cy="1252.16" r="2.3"/><circle cx="1319.1" cy="1252.26" r="2.3"/><circle cx="1311.4" cy="1266.09" r="2.3"/><circle cx="1307.55" cy="1189.54" r="2.3"/><circle cx="1315.25" cy="1192" r="2.3"/><circle cx="1299.85" cy="1193.16" r="2.3"/><circle cx="1322.95" cy="1193.49" r="2.3"/><circle cx="1311.4" cy="1209.64" r="2.3"/><circle cx="1303.7" cy="1210.49" r="2.3"/><circle cx="1319.1" cy="1211.88" r="2.3"/><circle cx="1296" cy="1212.54" r="2.3"/><circle cx="1326.8" cy="1213.6" r="2.3"/><circle cx="1288.3" cy="1213.91" r="2.3"/><circle cx="1334.5" cy="1214.18" r="2.3"/><circle cx="1307.55" cy="1150.25" r="2.3"/><circle cx="1315.25" cy="1153.39" r="2.3"/><circle cx="1311.4" cy="1275.4" r="2.3"/><circle cx="1303.7" cy="1275.74" r="2.3"/><circle cx="1319.1" cy="1276.82" r="2.3"/><circle cx="1307.55" cy="1244.55" r="2.3"/><circle cx="1315.25" cy="1245.38" r="2.3"/><circle cx="1299.85" cy="1245.39" r="2.3"/><circle cx="1322.95" cy="1248.23" r="2.3"/><circle cx="1311.4" cy="1139.26" r="2.3"/><circle cx="1303.7" cy="1139.45" r="2.3"/><circle cx="1319.1" cy="1141.7" r="2.3"/><circle cx="1311.4" cy="1157.78" r="2.3"/><circle cx="1311.4" cy="1184.98" r="2.3"/><circle cx="1303.7" cy="1185.58" r="2.3"/><circle cx="1319.1" cy="1187.26" r="2.3"/><circle cx="1296" cy="1188.18" r="2.3"/><circle cx="1326.8" cy="1188.63" r="2.3"/><circle cx="1311.4" cy="1214.23" r="2.3"/><circle cx="1303.7" cy="1216.36" r="2.3"/><circle cx="1319.1" cy="1217.76" r="2.3"/><circle cx="1296" cy="1218.51" r="2.3"/><circle cx="1326.8" cy="1219.15" r="2.3"/><circle cx="1311.4" cy="1242.15" r="2.3"/><circle cx="1303.7" cy="1242.27" r="2.3"/><circle cx="1319.1" cy="1244.05" r="2.3"/><circle cx="1307.55" cy="1179.25" r="2.3"/><circle cx="1315.25" cy="1179.87" r="2.3"/><circle cx="1299.85" cy="1181.9" r="2.3"/><circle cx="1322.95" cy="1183.81" r="2.3"/><circle cx="1311.4" cy="1225.18" r="2.3"/><circle cx="1303.7" cy="1228.14" r="2.3"/><circle cx="1319.1" cy="1228.44" r="2.3"/><circle cx="1307.55" cy="1205.32" r="2.3"/><circle cx="1315.25" cy="1205.73" r="2.3"/><circle cx="1299.85" cy="1207.3" r="2.3"/><circle cx="1322.95" cy="1207.46" r="2.3"/><circle cx="1292.15" cy="1207.82" r="2.3"/><circle cx="1330.65" cy="1208.97" r="2.3"/><circle cx="1307.55" cy="1305.26" r="2.3"/><circle cx="1315.25" cy="1306.24" r="2.3"/><circle cx="1311.4" cy="1269.73" r="2.3"/><circle cx="1311.4" cy="1260.07" r="2.3"/><circle cx="1303.7" cy="1260.97" r="2.3"/><circle cx="1319.1" cy="1261.38" r="2.3"/><circle cx="1296" cy="1261.63" r="2.3"/><circle cx="1326.8" cy="1263.54" r="2.3"/><circle cx="1311.4" cy="1220.3" r="2.3"/><circle cx="1303.7" cy="1222.32" r="2.3"/><circle cx="1319.1" cy="1223.87" r="2.3"/><circle cx="1311.4" cy="1350.73" r="2.3"/><circle cx="1307.55" cy="1256.1" r="2.3"/><circle cx="1315.25" cy="1257.84" r="2.3"/><circle cx="1311.4" cy="1124.2" r="2.3"/><circle cx="1311.4" cy="1163.42" r="2.3"/><circle cx="1311.4" cy="1171.65" r="2.3"/><circle cx="1311.4" cy="1323.74" r="2.3"/></g>
<g fill="#000"><circle cx="1406.6" cy="1374.31" r="2.3"/><circle cx="1406.6" cy="1335.89" r="2.3"/><circle cx="1406.6" cy="1328.2" r="2.3"/><circle cx="1406.6" cy="1316.68" r="2.3"/><circle cx="1406.6" cy="1101.53" r="2.3"/><circle cx="1402.75" cy="1250.3" r="2.3"/><circle cx="1410.45" cy="1252.05" r="2.3"/><circle cx="1402.75" cy="1140.03" r="2.3"/><circle cx="1410.45" cy="1141.1" r="2.3"/><circle cx="1402.75" cy="1169.79" r="2.3"/><circle cx="1410.45" cy="1170.04" r="2.3"/><circle cx="1395.05" cy="1170.5" r="2.3"/><circle cx="1418.15" cy="1170.92" r="2.3"/><circle cx="1387.35" cy="1172.69" r="2.3"/><circle cx="1425.85" cy="1173.04" r="2.3"/><circle cx="1402.75" cy="1144.59" r="2.3"/><circle cx="1410.45" cy="1145.14" r="2.3"/><circle cx="1395.05" cy="1145.2" r="2.3"/><circle cx="1418.15" cy="1148.02" r="2.3"/><circle cx="1406.6" cy="1227.73" r="2.3"/><circle cx="1402.75" cy="1219.55" r="2.3"/><circle cx="1410.45" cy="1220.22" r="2.3"/><circle cx="1395.05" cy="1221.1" r="2.3"/><circle cx="1418.15" cy="1221.4" r="2.3"/><circle cx="1387.35" cy="1221.4" r="2.3"/><circle cx="1425.85" cy="1222.23" r="2.3"/><circle cx="1402.75" cy="1229.52" r="2.3"/><circle cx="1410.45" cy="1230.12" r="2.3"/><circle cx="1395.05" cy="1230.96" r="2.3"/><circle cx="1418.15" cy="1233.1" r="2.3"/><circle cx="1402.75" cy="1194.72" r="2.3"/><circle cx="1410.45" cy="1195.36" r="2.3"/><circle cx="1395.05" cy="1196.73" r="2.3"/><circle cx="1418.15" cy="1197.77" r="2.3"/><circle cx="1406.6" cy="1264.33" r="2.3"/><circle cx="1406.6" cy="1244.04" r="2.3"/><circle cx="1402.75" cy="1161.77" r="2.3"/><circle cx="1410.45" cy="1162.97" r="2.3"/><circle cx="1402.75" cy="1286.17" r="2.3"/><circle cx="1410.45" cy="1287.16" r="2.3"/><circle cx="1402.75" cy="1189.73" r="2.3"/><circle cx="1410.45" cy="1190.19" r="2.3"/><circle cx="1395.05" cy="1190.96" r="2.3"/><circle cx="1418.15" cy="1190.99" r="2.3"/><circle cx="1387.35" cy="1191.14" r="2.3"/><circle cx="1425.85" cy="1193.14" r="2.3"/><circle cx="1406.6" cy="1156.34" r="2.3"/><circle cx="1398.9" cy="1156.45" r="2.3"/><circle cx="1414.3" cy="1156.55" r="2.3"/><circle cx="1406.6" cy="1215.37" r="2.3"/><circle cx="1398.9" cy="1215.49" r="2.3"/><circle cx="1414.3" cy="1216.77" r="2.3"/><circle cx="1391.2" cy="1217.32" r="2.3"/><circle cx="1422" cy="1217.77" r="2.3"/><circle cx="1402.75" cy="1135.75" r="2.3"/><circle cx="1410.45" cy="1135.75" r="2.3"/><circle cx="1395.05" cy="1136.6" r="2.3"/><circle cx="1418.15" cy="1138.68" r="2.3"/><circle cx="1406.6" cy="1164.53" r="2.3"/><circle cx="1398.9" cy="1165.54" r="2.3"/><circle cx="1414.3" cy="1165.83" r="2.3"/><circle cx="1391.2" cy="1166.96" r="2.3"/><circle cx="1422" cy="1167.2" r="2.3"/><circle cx="1383.5" cy="1168.83" r="2.3"/><circle cx="1429.7" cy="1169.08" r="2.3"/><circle cx="1402.75" cy="1180.4" r="2.3"/><circle cx="1410.45" cy="1184.12" r="2.3"/><circle cx="1406.6" cy="1185.9" r="2.3"/><circle cx="1398.9" cy="1186.02" r="2.3"/><circle cx="1414.3" cy="1186.43" r="2.3"/><circle cx="1391.2" cy="1188.22" r="2.3"/><circle cx="1422" cy="1188.52" r="2.3"/><circle cx="1402.75" cy="1129.26" r="2.3"/><circle cx="1410.45" cy="1133.32" r="2.3"/><circle cx="1402.75" cy="1295.46" r="2.3"/><circle cx="1410.45" cy="1298.76" r="2.3"/><circle cx="1406.6" cy="1124.99" r="2.3"/><circle cx="1402.75" cy="1201.2" r="2.3"/><circle cx="1410.45" cy="1201.71" r="2.3"/><circle cx="1402.75" cy="1235.96" r="2.3"/><circle cx="1410.45" cy="1238.9" r="2.3"/><circle cx="1402.75" cy="1269.71" r="2.3"/><circle cx="1410.45" cy="1270.16" r="2.3"/><circle cx="1406.6" cy="1209.27" r="2.3"/><circle cx="1398.9" cy="1211.73" r="2.3"/><circle cx="1414.3" cy="1212.62" r="2.3"/><circle cx="1402.75" cy="1244.39" r="2.3"/><circle cx="1410.45" cy="1245.96" r="2.3"/><circle cx="1406.6" cy="1304.04" r="2.3"/><circle cx="1406.6" cy="1209.2" r="2.3"/><circle cx="1406.6" cy="1108.24" r="2.3"/><circle cx="1406.6" cy="1281.14" r="2.3"/><circle cx="1406.6" cy="1174.9" r="2.3"/><circle cx="1406.6" cy="1259.42" r="2.3"/><circle cx="1406.6" cy="1258.73" r="2.3"/></g>
<g fill="#000"><circle cx="1502" cy="1343.57" r="2.3"/><circle cx="1502" cy="1335.89" r="2.3"/><circle cx="1502" cy="1328.2" r="2.3"/><circle cx="1502" cy="1105.37" r="2.3"/><circle cx="1502" cy="1241.99" r="2.3"/><circle cx="1494.3" cy="1242.31" r="2.3"/><circle cx="1509.7" cy="1243.65" r="2.3"/><circle cx="1502" cy="1154.59" r="2.3"/><circle cx="1494.3" cy="1155.19" r="2.3"/><circle cx="1509.7" cy="1157.29" r="2.3"/><circle cx="1498.15" cy="1165.38" r="2.3"/><circle cx="1505.85" cy="1165.71" r="2.3"/><circle cx="1502" cy="1231.05" r="2.3"/><circle cx="1494.3" cy="1231.82" r="2.3"/><circle cx="1509.7" cy="1233.63" r="2.3"/><circle cx="1498.15" cy="1140.6" r="2.3"/><circle cx="1505.85" cy="1143.38" r="2.3"/><circle cx="1498.15" cy="1214.35" r="2.3"/><circle cx="1505.85" cy="1216.32" r="2.3"/><circle cx="1490.45" cy="1216.62" r="2.3"/><circle cx="1513.55" cy="1216.86" r="2.3"/><circle cx="1482.75" cy="1217.48" r="2.3"/><circle cx="1521.25" cy="1219.09" r="2.3"/><circle cx="1498.15" cy="1194.38" r="2.3"/><circle cx="1505.85" cy="1195.23" r="2.3"/><circle cx="1490.45" cy="1195.61" r="2.3"/><circle cx="1513.55" cy="1195.96" r="2.3"/><circle cx="1498.15" cy="1238.57" r="2.3"/><circle cx="1505.85" cy="1239.01" r="2.3"/><circle cx="1498.15" cy="1221.62" r="2.3"/><circle cx="1505.85" cy="1221.91" r="2.3"/><circle cx="1490.45" cy="1222" r="2.3"/><circle cx="1513.55" cy="1223.48" r="2.3"/><circle cx="1502" cy="1209.36" r="2.3"/><circle cx="1494.3" cy="1209.43" r="2.3"/><circle cx="1509.7" cy="1210.55" r="2.3"/><circle cx="1502" cy="1124.99" r="2.3"/><circle cx="1494.3" cy="1126.52" r="2.3"/><circle cx="1509.7" cy="1127.75" r="2.3"/><circle cx="1502" cy="1120.98" r="2.3"/><circle cx="1498.15" cy="1199.67" r="2.3"/><circle cx="1505.85" cy="1203.58" r="2.3"/><circle cx="1490.45" cy="1203.72" r="2.3"/><circle cx="1513.55" cy="1204.1" r="2.3"/><circle cx="1498.15" cy="1179.73" r="2.3"/><circle cx="1505.85" cy="1179.87" r="2.3"/><circle cx="1490.45" cy="1181.1" r="2.3"/><circle cx="1513.55" cy="1181.64" r="2.3"/><circle cx="1482.75" cy="1181.88" r="2.3"/><circle cx="1521.25" cy="1182.41" r="2.3"/><circle cx="1475.05" cy="1182.93" r="2.3"/><circle cx="1528.95" cy="1183.37" r="2.3"/><circle cx="1498.15" cy="1185.14" r="2.3"/><circle cx="1505.85" cy="1186.83" r="2.3"/><circle cx="1490.45" cy="1187.23" r="2.3"/><circle cx="1513.55" cy="1187.23" r="2.3"/><circle cx="1498.15" cy="1189.26" r="2.3"/><circle cx="1505.85" cy="1189.48" r="2.3"/><circle cx="1490.45" cy="1190.13" r="2.3"/><circle cx="1513.55" cy="1190.29" r="2.3"/><circle cx="1482.75" cy="1190.65" r="2.3"/><circle cx="1521.25" cy="1193.12" r="2.3"/><circle cx="1502" cy="1259.53" r="2.3"/><circle cx="1494.3" cy="1261.23" r="2.3"/><circle cx="1509.7" cy="1261.41" r="2.3"/><circle cx="1486.6" cy="1262.63" r="2.3"/><circle cx="1517.4" cy="1263.81" r="2.3"/><circle cx="1502" cy="1136.21" r="2.3"/><circle cx="1502" cy="1151.34" r="2.3"/><circle cx="1494.3" cy="1151.42" r="2.3"/><circle cx="1509.7" cy="1152.55" r="2.3"/><circle cx="1502" cy="1159.58" r="2.3"/><circle cx="1494.3" cy="1160.54" r="2.3"/><circle cx="1509.7" cy="1161.16" r="2.3"/><circle cx="1486.6" cy="1161.45" r="2.3"/><circle cx="1517.4" cy="1161.51" r="2.3"/><circle cx="1502" cy="1116.96" r="2.3"/><circle cx="1502" cy="1146.22" r="2.3"/><circle cx="1494.3" cy="1147.65" r="2.3"/><circle cx="1509.7" cy="1148.64" r="2.3"/><circle cx="1502" cy="1268.02" r="2.3"/><circle cx="1502" cy="1279.86" r="2.3"/><circle cx="1498.15" cy="1256.84" r="2.3"/><circle cx="1505.85" cy="1256.92" r="2.3"/><circle cx="1498.15" cy="1110.91" r="2.3"/><circle cx="1505.85" cy="1113.06" r="2.3"/><circle cx="1502" cy="1275.63" r="2.3"/><circle cx="1494.3" cy="1276.73" r="2.3"/><circle cx="1509.7" cy="1277.08" r="2.3"/><circle cx="1498.15" cy="1169.49" r="2.3"/><circle cx="1505.85" cy="1170.62" r="2.3"/><circle cx="1490.45" cy="1170.95" r="2.3"/><circle cx="1513.55" cy="1173.27" r="2.3"/><circle cx="1498.15" cy="1270.95" r="2.3"/><circle cx="1505.85" cy="1272.28" r="2.3"/><circle cx="1498.15" cy="1175.91" r="2.3"/><circle cx="1505.85" cy="1178.68" r="2.3"/><circle cx="1502" cy="1245.07" r="2.3"/><circle cx="1502" cy="1252.73" r="2.3"/><circle cx="1502" cy="1130.17" r="2.3"/></g>
<line x1="1153.7" y1="1088" x2="1153.7" y2="1476" stroke="#000" stroke-width="3.6"/>
<line x1="1147" y1="1474.2" x2="1565.2" y2="1474.2" stroke="#000" stroke-width="3.6"/>
<line x1="1146.7" y1="1090" x2="1153.7" y2="1090" stroke="#000" stroke-width="3.6"/>
<line x1="1146.7" y1="1186" x2="1153.7" y2="1186" stroke="#000" stroke-width="3.6"/>
<line x1="1146.7" y1="1282.1" x2="1153.7" y2="1282.1" stroke="#000" stroke-width="3.6"/>
<line x1="1146.7" y1="1378.2" x2="1153.7" y2="1378.2" stroke="#000" stroke-width="3.6"/>
<line x1="1216.8" y1="1474.2" x2="1216.8" y2="1482.2" stroke="#000" stroke-width="3.6"/>
<line x1="1311.4" y1="1474.2" x2="1311.4" y2="1482.2" stroke="#000" stroke-width="3.6"/>
<line x1="1406.6" y1="1474.2" x2="1406.6" y2="1482.2" stroke="#000" stroke-width="3.6"/>
<line x1="1502" y1="1474.2" x2="1502" y2="1482.2" stroke="#000" stroke-width="3.6"/>
<polyline points="1216.8,1086 1216.8,1076 1309.8,1076 1309.8,1086" fill="none" stroke="#000" stroke-width="3.6" stroke-linejoin="miter"/>
<rect x="1705.4" y="1182.7" width="57.3" height="291.7" fill="#bababa" stroke="#5a5a5a" stroke-width="3.6"/>
<rect x="1800.6" y="1201.3" width="57.6" height="273.1" fill="#bababa" stroke="#5a5a5a" stroke-width="3.6"/>
<rect x="1896.1" y="1176.3" width="57.3" height="298.1" fill="#bababa" stroke="#5a5a5a" stroke-width="3.6"/>
<rect x="1991.6" y="1178.5" width="57.3" height="295.9" fill="#bababa" stroke="#5a5a5a" stroke-width="3.6"/>
<line x1="1734" y1="1148" x2="1734" y2="1215.4" stroke="#696969" stroke-width="3.6"/>
<line x1="1718" y1="1148" x2="1750" y2="1148" stroke="#696969" stroke-width="3.6"/>
<line x1="1718" y1="1215.4" x2="1750" y2="1215.4" stroke="#696969" stroke-width="3.6"/>
<line x1="1828.6" y1="1158.6" x2="1828.6" y2="1242" stroke="#696969" stroke-width="3.6"/>
<line x1="1812.6" y1="1158.6" x2="1845.6" y2="1158.6" stroke="#696969" stroke-width="3.6"/>
<line x1="1812.6" y1="1242" x2="1845.6" y2="1242" stroke="#696969" stroke-width="3.6"/>
<line x1="1924.8" y1="1139.4" x2="1924.8" y2="1210.6" stroke="#696969" stroke-width="3.6"/>
<line x1="1908.7" y1="1139.4" x2="1941.7" y2="1139.4" stroke="#696969" stroke-width="3.6"/>
<line x1="1908.7" y1="1210.6" x2="1941.7" y2="1210.6" stroke="#696969" stroke-width="3.6"/>
<line x1="2020" y1="1140" x2="2020" y2="1213.8" stroke="#696969" stroke-width="3.6"/>
<line x1="2003.3" y1="1140" x2="2037" y2="1140" stroke="#696969" stroke-width="3.6"/>
<line x1="2003.3" y1="1213.8" x2="2037" y2="1213.8" stroke="#696969" stroke-width="3.6"/>
<g fill="#000"><circle cx="1734" cy="1350.92" r="2.3"/><circle cx="1734" cy="1273.75" r="2.3"/><circle cx="1734" cy="1263.46" r="2.3"/><circle cx="1732.35" cy="1164.63" r="2.3"/><circle cx="1735.65" cy="1164.64" r="2.3"/><circle cx="1729.06" cy="1164.99" r="2.3"/><circle cx="1738.94" cy="1165.24" r="2.3"/><circle cx="1725.76" cy="1165.4" r="2.3"/><circle cx="1742.24" cy="1165.47" r="2.3"/><circle cx="1722.47" cy="1166.07" r="2.3"/><circle cx="1745.53" cy="1166.73" r="2.3"/><circle cx="1719.18" cy="1167.08" r="2.3"/><circle cx="1748.82" cy="1167.2" r="2.3"/><circle cx="1715.88" cy="1167.31" r="2.3"/><circle cx="1752.12" cy="1167.34" r="2.3"/><circle cx="1712.59" cy="1167.71" r="2.3"/><circle cx="1755.41" cy="1167.88" r="2.3"/><circle cx="1709.29" cy="1167.98" r="2.3"/><circle cx="1758.71" cy="1168.36" r="2.3"/><circle cx="1706" cy="1168.92" r="2.3"/><circle cx="1762" cy="1169.32" r="2.3"/><circle cx="1730.15" cy="1194.69" r="2.3"/><circle cx="1737.85" cy="1195.46" r="2.3"/><circle cx="1722.45" cy="1197.53" r="2.3"/><circle cx="1745.55" cy="1198.99" r="2.3"/><circle cx="1734" cy="1159.92" r="2.3"/><circle cx="1731.2" cy="1160.21" r="2.3"/><circle cx="1736.8" cy="1160.27" r="2.3"/><circle cx="1728.4" cy="1160.47" r="2.3"/><circle cx="1739.6" cy="1160.88" r="2.3"/><circle cx="1725.6" cy="1160.94" r="2.3"/><circle cx="1742.4" cy="1161.26" r="2.3"/><circle cx="1722.8" cy="1161.51" r="2.3"/><circle cx="1745.2" cy="1161.52" r="2.3"/><circle cx="1720" cy="1161.65" r="2.3"/><circle cx="1748" cy="1161.76" r="2.3"/><circle cx="1717.2" cy="1161.8" r="2.3"/><circle cx="1750.8" cy="1161.95" r="2.3"/><circle cx="1714.4" cy="1162.25" r="2.3"/><circle cx="1753.6" cy="1162.34" r="2.3"/><circle cx="1711.6" cy="1162.55" r="2.3"/><circle cx="1756.4" cy="1162.76" r="2.3"/><circle cx="1708.8" cy="1163.2" r="2.3"/><circle cx="1759.2" cy="1163.31" r="2.3"/><circle cx="1706" cy="1163.45" r="2.3"/><circle cx="1762" cy="1163.81" r="2.3"/><circle cx="1730.15" cy="1155.49" r="2.3"/><circle cx="1737.85" cy="1155.84" r="2.3"/><circle cx="1722.45" cy="1155.86" r="2.3"/><circle cx="1745.55" cy="1156.41" r="2.3"/><circle cx="1714.75" cy="1157.12" r="2.3"/><circle cx="1753.25" cy="1157.25" r="2.3"/><circle cx="1707.05" cy="1157.26" r="2.3"/><circle cx="1760.95" cy="1158.9" r="2.3"/><circle cx="1732.35" cy="1179.61" r="2.3"/><circle cx="1735.65" cy="1179.86" r="2.3"/><circle cx="1729.06" cy="1180.31" r="2.3"/><circle cx="1738.94" cy="1180.46" r="2.3"/><circle cx="1725.76" cy="1180.53" r="2.3"/><circle cx="1742.24" cy="1180.98" r="2.3"/><circle cx="1722.47" cy="1181.15" r="2.3"/><circle cx="1745.53" cy="1181.19" r="2.3"/><circle cx="1719.18" cy="1181.32" r="2.3"/><circle cx="1748.82" cy="1181.88" r="2.3"/><circle cx="1715.88" cy="1182.19" r="2.3"/><circle cx="1752.12" cy="1182.52" r="2.3"/><circle cx="1712.59" cy="1182.9" r="2.3"/><circle cx="1755.41" cy="1182.98" r="2.3"/><circle cx="1709.29" cy="1182.98" r="2.3"/><circle cx="1758.71" cy="1183.57" r="2.3"/><circle cx="1706" cy="1184.17" r="2.3"/><circle cx="1762" cy="1184.33" r="2.3"/><circle cx="1734" cy="1169.6" r="2.3"/><circle cx="1729.33" cy="1169.61" r="2.3"/><circle cx="1738.67" cy="1169.61" r="2.3"/><circle cx="1724.67" cy="1170.42" r="2.3"/><circle cx="1743.33" cy="1170.54" r="2.3"/><circle cx="1720" cy="1171.57" r="2.3"/><circle cx="1748" cy="1171.64" r="2.3"/><circle cx="1715.33" cy="1172.14" r="2.3"/><circle cx="1752.67" cy="1172.3" r="2.3"/><circle cx="1710.67" cy="1172.74" r="2.3"/><circle cx="1757.33" cy="1173.2" r="2.3"/><circle cx="1706" cy="1173.28" r="2.3"/><circle cx="1762" cy="1174.09" r="2.3"/><circle cx="1730.89" cy="1185.47" r="2.3"/><circle cx="1737.11" cy="1185.58" r="2.3"/><circle cx="1724.67" cy="1185.68" r="2.3"/><circle cx="1743.33" cy="1185.73" r="2.3"/><circle cx="1718.44" cy="1186.21" r="2.3"/><circle cx="1749.56" cy="1186.22" r="2.3"/><circle cx="1712.22" cy="1186.63" r="2.3"/><circle cx="1755.78" cy="1186.78" r="2.3"/><circle cx="1706" cy="1188.37" r="2.3"/><circle cx="1762" cy="1188.53" r="2.3"/><circle cx="1730.15" cy="1221.18" r="2.3"/><circle cx="1737.85" cy="1222.35" r="2.3"/><circle cx="1734" cy="1145.04" r="2.3"/><circle cx="1728.4" cy="1145.17" r="2.3"/><circle cx="1739.6" cy="1145.42" r="2.3"/><circle cx="1722.8" cy="1145.73" r="2.3"/><circle cx="1745.2" cy="1146.29" r="2.3"/><circle cx="1717.2" cy="1147.19" r="2.3"/><circle cx="1750.8" cy="1147.75" r="2.3"/><circle cx="1711.6" cy="1147.77" r="2.3"/><circle cx="1756.4" cy="1148.22" r="2.3"/><circle cx="1706" cy="1148.3" r="2.3"/><circle cx="1762" cy="1149.33" r="2.3"/><circle cx="1730.15" cy="1175.7" r="2.3"/><circle cx="1737.85" cy="1175.84" r="2.3"/><circle cx="1722.45" cy="1177.82" r="2.3"/><circle cx="1745.55" cy="1177.94" r="2.3"/><circle cx="1714.75" cy="1178.05" r="2.3"/><circle cx="1753.25" cy="1179.34" r="2.3"/><circle cx="1734" cy="1199.49" r="2.3"/><circle cx="1726.3" cy="1199.91" r="2.3"/><circle cx="1741.7" cy="1200.83" r="2.3"/><circle cx="1718.6" cy="1201.83" r="2.3"/><circle cx="1749.4" cy="1201.87" r="2.3"/><circle cx="1731.85" cy="1149.95" r="2.3"/><circle cx="1736.15" cy="1151.09" r="2.3"/><circle cx="1727.54" cy="1151.32" r="2.3"/><circle cx="1740.46" cy="1151.44" r="2.3"/><circle cx="1723.23" cy="1151.48" r="2.3"/><circle cx="1744.77" cy="1151.49" r="2.3"/><circle cx="1718.92" cy="1151.51" r="2.3"/><circle cx="1749.08" cy="1151.61" r="2.3"/><circle cx="1714.62" cy="1151.87" r="2.3"/><circle cx="1753.38" cy="1152.72" r="2.3"/><circle cx="1710.31" cy="1153.46" r="2.3"/><circle cx="1757.69" cy="1153.57" r="2.3"/><circle cx="1706" cy="1153.83" r="2.3"/><circle cx="1762" cy="1154.23" r="2.3"/><circle cx="1734" cy="1256.96" r="2.3"/><circle cx="1734" cy="1189.47" r="2.3"/><circle cx="1726.3" cy="1189.8" r="2.3"/><circle cx="1741.7" cy="1191.88" r="2.3"/><circle cx="1718.6" cy="1192.22" r="2.3"/><circle cx="1749.4" cy="1192.61" r="2.3"/><circle cx="1710.9" cy="1192.61" r="2.3"/><circle cx="1757.1" cy="1193.2" r="2.3"/><circle cx="1734" cy="1225.8" r="2.3"/><circle cx="1734" cy="1210.93" r="2.3"/><circle cx="1726.3" cy="1211.37" r="2.3"/><circle cx="1741.7" cy="1212.08" r="2.3"/><circle cx="1730.15" cy="1215.24" r="2.3"/><circle cx="1737.85" cy="1216.16" r="2.3"/><circle cx="1734" cy="1204.59" r="2.3"/><circle cx="1726.3" cy="1207.06" r="2.3"/><circle cx="1741.7" cy="1208.32" r="2.3"/></g>
<g fill="#000"><circle cx="1828.6" cy="1320.05" r="2.3"/><circle cx="1828.6" cy="1304.62" r="2.3"/><circle cx="1828.6" cy="1294.33" r="2.3"/><circle cx="1824.75" cy="1273.75" r="2.3"/><circle cx="1832.45" cy="1273.75" r="2.3"/><circle cx="1828.6" cy="1184.67" r="2.3"/><circle cx="1821.6" cy="1184.72" r="2.3"/><circle cx="1835.6" cy="1185.78" r="2.3"/><circle cx="1814.6" cy="1186.2" r="2.3"/><circle cx="1842.6" cy="1186.85" r="2.3"/><circle cx="1807.6" cy="1186.99" r="2.3"/><circle cx="1849.6" cy="1187.06" r="2.3"/><circle cx="1800.6" cy="1187.23" r="2.3"/><circle cx="1856.6" cy="1189.11" r="2.3"/><circle cx="1825.49" cy="1194.41" r="2.3"/><circle cx="1831.71" cy="1195.14" r="2.3"/><circle cx="1819.27" cy="1195.38" r="2.3"/><circle cx="1837.93" cy="1195.82" r="2.3"/><circle cx="1813.04" cy="1195.94" r="2.3"/><circle cx="1844.16" cy="1196.36" r="2.3"/><circle cx="1806.82" cy="1196.4" r="2.3"/><circle cx="1850.38" cy="1197.27" r="2.3"/><circle cx="1800.6" cy="1197.93" r="2.3"/><circle cx="1856.6" cy="1198.31" r="2.3"/><circle cx="1824.75" cy="1140.24" r="2.3"/><circle cx="1832.45" cy="1140.57" r="2.3"/><circle cx="1817.05" cy="1142.63" r="2.3"/><circle cx="1840.15" cy="1143.26" r="2.3"/><circle cx="1809.35" cy="1143.49" r="2.3"/><circle cx="1847.85" cy="1143.73" r="2.3"/><circle cx="1828.6" cy="1174.62" r="2.3"/><circle cx="1823" cy="1174.83" r="2.3"/><circle cx="1834.2" cy="1174.96" r="2.3"/><circle cx="1817.4" cy="1175.58" r="2.3"/><circle cx="1839.8" cy="1176.24" r="2.3"/><circle cx="1811.8" cy="1176.28" r="2.3"/><circle cx="1845.4" cy="1177.1" r="2.3"/><circle cx="1806.2" cy="1177.5" r="2.3"/><circle cx="1851" cy="1178.53" r="2.3"/><circle cx="1800.6" cy="1178.9" r="2.3"/><circle cx="1856.6" cy="1179.2" r="2.3"/><circle cx="1828.6" cy="1179.61" r="2.3"/><circle cx="1821.6" cy="1180.37" r="2.3"/><circle cx="1835.6" cy="1181.32" r="2.3"/><circle cx="1814.6" cy="1181.75" r="2.3"/><circle cx="1842.6" cy="1181.9" r="2.3"/><circle cx="1807.6" cy="1181.94" r="2.3"/><circle cx="1849.6" cy="1182.28" r="2.3"/><circle cx="1800.6" cy="1182.38" r="2.3"/><circle cx="1856.6" cy="1183.13" r="2.3"/><circle cx="1828.6" cy="1227.85" r="2.3"/><circle cx="1820.9" cy="1228.11" r="2.3"/><circle cx="1836.3" cy="1228.4" r="2.3"/><circle cx="1828.6" cy="1205.18" r="2.3"/><circle cx="1820.9" cy="1206.57" r="2.3"/><circle cx="1836.3" cy="1209.04" r="2.3"/><circle cx="1828.6" cy="1221.28" r="2.3"/><circle cx="1820.9" cy="1222.06" r="2.3"/><circle cx="1836.3" cy="1223.58" r="2.3"/><circle cx="1824.75" cy="1144.95" r="2.3"/><circle cx="1832.45" cy="1145.41" r="2.3"/><circle cx="1817.05" cy="1147.77" r="2.3"/><circle cx="1840.15" cy="1148.27" r="2.3"/><circle cx="1809.35" cy="1148.65" r="2.3"/><circle cx="1847.85" cy="1148.65" r="2.3"/><circle cx="1828.6" cy="1164.77" r="2.3"/><circle cx="1820.9" cy="1166.19" r="2.3"/><circle cx="1836.3" cy="1168.78" r="2.3"/><circle cx="1824.75" cy="1233.07" r="2.3"/><circle cx="1832.45" cy="1233.37" r="2.3"/><circle cx="1824.75" cy="1189.85" r="2.3"/><circle cx="1832.45" cy="1190" r="2.3"/><circle cx="1817.05" cy="1190.75" r="2.3"/><circle cx="1840.15" cy="1191.84" r="2.3"/><circle cx="1824.75" cy="1160.19" r="2.3"/><circle cx="1832.45" cy="1160.27" r="2.3"/><circle cx="1817.05" cy="1160.99" r="2.3"/><circle cx="1840.15" cy="1162.69" r="2.3"/><circle cx="1809.35" cy="1163.05" r="2.3"/><circle cx="1847.85" cy="1164.12" r="2.3"/><circle cx="1824.75" cy="1215.84" r="2.3"/><circle cx="1832.45" cy="1219.08" r="2.3"/><circle cx="1824.75" cy="1150.79" r="2.3"/><circle cx="1832.45" cy="1151.01" r="2.3"/><circle cx="1817.05" cy="1151.66" r="2.3"/><circle cx="1840.15" cy="1152.15" r="2.3"/><circle cx="1809.35" cy="1152.52" r="2.3"/><circle cx="1847.85" cy="1153.23" r="2.3"/><circle cx="1828.6" cy="1199.92" r="2.3"/><circle cx="1820.9" cy="1200.53" r="2.3"/><circle cx="1836.3" cy="1203.04" r="2.3"/><circle cx="1813.2" cy="1203.35" r="2.3"/><circle cx="1844" cy="1204.17" r="2.3"/><circle cx="1828.6" cy="1154.52" r="2.3"/><circle cx="1820.9" cy="1154.53" r="2.3"/><circle cx="1836.3" cy="1155.05" r="2.3"/><circle cx="1813.2" cy="1155.47" r="2.3"/><circle cx="1844" cy="1158.26" r="2.3"/><circle cx="1805.5" cy="1158.56" r="2.3"/><circle cx="1851.7" cy="1159.38" r="2.3"/><circle cx="1828.6" cy="1253.63" r="2.3"/><circle cx="1828.6" cy="1212.99" r="2.3"/><circle cx="1828.6" cy="1170.31" r="2.3"/><circle cx="1820.9" cy="1171.47" r="2.3"/><circle cx="1836.3" cy="1173.85" r="2.3"/><circle cx="1824.75" cy="1235.99" r="2.3"/><circle cx="1832.45" cy="1237.09" r="2.3"/><circle cx="1828.6" cy="1267.9" r="2.3"/><circle cx="1828.6" cy="1247.42" r="2.3"/><circle cx="1828.6" cy="1240.24" r="2.3"/></g>
<g fill="#000"><circle cx="1924.8" cy="1345.78" r="2.3"/><circle cx="1920.95" cy="1284.04" r="2.3"/><circle cx="1928.65" cy="1284.04" r="2.3"/><circle cx="1921.69" cy="1149.8" r="2.3"/><circle cx="1927.91" cy="1150.05" r="2.3"/><circle cx="1915.47" cy="1150.08" r="2.3"/><circle cx="1934.13" cy="1151.43" r="2.3"/><circle cx="1909.24" cy="1151.73" r="2.3"/><circle cx="1940.36" cy="1152.31" r="2.3"/><circle cx="1903.02" cy="1152.4" r="2.3"/><circle cx="1946.58" cy="1152.5" r="2.3"/><circle cx="1896.8" cy="1153.36" r="2.3"/><circle cx="1952.8" cy="1153.4" r="2.3"/><circle cx="1920.95" cy="1140.23" r="2.3"/><circle cx="1928.65" cy="1140.56" r="2.3"/><circle cx="1913.25" cy="1141" r="2.3"/><circle cx="1936.35" cy="1142.46" r="2.3"/><circle cx="1905.55" cy="1143.26" r="2.3"/><circle cx="1944.05" cy="1144.16" r="2.3"/><circle cx="1920.95" cy="1190.52" r="2.3"/><circle cx="1928.65" cy="1190.96" r="2.3"/><circle cx="1913.25" cy="1192.63" r="2.3"/><circle cx="1936.35" cy="1193.68" r="2.3"/><circle cx="1924.8" cy="1184.84" r="2.3"/><circle cx="1917.1" cy="1185.33" r="2.3"/><circle cx="1932.5" cy="1185.68" r="2.3"/><circle cx="1909.4" cy="1186.23" r="2.3"/><circle cx="1940.2" cy="1187.17" r="2.3"/><circle cx="1901.7" cy="1188.16" r="2.3"/><circle cx="1947.9" cy="1188.62" r="2.3"/><circle cx="1920.95" cy="1199.78" r="2.3"/><circle cx="1928.65" cy="1203.37" r="2.3"/><circle cx="1920.95" cy="1138.04" r="2.3"/><circle cx="1928.65" cy="1138.12" r="2.3"/><circle cx="1913.25" cy="1138.54" r="2.3"/><circle cx="1936.35" cy="1139.2" r="2.3"/><circle cx="1905.55" cy="1139.34" r="2.3"/><circle cx="1944.05" cy="1139.38" r="2.3"/><circle cx="1924.8" cy="1164.47" r="2.3"/><circle cx="1917.1" cy="1165.71" r="2.3"/><circle cx="1932.5" cy="1166.41" r="2.3"/><circle cx="1909.4" cy="1166.61" r="2.3"/><circle cx="1940.2" cy="1167.33" r="2.3"/><circle cx="1901.7" cy="1168.02" r="2.3"/><circle cx="1947.9" cy="1169.32" r="2.3"/><circle cx="1920.95" cy="1176" r="2.3"/><circle cx="1928.65" cy="1176.26" r="2.3"/><circle cx="1913.25" cy="1176.94" r="2.3"/><circle cx="1936.35" cy="1177.1" r="2.3"/><circle cx="1905.55" cy="1177.16" r="2.3"/><circle cx="1944.05" cy="1177.81" r="2.3"/><circle cx="1920.95" cy="1171.48" r="2.3"/><circle cx="1928.65" cy="1171.84" r="2.3"/><circle cx="1913.25" cy="1172.63" r="2.3"/><circle cx="1936.35" cy="1172.98" r="2.3"/><circle cx="1920.95" cy="1159.68" r="2.3"/><circle cx="1928.65" cy="1159.93" r="2.3"/><circle cx="1913.25" cy="1160.81" r="2.3"/><circle cx="1936.35" cy="1161.19" r="2.3"/><circle cx="1905.55" cy="1161.93" r="2.3"/><circle cx="1944.05" cy="1162.15" r="2.3"/><circle cx="1924.8" cy="1156.38" r="2.3"/><circle cx="1917.1" cy="1156.59" r="2.3"/><circle cx="1932.5" cy="1158.2" r="2.3"/><circle cx="1909.4" cy="1158.55" r="2.3"/><circle cx="1940.2" cy="1159.12" r="2.3"/><circle cx="1924.8" cy="1224.63" r="2.3"/><circle cx="1921.69" cy="1145.34" r="2.3"/><circle cx="1927.91" cy="1146.09" r="2.3"/><circle cx="1915.47" cy="1146.94" r="2.3"/><circle cx="1934.13" cy="1147.66" r="2.3"/><circle cx="1909.24" cy="1147.68" r="2.3"/><circle cx="1940.36" cy="1147.79" r="2.3"/><circle cx="1903.02" cy="1148.37" r="2.3"/><circle cx="1946.58" cy="1148.59" r="2.3"/><circle cx="1896.8" cy="1148.92" r="2.3"/><circle cx="1952.8" cy="1149.12" r="2.3"/><circle cx="1920.95" cy="1195.74" r="2.3"/><circle cx="1928.65" cy="1197.28" r="2.3"/><circle cx="1913.25" cy="1197.64" r="2.3"/><circle cx="1936.35" cy="1198.17" r="2.3"/><circle cx="1924.8" cy="1218.14" r="2.3"/><circle cx="1924.8" cy="1206.53" r="2.3"/><circle cx="1920.95" cy="1221.5" r="2.3"/><circle cx="1928.65" cy="1223.94" r="2.3"/><circle cx="1920.95" cy="1180.81" r="2.3"/><circle cx="1928.65" cy="1182.74" r="2.3"/><circle cx="1920.95" cy="1212.5" r="2.3"/><circle cx="1928.65" cy="1213.28" r="2.3"/><circle cx="1924.8" cy="1231.67" r="2.3"/></g>
<g fill="#000"><circle cx="2020" cy="1299.47" r="2.3"/><circle cx="2020" cy="1294.33" r="2.3"/><circle cx="2020" cy="1284.04" r="2.3"/><circle cx="2020" cy="1159.44" r="2.3"/><circle cx="2013" cy="1159.77" r="2.3"/><circle cx="2027" cy="1160" r="2.3"/><circle cx="2006" cy="1160.4" r="2.3"/><circle cx="2034" cy="1160.51" r="2.3"/><circle cx="1999" cy="1160.94" r="2.3"/><circle cx="2041" cy="1162.21" r="2.3"/><circle cx="1992" cy="1163.3" r="2.3"/><circle cx="2048" cy="1164.04" r="2.3"/><circle cx="2016.15" cy="1230.75" r="2.3"/><circle cx="2023.85" cy="1231.54" r="2.3"/><circle cx="2008.45" cy="1233.48" r="2.3"/><circle cx="2031.55" cy="1233.67" r="2.3"/><circle cx="2016.15" cy="1186.13" r="2.3"/><circle cx="2023.85" cy="1186.23" r="2.3"/><circle cx="2008.45" cy="1188.41" r="2.3"/><circle cx="2031.55" cy="1189.25" r="2.3"/><circle cx="2020" cy="1215.52" r="2.3"/><circle cx="2016.15" cy="1149.52" r="2.3"/><circle cx="2023.85" cy="1150.15" r="2.3"/><circle cx="2008.45" cy="1151.36" r="2.3"/><circle cx="2031.55" cy="1152.72" r="2.3"/><circle cx="2020" cy="1165.03" r="2.3"/><circle cx="2013" cy="1165.58" r="2.3"/><circle cx="2027" cy="1166.25" r="2.3"/><circle cx="2006" cy="1166.29" r="2.3"/><circle cx="2034" cy="1166.81" r="2.3"/><circle cx="1999" cy="1166.84" r="2.3"/><circle cx="2041" cy="1167.95" r="2.3"/><circle cx="1992" cy="1168.16" r="2.3"/><circle cx="2048" cy="1168.44" r="2.3"/><circle cx="2016.15" cy="1154.6" r="2.3"/><circle cx="2023.85" cy="1154.84" r="2.3"/><circle cx="2008.45" cy="1156.93" r="2.3"/><circle cx="2031.55" cy="1157.02" r="2.3"/><circle cx="2000.75" cy="1157.54" r="2.3"/><circle cx="2039.25" cy="1157.58" r="2.3"/><circle cx="1993.05" cy="1158.4" r="2.3"/><circle cx="2046.95" cy="1158.89" r="2.3"/><circle cx="2016.15" cy="1180.6" r="2.3"/><circle cx="2023.85" cy="1181.67" r="2.3"/><circle cx="2008.45" cy="1183.48" r="2.3"/><circle cx="2031.55" cy="1183.62" r="2.3"/><circle cx="2000.75" cy="1183.78" r="2.3"/><circle cx="2039.25" cy="1183.8" r="2.3"/><circle cx="2020" cy="1170.47" r="2.3"/><circle cx="2012.3" cy="1171.04" r="2.3"/><circle cx="2027.7" cy="1172.05" r="2.3"/><circle cx="2004.6" cy="1173.32" r="2.3"/><circle cx="2035.4" cy="1173.77" r="2.3"/><circle cx="2016.15" cy="1189.95" r="2.3"/><circle cx="2023.85" cy="1191.69" r="2.3"/><circle cx="2008.45" cy="1192.03" r="2.3"/><circle cx="2031.55" cy="1192.42" r="2.3"/><circle cx="2017.45" cy="1139.67" r="2.3"/><circle cx="2022.55" cy="1140.46" r="2.3"/><circle cx="2012.36" cy="1140.93" r="2.3"/><circle cx="2027.64" cy="1140.94" r="2.3"/><circle cx="2007.27" cy="1141.18" r="2.3"/><circle cx="2032.73" cy="1141.46" r="2.3"/><circle cx="2002.18" cy="1141.95" r="2.3"/><circle cx="2037.82" cy="1142.44" r="2.3"/><circle cx="1997.09" cy="1143.66" r="2.3"/><circle cx="2042.91" cy="1143.96" r="2.3"/><circle cx="1992" cy="1143.98" r="2.3"/><circle cx="2048" cy="1144.1" r="2.3"/><circle cx="2016.15" cy="1137.83" r="2.3"/><circle cx="2023.85" cy="1138.19" r="2.3"/><circle cx="2008.45" cy="1138.28" r="2.3"/><circle cx="2031.55" cy="1138.44" r="2.3"/><circle cx="2000.75" cy="1138.49" r="2.3"/><circle cx="2039.25" cy="1139.3" r="2.3"/><circle cx="2020" cy="1175.23" r="2.3"/><circle cx="2012.3" cy="1178.33" r="2.3"/><circle cx="2027.7" cy="1178.89" r="2.3"/><circle cx="2016.15" cy="1200" r="2.3"/><circle cx="2023.85" cy="1200.86" r="2.3"/><circle cx="2008.45" cy="1201.47" r="2.3"/><circle cx="2031.55" cy="1201.77" r="2.3"/><circle cx="2000.75" cy="1201.89" r="2.3"/><circle cx="2039.25" cy="1202.41" r="2.3"/><circle cx="2016.15" cy="1210.1" r="2.3"/><circle cx="2023.85" cy="1210.29" r="2.3"/><circle cx="2020" cy="1254.54" r="2.3"/><circle cx="2016.15" cy="1241.01" r="2.3"/><circle cx="2023.85" cy="1243.68" r="2.3"/><circle cx="2020" cy="1222.09" r="2.3"/><circle cx="2020" cy="1144.59" r="2.3"/><circle cx="2012.3" cy="1144.77" r="2.3"/><circle cx="2027.7" cy="1145.32" r="2.3"/><circle cx="2004.6" cy="1145.57" r="2.3"/><circle cx="2035.4" cy="1145.65" r="2.3"/><circle cx="1996.9" cy="1146.03" r="2.3"/><circle cx="2043.1" cy="1149.01" r="2.3"/><circle cx="2020" cy="1237.37" r="2.3"/><circle cx="2020" cy="1285.27" r="2.3"/><circle cx="2020" cy="1268.19" r="2.3"/></g>
<line x1="1670.7" y1="1087" x2="1670.7" y2="1476.2" stroke="#000" stroke-width="3.6"/>
<line x1="1664.1" y1="1474.4" x2="2085" y2="1474.4" stroke="#000" stroke-width="3.6"/>
<line x1="1664" y1="1089" x2="1670.7" y2="1089" stroke="#000" stroke-width="3.6"/>
<line x1="1664" y1="1217.5" x2="1670.7" y2="1217.5" stroke="#000" stroke-width="3.6"/>
<line x1="1664" y1="1346" x2="1670.7" y2="1346" stroke="#000" stroke-width="3.6"/>
<line x1="1733.9" y1="1474.4" x2="1733.9" y2="1482.4" stroke="#000" stroke-width="3.6"/>
<line x1="1828.6" y1="1474.4" x2="1828.6" y2="1482.4" stroke="#000" stroke-width="3.6"/>
<line x1="1924.8" y1="1474.4" x2="1924.8" y2="1482.4" stroke="#000" stroke-width="3.6"/>
<line x1="2020" y1="1474.4" x2="2020" y2="1482.4" stroke="#000" stroke-width="3.6"/>
<polyline points="1736.6,1128 1736.6,1118 1829.6,1118 1829.6,1128" fill="none" stroke="#000" stroke-width="3.6" stroke-linejoin="miter"/>
<line x1="110.5" y1="1534.6" x2="110.5" y2="2009.2" stroke="#000" stroke-width="2.2"/>
<line x1="101.6" y1="2008.1" x2="513.8" y2="2008.1" stroke="#000" stroke-width="2.2"/>
<line x1="101.4" y1="1535.7" x2="110.5" y2="1535.7" stroke="#000" stroke-width="2.2"/>
<line x1="101.4" y1="1693.2" x2="110.5" y2="1693.2" stroke="#000" stroke-width="2.2"/>
<line x1="101.4" y1="1850.6" x2="110.5" y2="1850.6" stroke="#000" stroke-width="2.2"/>
<line x1="171.9" y1="2008.1" x2="171.9" y2="2017.1" stroke="#000" stroke-width="2.2"/>
<line x1="265.4" y1="2008.1" x2="265.4" y2="2017.1" stroke="#000" stroke-width="2.2"/>
<line x1="358.6" y1="2008.1" x2="358.6" y2="2017.1" stroke="#000" stroke-width="2.2"/>
<line x1="452.1" y1="2008.1" x2="452.1" y2="2017.1" stroke="#000" stroke-width="2.2"/>
<line x1="171.9" y1="1673.7" x2="171.9" y2="1706.8" stroke="#000" stroke-width="2.5"/>
<line x1="171.9" y1="1760.2" x2="171.9" y2="1808" stroke="#000" stroke-width="2.5"/>
<line x1="155.4" y1="1673.7" x2="188.4" y2="1673.7" stroke="#000" stroke-width="2.5"/>
<line x1="155.4" y1="1808" x2="188.4" y2="1808" stroke="#000" stroke-width="2.5"/>
<rect x="142.25" y="1706.8" width="60.2" height="53.4" fill="none" stroke="#000" stroke-width="2.5"/>
<line x1="142.25" y1="1736.1" x2="202.45" y2="1736.1" stroke="#000" stroke-width="2.5"/>
<line x1="265.4" y1="1672.2" x2="265.4" y2="1709.2" stroke="#000" stroke-width="2.5"/>
<line x1="265.4" y1="1769.4" x2="265.4" y2="1808" stroke="#000" stroke-width="2.5"/>
<line x1="248.9" y1="1672.2" x2="281.9" y2="1672.2" stroke="#000" stroke-width="2.5"/>
<line x1="248.9" y1="1808" x2="281.9" y2="1808" stroke="#000" stroke-width="2.5"/>
<rect x="235.75" y="1709.2" width="59.9" height="60.2" fill="none" stroke="#000" stroke-width="2.5"/>
<line x1="235.75" y1="1736.1" x2="295.65" y2="1736.1" stroke="#000" stroke-width="2.5"/>
<line x1="358.6" y1="1666" x2="358.6" y2="1716.6" stroke="#000" stroke-width="2.5"/>
<line x1="358.6" y1="1770.3" x2="358.6" y2="1805.5" stroke="#000" stroke-width="2.5"/>
<line x1="342.1" y1="1666" x2="375.1" y2="1666" stroke="#000" stroke-width="2.5"/>
<line x1="342.1" y1="1805.5" x2="375.1" y2="1805.5" stroke="#000" stroke-width="2.5"/>
<rect x="328.95" y="1716.6" width="60.2" height="53.7" fill="none" stroke="#000" stroke-width="2.5"/>
<line x1="328.95" y1="1747.8" x2="389.15" y2="1747.8" stroke="#000" stroke-width="2.5"/>
<line x1="452.1" y1="1695" x2="452.1" y2="1741.6" stroke="#000" stroke-width="2.5"/>
<line x1="452.1" y1="1804" x2="452.1" y2="1878" stroke="#000" stroke-width="2.5"/>
<line x1="435.6" y1="1695" x2="468.6" y2="1695" stroke="#000" stroke-width="2.5"/>
<line x1="435.6" y1="1878" x2="468.6" y2="1878" stroke="#000" stroke-width="2.5"/>
<rect x="422.45" y="1741.6" width="59.3" height="62.4" fill="none" stroke="#000" stroke-width="2.5"/>
<line x1="422.45" y1="1754.6" x2="481.75" y2="1754.6" stroke="#000" stroke-width="2.5"/>
<g fill="#a3a3a3"><circle cx="172.3" cy="1673.7" r="4.5"/><circle cx="176.8" cy="1680.47" r="4.5"/><circle cx="167.6" cy="1686.95" r="4.5"/><circle cx="167.6" cy="1696.71" r="4.5"/><circle cx="177.1" cy="1700.7" r="4.5"/><circle cx="177.1" cy="1713.65" r="4.5"/><circle cx="167.6" cy="1719.83" r="4.5"/><circle cx="158.2" cy="1729.89" r="4.5"/><circle cx="186.4" cy="1729.89" r="4.5"/><circle cx="167.6" cy="1733.88" r="4.5"/><circle cx="177.1" cy="1736.07" r="4.5"/><circle cx="162.9" cy="1744.24" r="4.5"/><circle cx="172.3" cy="1750.12" r="4.5"/><circle cx="186.6" cy="1748.42" r="4.5"/><circle cx="162.9" cy="1757.09" r="4.5"/><circle cx="181.6" cy="1756.29" r="4.5"/><circle cx="172.3" cy="1761.97" r="4.5"/><circle cx="172.3" cy="1772.63" r="4.5"/><circle cx="167.6" cy="1778.81" r="4.5"/><circle cx="177.1" cy="1787.78" r="4.5"/><circle cx="172.3" cy="1808" r="4.5"/></g>
<g fill="#12b04a"><circle cx="265.3" cy="1672.2" r="4.5"/><circle cx="265.3" cy="1687.12" r="4.5"/><circle cx="260.8" cy="1695.28" r="4.5"/><circle cx="270" cy="1696.87" r="4.5"/><circle cx="256.3" cy="1709.81" r="4.5"/><circle cx="260.8" cy="1711.5" r="4.5"/><circle cx="270" cy="1709.81" r="4.5"/><circle cx="270.4" cy="1719.95" r="4.5"/><circle cx="256.1" cy="1730" r="4.5"/><circle cx="265.3" cy="1738.46" r="4.5"/><circle cx="274.9" cy="1736.57" r="4.5"/><circle cx="265.3" cy="1758.65" r="4.5"/><circle cx="256.1" cy="1762.73" r="4.5"/><circle cx="265.3" cy="1768.7" r="4.5"/><circle cx="274.9" cy="1768.4" r="4.5"/><circle cx="256.1" cy="1793.38" r="4.5"/><circle cx="265.3" cy="1795.66" r="4.5"/><circle cx="274.9" cy="1793.38" r="4.5"/><circle cx="265.3" cy="1808" r="4.5"/></g>
<g fill="#a3a3a3"><circle cx="358.7" cy="1666" r="4.5"/><circle cx="358.7" cy="1694.92" r="4.5"/><circle cx="358.7" cy="1704.89" r="4.5"/><circle cx="349.1" cy="1712.87" r="4.5"/><circle cx="358.7" cy="1717.15" r="4.5"/><circle cx="368.1" cy="1715.56" r="4.5"/><circle cx="349.1" cy="1727.52" r="4.5"/><circle cx="358.7" cy="1729.92" r="4.5"/><circle cx="368.1" cy="1725.13" r="4.5"/><circle cx="358.7" cy="1742.18" r="4.5"/><circle cx="339.8" cy="1747.96" r="4.5"/><circle cx="377.7" cy="1747.96" r="4.5"/><circle cx="349.1" cy="1752.25" r="4.5"/><circle cx="358.7" cy="1756.04" r="4.5"/><circle cx="368.1" cy="1752.25" r="4.5"/><circle cx="358.7" cy="1766.61" r="4.5"/><circle cx="349.1" cy="1775.19" r="4.5"/><circle cx="368.1" cy="1772.99" r="4.5"/><circle cx="358.7" cy="1781.57" r="4.5"/><circle cx="363.3" cy="1797.82" r="4.5"/><circle cx="354" cy="1805.5" r="4.5"/></g>
<g fill="#12b04a"><circle cx="456.5" cy="1695" r="4.5"/><circle cx="447.1" cy="1703.57" r="4.5"/><circle cx="451.9" cy="1713.74" r="4.5"/><circle cx="447.1" cy="1727.79" r="4.5"/><circle cx="456.5" cy="1725.9" r="4.5"/><circle cx="447.1" cy="1741.45" r="4.5"/><circle cx="456.5" cy="1742.25" r="4.5"/><circle cx="432.7" cy="1746.43" r="4.5"/><circle cx="470.6" cy="1748.92" r="4.5"/><circle cx="442.3" cy="1755" r="4.5"/><circle cx="451.9" cy="1755" r="4.5"/><circle cx="461.2" cy="1755" r="4.5"/><circle cx="451.9" cy="1764.87" r="4.5"/><circle cx="437.5" cy="1778.92" r="4.5"/><circle cx="465.8" cy="1774.14" r="4.5"/><circle cx="447.1" cy="1783.71" r="4.5"/><circle cx="456.5" cy="1781.62" r="4.5"/><circle cx="451.9" cy="1803.44" r="4.5"/><circle cx="456.5" cy="1806.14" r="4.5"/><circle cx="447.1" cy="1814.61" r="4.5"/><circle cx="447.1" cy="1845.51" r="4.5"/><circle cx="456.5" cy="1853.48" r="4.5"/><circle cx="451.9" cy="1878" r="4.5"/></g>
<polyline points="264.5,1623.5 264.5,1614.2 452.7,1614.2 452.7,1623.5" fill="none" stroke="#000" stroke-width="2" stroke-linejoin="miter"/>
<polyline points="361.7,1652.8 361.7,1643.5 452.7,1643.5 452.7,1652.8" fill="none" stroke="#000" stroke-width="2" stroke-linejoin="miter"/>
<line x1="606.8" y1="1528.5" x2="606.8" y2="2002.6" stroke="#000" stroke-width="2.2"/>
<line x1="598.1" y1="2001.5" x2="1010" y2="2001.5" stroke="#000" stroke-width="2.2"/>
<line x1="598.1" y1="1529.5" x2="606.8" y2="1529.5" stroke="#000" stroke-width="2.2"/>
<line x1="598.1" y1="1624" x2="606.8" y2="1624" stroke="#000" stroke-width="2.2"/>
<line x1="598.1" y1="1718.4" x2="606.8" y2="1718.4" stroke="#000" stroke-width="2.2"/>
<line x1="598.1" y1="1812.8" x2="606.8" y2="1812.8" stroke="#000" stroke-width="2.2"/>
<line x1="598.1" y1="1907.2" x2="606.8" y2="1907.2" stroke="#000" stroke-width="2.2"/>
<line x1="668.9" y1="2001.5" x2="668.9" y2="2010.5" stroke="#000" stroke-width="2.2"/>
<line x1="762.1" y1="2001.5" x2="762.1" y2="2010.5" stroke="#000" stroke-width="2.2"/>
<line x1="854.7" y1="2001.5" x2="854.7" y2="2010.5" stroke="#000" stroke-width="2.2"/>
<line x1="948.2" y1="2001.5" x2="948.2" y2="2010.5" stroke="#000" stroke-width="2.2"/>
<line x1="668.9" y1="1714.5" x2="668.9" y2="1746.9" stroke="#000" stroke-width="2.5"/>
<line x1="668.9" y1="1796.9" x2="668.9" y2="1825.6" stroke="#000" stroke-width="2.5"/>
<line x1="652.4" y1="1714.5" x2="685.4" y2="1714.5" stroke="#000" stroke-width="2.5"/>
<line x1="652.4" y1="1825.6" x2="685.4" y2="1825.6" stroke="#000" stroke-width="2.5"/>
<rect x="639.25" y="1746.9" width="59.3" height="50" fill="none" stroke="#000" stroke-width="2.5"/>
<line x1="639.25" y1="1772.8" x2="698.55" y2="1772.8" stroke="#000" stroke-width="2.5"/>
<line x1="762.1" y1="1584.9" x2="762.1" y2="1702.8" stroke="#000" stroke-width="2.5"/>
<line x1="762.1" y1="1791.6" x2="762.1" y2="1841" stroke="#000" stroke-width="2.5"/>
<line x1="745.6" y1="1584.9" x2="778.6" y2="1584.9" stroke="#000" stroke-width="2.5"/>
<line x1="745.6" y1="1841" x2="778.6" y2="1841" stroke="#000" stroke-width="2.5"/>
<rect x="732.55" y="1702.8" width="59.2" height="88.8" fill="none" stroke="#000" stroke-width="2.5"/>
<line x1="732.55" y1="1736.4" x2="791.75" y2="1736.4" stroke="#000" stroke-width="2.5"/>
<line x1="854.7" y1="1677.5" x2="854.7" y2="1719.1" stroke="#000" stroke-width="2.5"/>
<line x1="854.7" y1="1784" x2="854.7" y2="1800.9" stroke="#000" stroke-width="2.5"/>
<line x1="838.2" y1="1677.5" x2="871.2" y2="1677.5" stroke="#000" stroke-width="2.5"/>
<line x1="838.2" y1="1800.9" x2="871.2" y2="1800.9" stroke="#000" stroke-width="2.5"/>
<rect x="825.15" y="1719.1" width="59.2" height="64.9" fill="none" stroke="#000" stroke-width="2.5"/>
<line x1="825.15" y1="1770" x2="884.35" y2="1770" stroke="#000" stroke-width="2.5"/>
<line x1="948.2" y1="1705.2" x2="948.2" y2="1723.7" stroke="#000" stroke-width="2.5"/>
<line x1="948.2" y1="1797.8" x2="948.2" y2="1881.1" stroke="#000" stroke-width="2.5"/>
<line x1="931.7" y1="1705.2" x2="964.7" y2="1705.2" stroke="#000" stroke-width="2.5"/>
<line x1="931.7" y1="1881.1" x2="964.7" y2="1881.1" stroke="#000" stroke-width="2.5"/>
<rect x="918.65" y="1723.7" width="59.2" height="74.1" fill="none" stroke="#000" stroke-width="2.5"/>
<line x1="918.65" y1="1763.9" x2="977.85" y2="1763.9" stroke="#000" stroke-width="2.5"/>
<g fill="#a3a3a3"><circle cx="668.8" cy="1714.5" r="4.5"/><circle cx="668.8" cy="1733.3" r="4.5"/><circle cx="654.6" cy="1739.3" r="4.5"/><circle cx="664" cy="1745.3" r="4.5"/><circle cx="673.4" cy="1748.5" r="4.5"/><circle cx="682.9" cy="1742.5" r="4.5"/><circle cx="654.6" cy="1763.9" r="4.5"/><circle cx="664" cy="1760.4" r="4.5"/><circle cx="673.4" cy="1760.4" r="4.5"/><circle cx="682.9" cy="1767" r="4.5"/><circle cx="664" cy="1773" r="4.5"/><circle cx="673.4" cy="1773" r="4.5"/><circle cx="649.8" cy="1788.1" r="4.5"/><circle cx="673.4" cy="1788.7" r="4.5"/><circle cx="682.9" cy="1785.3" r="4.5"/><circle cx="659.2" cy="1795" r="4.5"/><circle cx="664" cy="1797.6" r="4.5"/><circle cx="673.4" cy="1807" r="4.5"/><circle cx="659.2" cy="1819.3" r="4.5"/><circle cx="668.8" cy="1825.6" r="4.5"/><circle cx="678.2" cy="1825.6" r="4.5"/></g>
<g fill="#12b04a"><circle cx="761.8" cy="1584.9" r="4.5"/><circle cx="761.8" cy="1677.99" r="4.5"/><circle cx="757.2" cy="1687.52" r="4.5"/><circle cx="766.6" cy="1696.55" r="4.5"/><circle cx="752.4" cy="1702.87" r="4.5"/><circle cx="761.8" cy="1708.99" r="4.5"/><circle cx="771.3" cy="1705.78" r="4.5"/><circle cx="757.2" cy="1718.42" r="4.5"/><circle cx="766.6" cy="1724.74" r="4.5"/><circle cx="761.8" cy="1737.18" r="4.5"/><circle cx="761.8" cy="1752.52" r="4.5"/><circle cx="761.8" cy="1773.99" r="4.5"/><circle cx="757.2" cy="1786.03" r="4.5"/><circle cx="766.6" cy="1786.03" r="4.5"/><circle cx="752.4" cy="1792.05" r="4.5"/><circle cx="771.3" cy="1795.46" r="4.5"/><circle cx="761.8" cy="1801.48" r="4.5"/><circle cx="761.8" cy="1823.24" r="4.5"/><circle cx="761.8" cy="1841" r="4.5"/></g>
<g fill="#a3a3a3"><circle cx="855" cy="1677.5" r="4.5"/><circle cx="855" cy="1699.03" r="4.5"/><circle cx="850.3" cy="1705.24" r="4.5"/><circle cx="864.3" cy="1711.46" r="4.5"/><circle cx="859.7" cy="1714.06" r="4.5"/><circle cx="850.3" cy="1723.98" r="4.5"/><circle cx="864.3" cy="1732.99" r="4.5"/><circle cx="845.3" cy="1739.6" r="4.5"/><circle cx="855" cy="1742.2" r="4.5"/><circle cx="836.3" cy="1769.75" r="4.5"/><circle cx="869" cy="1766.94" r="4.5"/><circle cx="841" cy="1775.96" r="4.5"/><circle cx="845.3" cy="1774.36" r="4.5"/><circle cx="859.7" cy="1773.36" r="4.5"/><circle cx="873.7" cy="1779.57" r="4.5"/><circle cx="850.3" cy="1782.77" r="4.5"/><circle cx="864.3" cy="1785.88" r="4.5"/><circle cx="869" cy="1791.58" r="4.5"/><circle cx="841" cy="1794.69" r="4.5"/><circle cx="859.7" cy="1795.19" r="4.5"/><circle cx="850.3" cy="1800.9" r="4.5"/></g>
<g fill="#12b04a"><circle cx="943.3" cy="1705.2" r="4.5"/><circle cx="952.6" cy="1705.2" r="4.5"/><circle cx="947.9" cy="1717.63" r="4.5"/><circle cx="924.6" cy="1723.94" r="4.5"/><circle cx="933.9" cy="1727.05" r="4.5"/><circle cx="952.6" cy="1727.05" r="4.5"/><circle cx="962" cy="1723.94" r="4.5"/><circle cx="971.3" cy="1723.94" r="4.5"/><circle cx="943.3" cy="1733.26" r="4.5"/><circle cx="947.9" cy="1745.29" r="4.5"/><circle cx="962" cy="1757.72" r="4.5"/><circle cx="933.9" cy="1764.03" r="4.5"/><circle cx="952.6" cy="1764.03" r="4.5"/><circle cx="943.3" cy="1767.64" r="4.5"/><circle cx="938.6" cy="1776.46" r="4.5"/><circle cx="957.5" cy="1776.46" r="4.5"/><circle cx="947.9" cy="1782.78" r="4.5"/><circle cx="938.6" cy="1797.81" r="4.5"/><circle cx="957.5" cy="1804.43" r="4.5"/><circle cx="947.9" cy="1807.53" r="4.5"/><circle cx="947.9" cy="1859.75" r="4.5"/><circle cx="943.3" cy="1881.1" r="4.5"/><circle cx="952.6" cy="1881.1" r="4.5"/></g>
<polyline points="671.1,1569.4 671.1,1560.8 762.1,1560.8 762.1,1569.4" fill="none" stroke="#000" stroke-width="2" stroke-linejoin="miter"/>
<line x1="1103.5" y1="1530.8" x2="1103.5" y2="2004.3" stroke="#000" stroke-width="2.2"/>
<line x1="1095" y1="2003.2" x2="1505.8" y2="2003.2" stroke="#000" stroke-width="2.2"/>
<line x1="1095" y1="1531.9" x2="1103.5" y2="1531.9" stroke="#000" stroke-width="2.2"/>
<line x1="1095" y1="1649.7" x2="1103.5" y2="1649.7" stroke="#000" stroke-width="2.2"/>
<line x1="1095" y1="1767.5" x2="1103.5" y2="1767.5" stroke="#000" stroke-width="2.2"/>
<line x1="1095" y1="1885.4" x2="1103.5" y2="1885.4" stroke="#000" stroke-width="2.2"/>
<line x1="1165.2" y1="2003.2" x2="1165.2" y2="2012.2" stroke="#000" stroke-width="2.2"/>
<line x1="1258.3" y1="2003.2" x2="1258.3" y2="2012.2" stroke="#000" stroke-width="2.2"/>
<line x1="1351.3" y1="2003.2" x2="1351.3" y2="2012.2" stroke="#000" stroke-width="2.2"/>
<line x1="1444.4" y1="2003.2" x2="1444.4" y2="2012.2" stroke="#000" stroke-width="2.2"/>
<line x1="1165.2" y1="1642.9" x2="1165.2" y2="1714.4" stroke="#000" stroke-width="2.5"/>
<line x1="1165.2" y1="1812.4" x2="1165.2" y2="1867.9" stroke="#000" stroke-width="2.5"/>
<line x1="1148.7" y1="1642.9" x2="1181.7" y2="1642.9" stroke="#000" stroke-width="2.5"/>
<line x1="1148.7" y1="1867.9" x2="1181.7" y2="1867.9" stroke="#000" stroke-width="2.5"/>
<rect x="1135.25" y="1714.4" width="59.6" height="98" fill="none" stroke="#000" stroke-width="2.5"/>
<line x1="1135.25" y1="1778.2" x2="1194.85" y2="1778.2" stroke="#000" stroke-width="2.5"/>
<line x1="1258.3" y1="1665.2" x2="1258.3" y2="1743.6" stroke="#000" stroke-width="2.5"/>
<line x1="1258.3" y1="1841.6" x2="1258.3" y2="1919.7" stroke="#000" stroke-width="2.5"/>
<line x1="1241.8" y1="1665.2" x2="1274.8" y2="1665.2" stroke="#000" stroke-width="2.5"/>
<line x1="1241.8" y1="1919.7" x2="1274.8" y2="1919.7" stroke="#000" stroke-width="2.5"/>
<rect x="1228.25" y="1743.6" width="59.7" height="98" fill="none" stroke="#000" stroke-width="2.5"/>
<line x1="1228.25" y1="1794.8" x2="1287.95" y2="1794.8" stroke="#000" stroke-width="2.5"/>
<line x1="1351.3" y1="1683.1" x2="1351.3" y2="1787.8" stroke="#000" stroke-width="2.5"/>
<line x1="1351.3" y1="1856" x2="1351.3" y2="1935.7" stroke="#000" stroke-width="2.5"/>
<line x1="1334.8" y1="1683.1" x2="1367.8" y2="1683.1" stroke="#000" stroke-width="2.5"/>
<line x1="1334.8" y1="1935.7" x2="1367.8" y2="1935.7" stroke="#000" stroke-width="2.5"/>
<rect x="1321.25" y="1787.8" width="59.7" height="68.2" fill="none" stroke="#000" stroke-width="2.5"/>
<line x1="1321.25" y1="1827.3" x2="1380.95" y2="1827.3" stroke="#000" stroke-width="2.5"/>
<line x1="1444.4" y1="1712" x2="1444.4" y2="1783.1" stroke="#000" stroke-width="2.5"/>
<line x1="1444.4" y1="1882.8" x2="1444.4" y2="1928" stroke="#000" stroke-width="2.5"/>
<line x1="1427.9" y1="1712" x2="1460.9" y2="1712" stroke="#000" stroke-width="2.5"/>
<line x1="1427.9" y1="1928" x2="1460.9" y2="1928" stroke="#000" stroke-width="2.5"/>
<rect x="1414.35" y="1783.1" width="59.7" height="99.7" fill="none" stroke="#000" stroke-width="2.5"/>
<line x1="1414.35" y1="1855" x2="1474.05" y2="1855" stroke="#000" stroke-width="2.5"/>
<g fill="#a3a3a3"><circle cx="1165.1" cy="1642.9" r="4.5"/><circle cx="1160.4" cy="1654.62" r="4.5"/><circle cx="1169.6" cy="1662.23" r="4.5"/><circle cx="1169.6" cy="1687.68" r="4.5"/><circle cx="1160.4" cy="1695.89" r="4.5"/><circle cx="1165.1" cy="1733.06" r="4.5"/><circle cx="1165.1" cy="1752.39" r="4.5"/><circle cx="1160.4" cy="1757.2" r="4.5"/><circle cx="1174.7" cy="1766.42" r="4.5"/><circle cx="1169.6" cy="1773.63" r="4.5"/><circle cx="1160.4" cy="1778.54" r="4.5"/><circle cx="1174.7" cy="1783.75" r="4.5"/><circle cx="1155.5" cy="1788.16" r="4.5"/><circle cx="1165.1" cy="1790.16" r="4.5"/><circle cx="1165.1" cy="1802.58" r="4.5"/><circle cx="1160.4" cy="1810.1" r="4.5"/><circle cx="1169.6" cy="1814.3" r="4.5"/><circle cx="1160.4" cy="1834.24" r="4.5"/><circle cx="1169.6" cy="1831.84" r="4.5"/><circle cx="1165.1" cy="1847.96" r="4.5"/><circle cx="1165.1" cy="1867.9" r="4.5"/></g>
<g fill="#12b04a"><circle cx="1258" cy="1665.2" r="4.5"/><circle cx="1248.6" cy="1716.33" r="4.5"/><circle cx="1258" cy="1722.37" r="4.5"/><circle cx="1267.9" cy="1722.37" r="4.5"/><circle cx="1253.4" cy="1741.07" r="4.5"/><circle cx="1263" cy="1749.16" r="4.5"/><circle cx="1258" cy="1778.57" r="4.5"/><circle cx="1243.8" cy="1788.31" r="4.5"/><circle cx="1253.4" cy="1791.91" r="4.5"/><circle cx="1263" cy="1795.91" r="4.5"/><circle cx="1272.7" cy="1791.04" r="4.5"/><circle cx="1258" cy="1812.66" r="4.5"/><circle cx="1253.4" cy="1818.7" r="4.5"/><circle cx="1263" cy="1824.06" r="4.5"/><circle cx="1248.6" cy="1838.08" r="4.5"/><circle cx="1263" cy="1836.72" r="4.5"/><circle cx="1253.4" cy="1847.43" r="4.5"/><circle cx="1263" cy="1849.48" r="4.5"/><circle cx="1258" cy="1919.7" r="4.5"/></g>
<g fill="#a3a3a3"><circle cx="1351" cy="1683.1" r="4.5"/><circle cx="1355.9" cy="1754.53" r="4.5"/><circle cx="1346.5" cy="1761.93" r="4.5"/><circle cx="1346.5" cy="1780.54" r="4.5"/><circle cx="1355.9" cy="1780.94" r="4.5"/><circle cx="1355.9" cy="1793.74" r="4.5"/><circle cx="1346.5" cy="1801.05" r="4.5"/><circle cx="1351" cy="1814.55" r="4.5"/><circle cx="1336.9" cy="1819.65" r="4.5"/><circle cx="1365.1" cy="1819.65" r="4.5"/><circle cx="1346.5" cy="1827.96" r="4.5"/><circle cx="1355.9" cy="1827.36" r="4.5"/><circle cx="1346.5" cy="1841.16" r="4.5"/><circle cx="1355.9" cy="1843.36" r="4.5"/><circle cx="1341.8" cy="1850.47" r="4.5"/><circle cx="1360.6" cy="1852.37" r="4.5"/><circle cx="1351" cy="1858.77" r="4.5"/><circle cx="1351" cy="1874.78" r="4.5"/><circle cx="1351" cy="1887.58" r="4.5"/><circle cx="1351" cy="1922.89" r="4.5"/><circle cx="1351" cy="1935.7" r="4.5"/></g>
<g fill="#12b04a"><circle cx="1444" cy="1712" r="4.5"/><circle cx="1444" cy="1733.86" r="4.5"/><circle cx="1444" cy="1768.86" r="4.5"/><circle cx="1429.9" cy="1781.19" r="4.5"/><circle cx="1439.5" cy="1787.81" r="4.5"/><circle cx="1448.7" cy="1783" r="4.5"/><circle cx="1458.1" cy="1780.79" r="4.5"/><circle cx="1444" cy="1826.22" r="4.5"/><circle cx="1444" cy="1841.86" r="4.5"/><circle cx="1439.5" cy="1846.37" r="4.5"/><circle cx="1453.6" cy="1850.89" r="4.5"/><circle cx="1458.1" cy="1854.7" r="4.5"/><circle cx="1429.9" cy="1857" r="4.5"/><circle cx="1448.7" cy="1859.81" r="4.5"/><circle cx="1439.5" cy="1863.72" r="4.5"/><circle cx="1429.9" cy="1879.77" r="4.5"/><circle cx="1434.4" cy="1882.97" r="4.5"/><circle cx="1444" cy="1882.97" r="4.5"/><circle cx="1453.6" cy="1885.58" r="4.5"/><circle cx="1458.1" cy="1878.46" r="4.5"/><circle cx="1444" cy="1893.3" r="4.5"/><circle cx="1444" cy="1905.54" r="4.5"/><circle cx="1444" cy="1928" r="4.5"/></g>
<polyline points="1260.9,1594.7 1260.9,1586.4 1445.4,1586.4 1445.4,1594.7" fill="none" stroke="#000" stroke-width="2" stroke-linejoin="miter"/>
<polyline points="1165.2,1628 1165.2,1619.6 1352.3,1619.6 1352.3,1628" fill="none" stroke="#000" stroke-width="2" stroke-linejoin="miter"/>
<line x1="121" y1="2130" x2="121" y2="2622.95" stroke="#000" stroke-width="2.3"/>
<line x1="112" y1="2621.8" x2="520" y2="2621.8" stroke="#000" stroke-width="2.3"/>
<line x1="112" y1="2130.9" x2="121" y2="2130.9" stroke="#000" stroke-width="2.3"/>
<line x1="112" y1="2294.5" x2="121" y2="2294.5" stroke="#000" stroke-width="2.3"/>
<line x1="112" y1="2457.1" x2="121" y2="2457.1" stroke="#000" stroke-width="2.3"/>
<line x1="183.6" y1="2621.8" x2="183.6" y2="2630.8" stroke="#000" stroke-width="2.3"/>
<line x1="276.2" y1="2621.8" x2="276.2" y2="2630.8" stroke="#000" stroke-width="2.3"/>
<line x1="369.7" y1="2621.8" x2="369.7" y2="2630.8" stroke="#000" stroke-width="2.3"/>
<line x1="462.9" y1="2621.8" x2="462.9" y2="2630.8" stroke="#000" stroke-width="2.3"/>
<line x1="183.6" y1="2318.2" x2="183.6" y2="2338.6" stroke="#000" stroke-width="2.6"/>
<line x1="183.6" y1="2370" x2="183.6" y2="2457.1" stroke="#000" stroke-width="2.6"/>
<line x1="167.1" y1="2318.2" x2="200.1" y2="2318.2" stroke="#000" stroke-width="2.6"/>
<line x1="167.1" y1="2457.1" x2="200.1" y2="2457.1" stroke="#000" stroke-width="2.6"/>
<rect x="155" y="2338.6" width="56.7" height="31.4" fill="none" stroke="#000" stroke-width="2.6"/>
<line x1="155" y1="2360.8" x2="211.7" y2="2360.8" stroke="#000" stroke-width="2.6"/>
<line x1="276.2" y1="2275" x2="276.2" y2="2320.7" stroke="#000" stroke-width="2.6"/>
<line x1="276.2" y1="2367.6" x2="276.2" y2="2404" stroke="#000" stroke-width="2.6"/>
<line x1="259.7" y1="2275" x2="292.7" y2="2275" stroke="#000" stroke-width="2.6"/>
<line x1="259.7" y1="2404" x2="292.7" y2="2404" stroke="#000" stroke-width="2.6"/>
<rect x="248.2" y="2320.7" width="56.6" height="46.9" fill="none" stroke="#000" stroke-width="2.6"/>
<line x1="248.2" y1="2352.5" x2="304.8" y2="2352.5" stroke="#000" stroke-width="2.6"/>
<line x1="369.7" y1="2331" x2="369.7" y2="2349.4" stroke="#000" stroke-width="2.6"/>
<line x1="369.7" y1="2385.5" x2="369.7" y2="2414.8" stroke="#000" stroke-width="2.6"/>
<line x1="353.2" y1="2331" x2="386.2" y2="2331" stroke="#000" stroke-width="2.6"/>
<line x1="353.2" y1="2414.8" x2="386.2" y2="2414.8" stroke="#000" stroke-width="2.6"/>
<rect x="341.4" y="2349.4" width="56.9" height="36.1" fill="none" stroke="#000" stroke-width="2.6"/>
<line x1="341.4" y1="2369.5" x2="398.3" y2="2369.5" stroke="#000" stroke-width="2.6"/>
<line x1="462.9" y1="2307.8" x2="462.9" y2="2346.3" stroke="#000" stroke-width="2.6"/>
<line x1="462.9" y1="2380.9" x2="462.9" y2="2416.4" stroke="#000" stroke-width="2.6"/>
<line x1="446.4" y1="2307.8" x2="479.4" y2="2307.8" stroke="#000" stroke-width="2.6"/>
<line x1="446.4" y1="2416.4" x2="479.4" y2="2416.4" stroke="#000" stroke-width="2.6"/>
<rect x="434.9" y="2346.3" width="56" height="34.6" fill="none" stroke="#000" stroke-width="2.6"/>
<line x1="434.9" y1="2356.8" x2="490.9" y2="2356.8" stroke="#000" stroke-width="2.6"/>
<g fill="#a3a3a3"><circle cx="177.6" cy="2320.8" r="3.2"/><circle cx="188.6" cy="2318.2" r="3.2"/><circle cx="188.6" cy="2327" r="3.2"/><circle cx="199.8" cy="2328.9" r="3.2"/><circle cx="166.2" cy="2333.5" r="3.2"/><circle cx="188.6" cy="2337.7" r="3.2"/><circle cx="199.8" cy="2335.6" r="3.2"/><circle cx="166.2" cy="2346.3" r="3.2"/><circle cx="177.6" cy="2350.8" r="3.2"/><circle cx="188.6" cy="2346.3" r="3.2"/><circle cx="199.8" cy="2348.1" r="3.2"/><circle cx="166.2" cy="2359.1" r="3.2"/><circle cx="155.5" cy="2361.2" r="3.2"/><circle cx="211" cy="2360.9" r="3.2"/><circle cx="177.6" cy="2365.2" r="3.2"/><circle cx="188.6" cy="2363.4" r="3.2"/><circle cx="211" cy="2367.9" r="3.2"/><circle cx="166.2" cy="2369.8" r="3.2"/><circle cx="199.8" cy="2369.8" r="3.2"/><circle cx="155.5" cy="2371.9" r="3.2"/><circle cx="188.6" cy="2371.9" r="3.2"/><circle cx="166.2" cy="2384.7" r="3.2"/><circle cx="177.6" cy="2386.9" r="3.2"/><circle cx="188.6" cy="2382.6" r="3.2"/><circle cx="199.8" cy="2382.6" r="3.2"/><circle cx="183.3" cy="2395.6" r="3.2"/><circle cx="183.3" cy="2457.1" r="3.2"/></g>
<g fill="#1b80c0"><circle cx="276.5" cy="2275" r="3.2"/><circle cx="276.5" cy="2292.41" r="3.2"/><circle cx="282.9" cy="2311.73" r="3.2"/><circle cx="257" cy="2317.97" r="3.2"/><circle cx="296.2" cy="2317.97" r="3.2"/><circle cx="270.1" cy="2323" r="3.2"/><circle cx="257" cy="2345.94" r="3.2"/><circle cx="270.1" cy="2343.73" r="3.2"/><circle cx="296.2" cy="2350.17" r="3.2"/><circle cx="270.1" cy="2352.58" r="3.2"/><circle cx="282.9" cy="2352.58" r="3.2"/><circle cx="257" cy="2354.49" r="3.2"/><circle cx="257" cy="2360.93" r="3.2"/><circle cx="282.9" cy="2367.07" r="3.2"/><circle cx="296.2" cy="2365.46" r="3.2"/><circle cx="257" cy="2369.59" r="3.2"/><circle cx="282.9" cy="2373.91" r="3.2"/><circle cx="270.1" cy="2376.03" r="3.2"/><circle cx="276.5" cy="2392.93" r="3.2"/><circle cx="276.5" cy="2404" r="3.2"/></g>
<g fill="#a3a3a3"><circle cx="369.7" cy="2331" r="3.2"/><circle cx="341.6" cy="2345.39" r="3.2"/><circle cx="355.4" cy="2343.88" r="3.2"/><circle cx="397.1" cy="2339.25" r="3.2"/><circle cx="397.1" cy="2346.09" r="3.2"/><circle cx="383.2" cy="2348.2" r="3.2"/><circle cx="369.7" cy="2360.78" r="3.2"/><circle cx="383.2" cy="2358.97" r="3.2"/><circle cx="341.6" cy="2365.41" r="3.2"/><circle cx="355.4" cy="2369.33" r="3.2"/><circle cx="369.7" cy="2369.73" r="3.2"/><circle cx="383.2" cy="2369.33" r="3.2"/><circle cx="397.1" cy="2367.52" r="3.2"/><circle cx="355.4" cy="2376.17" r="3.2"/><circle cx="369.7" cy="2382.31" r="3.2"/><circle cx="397.1" cy="2380.39" r="3.2"/><circle cx="355.4" cy="2386.93" r="3.2"/><circle cx="383.2" cy="2386.93" r="3.2"/><circle cx="369.7" cy="2393.37" r="3.2"/><circle cx="362.2" cy="2404.04" r="3.2"/><circle cx="376.3" cy="2404.04" r="3.2"/><circle cx="369.7" cy="2414.8" r="3.2"/></g>
<g fill="#1b80c0"><circle cx="455.3" cy="2309.89" r="3.2"/><circle cx="469.7" cy="2307.8" r="3.2"/><circle cx="462.8" cy="2316.37" r="3.2"/><circle cx="462.8" cy="2331.21" r="3.2"/><circle cx="434.5" cy="2348.45" r="3.2"/><circle cx="448.7" cy="2346.16" r="3.2"/><circle cx="462.8" cy="2346.16" r="3.2"/><circle cx="476.7" cy="2343.67" r="3.2"/><circle cx="490.6" cy="2350.04" r="3.2"/><circle cx="448.7" cy="2356.72" r="3.2"/><circle cx="462.8" cy="2354.33" r="3.2"/><circle cx="476.7" cy="2356.72" r="3.2"/><circle cx="455.3" cy="2365.49" r="3.2"/><circle cx="469.7" cy="2369.57" r="3.2"/><circle cx="462.8" cy="2377.74" r="3.2"/><circle cx="448.7" cy="2382.52" r="3.2"/><circle cx="476.7" cy="2382.03" r="3.2"/><circle cx="462.8" cy="2386.21" r="3.2"/><circle cx="462.8" cy="2399.06" r="3.2"/><circle cx="469.7" cy="2410.02" r="3.2"/><circle cx="455.3" cy="2416.4" r="3.2"/></g>
<line x1="608.2" y1="2129" x2="608.2" y2="2623.45" stroke="#000" stroke-width="2.3"/>
<line x1="598.9" y1="2622.3" x2="1013.6" y2="2622.3" stroke="#000" stroke-width="2.3"/>
<line x1="598.9" y1="2130" x2="608.2" y2="2130" stroke="#000" stroke-width="2.3"/>
<line x1="598.9" y1="2252.8" x2="608.2" y2="2252.8" stroke="#000" stroke-width="2.3"/>
<line x1="598.9" y1="2375.6" x2="608.2" y2="2375.6" stroke="#000" stroke-width="2.3"/>
<line x1="598.9" y1="2499" x2="608.2" y2="2499" stroke="#000" stroke-width="2.3"/>
<line x1="670.5" y1="2622.3" x2="670.5" y2="2631.3" stroke="#000" stroke-width="2.3"/>
<line x1="763.7" y1="2622.3" x2="763.7" y2="2631.3" stroke="#000" stroke-width="2.3"/>
<line x1="857.8" y1="2622.3" x2="857.8" y2="2631.3" stroke="#000" stroke-width="2.3"/>
<line x1="950.7" y1="2622.3" x2="950.7" y2="2631.3" stroke="#000" stroke-width="2.3"/>
<line x1="670.5" y1="2276.3" x2="670.5" y2="2322.3" stroke="#000" stroke-width="2.6"/>
<line x1="670.5" y1="2359.9" x2="670.5" y2="2417.3" stroke="#000" stroke-width="2.6"/>
<line x1="654" y1="2276.3" x2="687" y2="2276.3" stroke="#000" stroke-width="2.6"/>
<line x1="654" y1="2417.3" x2="687" y2="2417.3" stroke="#000" stroke-width="2.6"/>
<rect x="641.8" y="2322.3" width="57.3" height="37.6" fill="none" stroke="#000" stroke-width="2.6"/>
<line x1="641.8" y1="2341.1" x2="699.1" y2="2341.1" stroke="#000" stroke-width="2.6"/>
<line x1="763.7" y1="2196" x2="763.7" y2="2309" stroke="#000" stroke-width="2.6"/>
<line x1="763.7" y1="2357.8" x2="763.7" y2="2388" stroke="#000" stroke-width="2.6"/>
<line x1="747.2" y1="2196" x2="780.2" y2="2196" stroke="#000" stroke-width="2.6"/>
<line x1="747.2" y1="2388" x2="780.2" y2="2388" stroke="#000" stroke-width="2.6"/>
<rect x="735.7" y="2309" width="56.9" height="48.8" fill="none" stroke="#000" stroke-width="2.6"/>
<line x1="735.7" y1="2338.6" x2="792.6" y2="2338.6" stroke="#000" stroke-width="2.6"/>
<line x1="857.8" y1="2264.5" x2="857.8" y2="2334.6" stroke="#000" stroke-width="2.6"/>
<line x1="857.8" y1="2357.8" x2="857.8" y2="2381.5" stroke="#000" stroke-width="2.6"/>
<line x1="841.3" y1="2264.5" x2="874.3" y2="2264.5" stroke="#000" stroke-width="2.6"/>
<line x1="841.3" y1="2381.5" x2="874.3" y2="2381.5" stroke="#000" stroke-width="2.6"/>
<rect x="829.2" y="2334.6" width="56.6" height="23.2" fill="none" stroke="#000" stroke-width="2.6"/>
<line x1="829.2" y1="2344.8" x2="885.8" y2="2344.8" stroke="#000" stroke-width="2.6"/>
<line x1="950.7" y1="2240.5" x2="950.7" y2="2296" stroke="#000" stroke-width="2.6"/>
<line x1="950.7" y1="2331.5" x2="950.7" y2="2381.5" stroke="#000" stroke-width="2.6"/>
<line x1="934.2" y1="2240.5" x2="967.2" y2="2240.5" stroke="#000" stroke-width="2.6"/>
<line x1="934.2" y1="2381.5" x2="967.2" y2="2381.5" stroke="#000" stroke-width="2.6"/>
<rect x="922.7" y="2296" width="56.6" height="35.5" fill="none" stroke="#000" stroke-width="2.6"/>
<line x1="922.7" y1="2320.7" x2="979.3" y2="2320.7" stroke="#000" stroke-width="2.6"/>
<g fill="#a3a3a3"><circle cx="670.6" cy="2276.3" r="3.2"/><circle cx="661.2" cy="2284.24" r="3.2"/><circle cx="670.6" cy="2288.36" r="3.2"/><circle cx="670.6" cy="2296.6" r="3.2"/><circle cx="670.6" cy="2304.54" r="3.2"/><circle cx="670.6" cy="2316.4" r="3.2"/><circle cx="679.9" cy="2320.82" r="3.2"/><circle cx="661.2" cy="2325.14" r="3.2"/><circle cx="698.4" cy="2337.2" r="3.2"/><circle cx="642.6" cy="2341.12" r="3.2"/><circle cx="651.9" cy="2341.12" r="3.2"/><circle cx="661.2" cy="2341.12" r="3.2"/><circle cx="679.9" cy="2341.12" r="3.2"/><circle cx="689.2" cy="2341.12" r="3.2"/><circle cx="670.6" cy="2345.14" r="3.2"/><circle cx="698.4" cy="2345.14" r="3.2"/><circle cx="661.2" cy="2352.98" r="3.2"/><circle cx="679.9" cy="2352.98" r="3.2"/><circle cx="689.2" cy="2352.98" r="3.2"/><circle cx="651.9" cy="2356.9" r="3.2"/><circle cx="670.6" cy="2361.42" r="3.2"/><circle cx="679.9" cy="2361.42" r="3.2"/><circle cx="670.6" cy="2385.14" r="3.2"/><circle cx="661.2" cy="2389.06" r="3.2"/><circle cx="679.9" cy="2389.06" r="3.2"/><circle cx="670.6" cy="2392.98" r="3.2"/><circle cx="670.6" cy="2417.3" r="3.2"/></g>
<g fill="#1b80c0"><circle cx="764" cy="2196" r="3.2"/><circle cx="764" cy="2251.93" r="3.2"/><circle cx="764" cy="2292.4" r="3.2"/><circle cx="757.3" cy="2303.07" r="3.2"/><circle cx="770.4" cy="2303.07" r="3.2"/><circle cx="764" cy="2315.93" r="3.2"/><circle cx="757.3" cy="2324.3" r="3.2"/><circle cx="770.4" cy="2324.3" r="3.2"/><circle cx="764" cy="2335.96" r="3.2"/><circle cx="777.1" cy="2335.96" r="3.2"/><circle cx="750.6" cy="2340.45" r="3.2"/><circle cx="744.2" cy="2348.32" r="3.2"/><circle cx="770.4" cy="2348.32" r="3.2"/><circle cx="783.9" cy="2348.32" r="3.2"/><circle cx="757.3" cy="2352.21" r="3.2"/><circle cx="764" cy="2360.59" r="3.2"/><circle cx="764" cy="2368.46" r="3.2"/><circle cx="757.3" cy="2379.63" r="3.2"/><circle cx="770.4" cy="2384.11" r="3.2"/><circle cx="757.3" cy="2388" r="3.2"/></g>
<g fill="#a3a3a3"><circle cx="857.5" cy="2264.5" r="3.2"/><circle cx="857.5" cy="2288.9" r="3.2"/><circle cx="857.5" cy="2304.6" r="3.2"/><circle cx="857.5" cy="2320.9" r="3.2"/><circle cx="836.4" cy="2332.4" r="3.2"/><circle cx="850.3" cy="2332.4" r="3.2"/><circle cx="864.4" cy="2332.4" r="3.2"/><circle cx="878.2" cy="2332.4" r="3.2"/><circle cx="843.3" cy="2340.4" r="3.2"/><circle cx="857.5" cy="2340.4" r="3.2"/><circle cx="829.4" cy="2344.6" r="3.2"/><circle cx="871.4" cy="2344.4" r="3.2"/><circle cx="885.5" cy="2344.6" r="3.2"/><circle cx="857.5" cy="2348.9" r="3.2"/><circle cx="871.4" cy="2352.7" r="3.2"/><circle cx="843.3" cy="2356.6" r="3.2"/><circle cx="857.5" cy="2356.6" r="3.2"/><circle cx="843.3" cy="2364.7" r="3.2"/><circle cx="857.5" cy="2364.7" r="3.2"/><circle cx="871.4" cy="2368.7" r="3.2"/><circle cx="857.5" cy="2373" r="3.2"/><circle cx="857.5" cy="2381.5" r="3.2"/></g>
<g fill="#1b80c0"><circle cx="950.9" cy="2240.5" r="3.2"/><circle cx="950.9" cy="2268.36" r="3.2"/><circle cx="950.9" cy="2276.88" r="3.2"/><circle cx="943.7" cy="2288.7" r="3.2"/><circle cx="958" cy="2288.7" r="3.2"/><circle cx="936.8" cy="2300.73" r="3.2"/><circle cx="950.9" cy="2304.74" r="3.2"/><circle cx="965.1" cy="2312.75" r="3.2"/><circle cx="936.8" cy="2316.86" r="3.2"/><circle cx="965.1" cy="2320.77" r="3.2"/><circle cx="979" cy="2320.77" r="3.2"/><circle cx="922.9" cy="2324.78" r="3.2"/><circle cx="936.8" cy="2324.78" r="3.2"/><circle cx="950.9" cy="2324.78" r="3.2"/><circle cx="979" cy="2328.79" r="3.2"/><circle cx="936.8" cy="2333.1" r="3.2"/><circle cx="965.1" cy="2333.1" r="3.2"/><circle cx="950.9" cy="2348.93" r="3.2"/><circle cx="950.9" cy="2357.15" r="3.2"/><circle cx="958" cy="2376.99" r="3.2"/><circle cx="943.7" cy="2381.5" r="3.2"/></g>
<line x1="1118.2" y1="2129" x2="1118.2" y2="2622.35" stroke="#000" stroke-width="2.3"/>
<line x1="1109.3" y1="2621.2" x2="1521.8" y2="2621.2" stroke="#000" stroke-width="2.3"/>
<line x1="1109.3" y1="2129.8" x2="1118.2" y2="2129.8" stroke="#000" stroke-width="2.3"/>
<line x1="1109.3" y1="2227.9" x2="1118.2" y2="2227.9" stroke="#000" stroke-width="2.3"/>
<line x1="1109.3" y1="2326.6" x2="1118.2" y2="2326.6" stroke="#000" stroke-width="2.3"/>
<line x1="1109.3" y1="2424.6" x2="1118.2" y2="2424.6" stroke="#000" stroke-width="2.3"/>
<line x1="1109.3" y1="2523" x2="1118.2" y2="2523" stroke="#000" stroke-width="2.3"/>
<line x1="1180.5" y1="2621.2" x2="1180.5" y2="2630.2" stroke="#000" stroke-width="2.3"/>
<line x1="1273.5" y1="2621.2" x2="1273.5" y2="2630.2" stroke="#000" stroke-width="2.3"/>
<line x1="1367.3" y1="2621.2" x2="1367.3" y2="2630.2" stroke="#000" stroke-width="2.3"/>
<line x1="1460.3" y1="2621.2" x2="1460.3" y2="2630.2" stroke="#000" stroke-width="2.3"/>
<line x1="1180.5" y1="2314.3" x2="1180.5" y2="2393.4" stroke="#000" stroke-width="2.6"/>
<line x1="1180.5" y1="2463.2" x2="1180.5" y2="2516" stroke="#000" stroke-width="2.6"/>
<line x1="1164" y1="2314.3" x2="1197" y2="2314.3" stroke="#000" stroke-width="2.6"/>
<line x1="1164" y1="2516" x2="1197" y2="2516" stroke="#000" stroke-width="2.6"/>
<rect x="1151.9" y="2393.4" width="57.2" height="69.8" fill="none" stroke="#000" stroke-width="2.6"/>
<line x1="1151.9" y1="2429.6" x2="1209.1" y2="2429.6" stroke="#000" stroke-width="2.6"/>
<line x1="1273.5" y1="2198" x2="1273.5" y2="2398" stroke="#000" stroke-width="2.6"/>
<line x1="1273.5" y1="2448.9" x2="1273.5" y2="2496" stroke="#000" stroke-width="2.6"/>
<line x1="1257" y1="2198" x2="1290" y2="2198" stroke="#000" stroke-width="2.6"/>
<line x1="1257" y1="2496" x2="1290" y2="2496" stroke="#000" stroke-width="2.6"/>
<rect x="1244.9" y="2398" width="57.3" height="50.9" fill="none" stroke="#000" stroke-width="2.6"/>
<line x1="1244.9" y1="2424.6" x2="1302.2" y2="2424.6" stroke="#000" stroke-width="2.6"/>
<line x1="1367.3" y1="2418" x2="1367.3" y2="2485.4" stroke="#000" stroke-width="2.6"/>
<line x1="1367.3" y1="2575.2" x2="1367.3" y2="2605.8" stroke="#000" stroke-width="2.6"/>
<line x1="1350.8" y1="2418" x2="1383.8" y2="2418" stroke="#000" stroke-width="2.6"/>
<line x1="1350.8" y1="2605.8" x2="1383.8" y2="2605.8" stroke="#000" stroke-width="2.6"/>
<rect x="1338.7" y="2485.4" width="56.5" height="89.8" fill="none" stroke="#000" stroke-width="2.6"/>
<line x1="1338.7" y1="2559.2" x2="1395.2" y2="2559.2" stroke="#000" stroke-width="2.6"/>
<line x1="1460.3" y1="2418" x2="1460.3" y2="2454.5" stroke="#000" stroke-width="2.6"/>
<line x1="1460.3" y1="2537" x2="1460.3" y2="2572.5" stroke="#000" stroke-width="2.6"/>
<line x1="1443.8" y1="2418" x2="1476.8" y2="2418" stroke="#000" stroke-width="2.6"/>
<line x1="1443.8" y1="2572.5" x2="1476.8" y2="2572.5" stroke="#000" stroke-width="2.6"/>
<rect x="1431.7" y="2454.5" width="57.2" height="82.5" fill="none" stroke="#000" stroke-width="2.6"/>
<line x1="1431.7" y1="2506.4" x2="1488.9" y2="2506.4" stroke="#000" stroke-width="2.6"/>
<g fill="#a3a3a3"><circle cx="1180.5" cy="2314.3" r="3.2"/><circle cx="1180.5" cy="2328.31" r="3.2"/><circle cx="1180.5" cy="2341.53" r="3.2"/><circle cx="1180.5" cy="2360.25" r="3.2"/><circle cx="1161" cy="2389.07" r="3.2"/><circle cx="1187" cy="2385.17" r="3.2"/><circle cx="1173.9" cy="2392.98" r="3.2"/><circle cx="1187" cy="2392.98" r="3.2"/><circle cx="1161" cy="2404.59" r="3.2"/><circle cx="1187" cy="2405.69" r="3.2"/><circle cx="1173.9" cy="2409.79" r="3.2"/><circle cx="1161" cy="2424.91" r="3.2"/><circle cx="1199.9" cy="2426.01" r="3.2"/><circle cx="1187" cy="2430.32" r="3.2"/><circle cx="1161" cy="2432.72" r="3.2"/><circle cx="1173.9" cy="2433.12" r="3.2"/><circle cx="1187" cy="2438.42" r="3.2"/><circle cx="1173.9" cy="2443.13" r="3.2"/><circle cx="1187" cy="2452.94" r="3.2"/><circle cx="1173.9" cy="2458.34" r="3.2"/><circle cx="1173.9" cy="2465.85" r="3.2"/><circle cx="1187" cy="2465.85" r="3.2"/><circle cx="1173.9" cy="2479.86" r="3.2"/><circle cx="1187" cy="2483.67" r="3.2"/><circle cx="1173.9" cy="2507.49" r="3.2"/><circle cx="1187" cy="2508.59" r="3.2"/><circle cx="1180.5" cy="2516" r="3.2"/></g>
<g fill="#1b80c0"><circle cx="1273.6" cy="2198" r="3.2"/><circle cx="1273.6" cy="2282.91" r="3.2"/><circle cx="1273.6" cy="2378.12" r="3.2"/><circle cx="1267.4" cy="2396" r="3.2"/><circle cx="1280.5" cy="2392.1" r="3.2"/><circle cx="1273.6" cy="2402.69" r="3.2"/><circle cx="1273.6" cy="2415.08" r="3.2"/><circle cx="1260.7" cy="2423.47" r="3.2"/><circle cx="1273.6" cy="2423.97" r="3.2"/><circle cx="1286.7" cy="2421.57" r="3.2"/><circle cx="1273.6" cy="2432.16" r="3.2"/><circle cx="1260.7" cy="2440.56" r="3.2"/><circle cx="1273.6" cy="2444.15" r="3.2"/><circle cx="1286.7" cy="2445.75" r="3.2"/><circle cx="1260.7" cy="2450.35" r="3.2"/><circle cx="1273.6" cy="2467.03" r="3.2"/><circle cx="1273.6" cy="2479.42" r="3.2"/><circle cx="1280.5" cy="2492.4" r="3.2"/><circle cx="1267.4" cy="2496" r="3.2"/></g>
<g fill="#a3a3a3"><circle cx="1353.8" cy="2418" r="3.2"/><circle cx="1367.2" cy="2418" r="3.2"/><circle cx="1380.3" cy="2418" r="3.2"/><circle cx="1367.2" cy="2440.33" r="3.2"/><circle cx="1367.2" cy="2467.74" r="3.2"/><circle cx="1367.2" cy="2489.57" r="3.2"/><circle cx="1360.5" cy="2513.79" r="3.2"/><circle cx="1373.6" cy="2510.31" r="3.2"/><circle cx="1360.5" cy="2527.65" r="3.2"/><circle cx="1373.6" cy="2529.54" r="3.2"/><circle cx="1367.2" cy="2552.97" r="3.2"/><circle cx="1373.6" cy="2567.32" r="3.2"/><circle cx="1386.7" cy="2565.13" r="3.2"/><circle cx="1347.2" cy="2572.61" r="3.2"/><circle cx="1360.5" cy="2571.01" r="3.2"/><circle cx="1386.7" cy="2571.51" r="3.2"/><circle cx="1373.6" cy="2575.6" r="3.2"/><circle cx="1360.5" cy="2577.39" r="3.2"/><circle cx="1360.5" cy="2590.15" r="3.2"/><circle cx="1373.6" cy="2588.85" r="3.2"/><circle cx="1367.2" cy="2598.72" r="3.2"/><circle cx="1367.2" cy="2605.8" r="3.2"/></g>
<g fill="#1b80c0"><circle cx="1460.5" cy="2418" r="3.2"/><circle cx="1460.5" cy="2428.36" r="3.2"/><circle cx="1453.7" cy="2436.83" r="3.2"/><circle cx="1466.9" cy="2442.7" r="3.2"/><circle cx="1460.5" cy="2452.76" r="3.2"/><circle cx="1440.6" cy="2468.01" r="3.2"/><circle cx="1453.7" cy="2470.89" r="3.2"/><circle cx="1466.9" cy="2468.8" r="3.2"/><circle cx="1479.9" cy="2466.31" r="3.2"/><circle cx="1460.5" cy="2506.76" r="3.2"/><circle cx="1460.5" cy="2522" r="3.2"/><circle cx="1440.6" cy="2529.97" r="3.2"/><circle cx="1453.7" cy="2532.06" r="3.2"/><circle cx="1466.9" cy="2533.95" r="3.2"/><circle cx="1453.7" cy="2538.43" r="3.2"/><circle cx="1479.9" cy="2538.43" r="3.2"/><circle cx="1460.5" cy="2549.09" r="3.2"/><circle cx="1466.9" cy="2569.81" r="3.2"/><circle cx="1453.7" cy="2572.5" r="3.2"/></g>
<polyline points="1277.5,2103.3 1277.5,2093.3 1473,2093.3 1473,2103.3" fill="none" stroke="#000" stroke-width="2" stroke-linejoin="miter"/>
<polyline points="1277.5,2132.2 1277.5,2122.5 1370.6,2122.5 1370.6,2132.2" fill="none" stroke="#000" stroke-width="2" stroke-linejoin="miter"/>
<polyline points="1182.8,2164.7 1182.8,2155.4 1470.3,2155.4 1470.3,2164.7" fill="none" stroke="#000" stroke-width="2" stroke-linejoin="miter"/>
<polyline points="1180.5,2193.7 1180.5,2184 1376.2,2184 1376.2,2193.7" fill="none" stroke="#000" stroke-width="2" stroke-linejoin="miter"/>
<text transform="translate(-1.03,78.3) scale(1.0250,1)" font-size="77.39" font-family="Liberation Sans, Arial, sans-serif" font-weight="bold">A</text>
<text transform="translate(1039.83,78) scale(1.0999,1)" font-size="68.12" font-family="Liberation Sans, Arial, sans-serif" font-weight="bold">B</text>
<text transform="translate(0.07,577.9) scale(1.0490,1)" font-size="69.86" font-family="Liberation Sans, Arial, sans-serif" font-weight="bold">C</text>
<text transform="translate(-0.11,1069) scale(1.0150,1)" font-size="74.49" font-family="Liberation Sans, Arial, sans-serif" font-weight="bold">D</text>
<text transform="translate(1.36,1539) scale(0.9114,1)" font-size="78.26" font-family="Liberation Sans, Arial, sans-serif" font-weight="bold">E</text>
<text transform="translate(7.57,2137.1) scale(0.9561,1)" font-size="76.09" font-family="Liberation Sans, Arial, sans-serif" font-weight="bold">F</text>
<text transform="translate(302,32.7) scale(1.1435,1)" font-size="37.93" font-family="Liberation Sans, Arial, sans-serif" font-weight="bold">1 wk</text>
<text transform="translate(753.95,32.61) scale(1.0954,1)" font-size="39.46" font-family="Liberation Sans, Arial, sans-serif" font-weight="bold">4 wks</text>
<text transform="translate(1303.19,32.6) scale(1.1406,1)" font-size="38.07" font-family="Liberation Sans, Arial, sans-serif" font-weight="bold">1 wk</text>
<text transform="translate(1783.06,31) scale(1.2355,1)" font-size="34.48" font-family="Liberation Sans, Arial, sans-serif" font-weight="bold">4 wk</text>
<text transform="translate(491.49,576) scale(1.1225,1)" font-size="37.24" font-family="Liberation Sans, Arial, sans-serif" font-weight="bold">1 wk</text>
<text transform="translate(1014.36,1049.38) scale(1.3276,1)" font-size="32.24" font-family="Liberation Sans, Arial, sans-serif" font-weight="bold">4 wks</text>
<text transform="translate(330.3,97.53) scale(0.9689,1)" font-size="41.35" font-family="Liberation Sans, Arial, sans-serif" font-weight="bold">****</text>
<text transform="translate(781.99,73.67) scale(1.0634,1)" font-size="38.65" font-family="Liberation Sans, Arial, sans-serif" font-weight="bold">****</text>
<text transform="translate(1329.42,63.24) scale(1.0353,1)" font-size="35.14" font-family="Liberation Sans, Arial, sans-serif" font-weight="bold">****</text>
<text transform="translate(1809.01,140.11) scale(1.1054,1)" font-size="33.78" font-family="Liberation Sans, Arial, sans-serif" font-weight="bold">****</text>
<text transform="translate(189.63,666.52) scale(1.0429,1)" font-size="33.51" font-family="Liberation Sans, Arial, sans-serif" font-weight="bold">****</text>
<text transform="translate(380.03,623.77) scale(1.1126,1)" font-size="30.54" font-family="Liberation Sans, Arial, sans-serif" font-weight="bold">****</text>
<text transform="translate(900.46,596.21) scale(1.0126,1)" font-size="27.84" font-family="Liberation Sans, Arial, sans-serif" font-weight="bold">***</text>
<text transform="translate(193.75,1080.45) scale(0.9538,1)" font-size="31.08" font-family="Liberation Sans, Arial, sans-serif" font-weight="bold">****</text>
<text transform="translate(398.85,1114.08) scale(1.0251,1)" font-size="28.38" font-family="Liberation Sans, Arial, sans-serif" font-weight="bold">**</text>
<text transform="translate(715.36,1170.65) scale(1.0717,1)" font-size="27.03" font-family="Liberation Sans, Arial, sans-serif" font-weight="bold">***</text>
<text transform="translate(920.47,1117.65) scale(0.9347,1)" font-size="27.03" font-family="Liberation Sans, Arial, sans-serif" font-weight="bold">*</text>
<text transform="translate(1241.35,1080.19) scale(0.9601,1)" font-size="30.27" font-family="Liberation Sans, Arial, sans-serif" font-weight="bold">****</text>
<text transform="translate(1766.96,1119.72) scale(1.1181,1)" font-size="25.68" font-family="Liberation Sans, Arial, sans-serif" font-weight="bold">***</text>
<text transform="translate(353.91,1612.53) scale(0.9619,1)" font-size="26.86" font-family="Liberation Sans, Arial, sans-serif" stroke="#000" stroke-width="0.7">*</text>
<text transform="translate(402.42,1642.74) scale(0.9938,1)" font-size="25.71" font-family="Liberation Sans, Arial, sans-serif" stroke="#000" stroke-width="0.7">*</text>
<text transform="translate(711.82,1561.73) scale(0.9415,1)" font-size="27.14" font-family="Liberation Sans, Arial, sans-serif" stroke="#000" stroke-width="0.7">*</text>
<text transform="translate(1346.92,1589.51) scale(0.8750,1)" font-size="28.57" font-family="Liberation Sans, Arial, sans-serif" stroke="#000" stroke-width="0.7">*</text>
<text transform="translate(1254.93,1623.71) scale(0.8653,1)" font-size="28.57" font-family="Liberation Sans, Arial, sans-serif" stroke="#000" stroke-width="0.7">*</text>
<text transform="translate(1361.93,2094.66) scale(1.0289,1)" font-size="23.71" font-family="Liberation Sans, Arial, sans-serif" stroke="#000" stroke-width="0.7">**</text>
<text transform="translate(1305.42,2123.74) scale(0.9741,1)" font-size="25.71" font-family="Liberation Sans, Arial, sans-serif" stroke="#000" stroke-width="0.7">****</text>
<text transform="translate(1316.03,2154.35) scale(0.9864,1)" font-size="25.14" font-family="Liberation Sans, Arial, sans-serif" stroke="#000" stroke-width="0.7">**</text>
<text transform="translate(1254.91,2185.53) scale(0.9644,1)" font-size="26.86" font-family="Liberation Sans, Arial, sans-serif" stroke="#000" stroke-width="0.7">****</text>
<text x="85.31" y="108.56" font-size="33.5" font-family="Liberation Sans, Arial, sans-serif">2.0</text>
<text x="85.47" y="204.39" font-size="33.5" font-family="Liberation Sans, Arial, sans-serif">1.5</text>
<text x="85.31" y="303.96" font-size="33.5" font-family="Liberation Sans, Arial, sans-serif">1.0</text>
<text x="85.47" y="392.96" font-size="33.5" font-family="Liberation Sans, Arial, sans-serif">0.5</text>
<text x="73.61" y="493.56" font-size="33.5" font-family="Liberation Sans, Arial, sans-serif">0.0</text>
<text x="1101.51" y="78.19" font-size="33" font-family="Liberation Sans, Arial, sans-serif">3</text>
<text x="1101.84" y="217.15" font-size="33" font-family="Liberation Sans, Arial, sans-serif">2</text>
<text x="1101.67" y="355.78" font-size="33" font-family="Liberation Sans, Arial, sans-serif">1</text>
<text x="1101.34" y="493.99" font-size="33" font-family="Liberation Sans, Arial, sans-serif">0</text>
<text x="64.5" y="602.58" font-size="24" font-family="Liberation Sans, Arial, sans-serif">50</text>
<text x="64.5" y="711.88" font-size="24" font-family="Liberation Sans, Arial, sans-serif">40</text>
<text x="64.5" y="821.48" font-size="24" font-family="Liberation Sans, Arial, sans-serif">30</text>
<text x="64.5" y="930.28" font-size="24" font-family="Liberation Sans, Arial, sans-serif">20</text>
<text x="553.87" y="613.13" font-size="30.8" font-family="Liberation Sans, Arial, sans-serif">1.00</text>
<text x="554.03" y="708.13" font-size="30.8" font-family="Liberation Sans, Arial, sans-serif">0.75</text>
<text x="553.87" y="802.13" font-size="30.8" font-family="Liberation Sans, Arial, sans-serif">0.50</text>
<text x="554.03" y="896.03" font-size="30.8" font-family="Liberation Sans, Arial, sans-serif">0.25</text>
<text x="553.87" y="990.03" font-size="30.8" font-family="Liberation Sans, Arial, sans-serif">0.00</text>
<text x="40.86" y="1100.39" font-size="30.7" font-family="Liberation Sans, Arial, sans-serif">120</text>
<text x="57.9" y="1228.89" font-size="30.7" font-family="Liberation Sans, Arial, sans-serif">80</text>
<text x="57.9" y="1357.39" font-size="30.7" font-family="Liberation Sans, Arial, sans-serif">40</text>
<text x="74.94" y="1485.89" font-size="30.7" font-family="Liberation Sans, Arial, sans-serif">0</text>
<text x="574.4" y="1099.19" font-size="30.7" font-family="Liberation Sans, Arial, sans-serif">60</text>
<text x="574.4" y="1227.39" font-size="30.7" font-family="Liberation Sans, Arial, sans-serif">40</text>
<text x="574.4" y="1355.59" font-size="30.7" font-family="Liberation Sans, Arial, sans-serif">20</text>
<text x="591.44" y="1483.69" font-size="30.7" font-family="Liberation Sans, Arial, sans-serif">0</text>
<text x="1080.07" y="1100.43" font-size="30.8" font-family="Liberation Sans, Arial, sans-serif">1.00</text>
<text x="1080.23" y="1196.63" font-size="30.8" font-family="Liberation Sans, Arial, sans-serif">0.75</text>
<text x="1080.07" y="1292.73" font-size="30.8" font-family="Liberation Sans, Arial, sans-serif">0.50</text>
<text x="1080.23" y="1388.83" font-size="30.8" font-family="Liberation Sans, Arial, sans-serif">0.25</text>
<text x="1080.07" y="1484.83" font-size="30.8" font-family="Liberation Sans, Arial, sans-serif">0.00</text>
<text x="1598.51" y="1098.78" font-size="30.1" font-family="Liberation Sans, Arial, sans-serif">1.00</text>
<text x="1598.66" y="1227.38" font-size="30.1" font-family="Liberation Sans, Arial, sans-serif">0.75</text>
<text x="1598.51" y="1356.08" font-size="30.1" font-family="Liberation Sans, Arial, sans-serif">0.50</text>
<text x="1598.66" y="1484.78" font-size="30.1" font-family="Liberation Sans, Arial, sans-serif">0.25</text>
<text x="53.58" y="1544.39" font-size="27.5" font-family="Liberation Sans, Arial, sans-serif">150</text>
<text x="53.58" y="1701.89" font-size="27.5" font-family="Liberation Sans, Arial, sans-serif">100</text>
<text x="68.84" y="1859.39" font-size="27.5" font-family="Liberation Sans, Arial, sans-serif">50</text>
<text x="84.1" y="2016.99" font-size="27.5" font-family="Liberation Sans, Arial, sans-serif">0</text>
<text x="551.32" y="1538.65" font-size="26.8" font-family="Liberation Sans, Arial, sans-serif">100</text>
<text x="566.19" y="1633.05" font-size="26.8" font-family="Liberation Sans, Arial, sans-serif">80</text>
<text x="566.19" y="1727.45" font-size="26.8" font-family="Liberation Sans, Arial, sans-serif">60</text>
<text x="566.19" y="1821.85" font-size="26.8" font-family="Liberation Sans, Arial, sans-serif">40</text>
<text x="566.19" y="1916.25" font-size="26.8" font-family="Liberation Sans, Arial, sans-serif">20</text>
<text x="581.06" y="2010.45" font-size="26.8" font-family="Liberation Sans, Arial, sans-serif">0</text>
<text x="1047.19" y="1540.82" font-size="27" font-family="Liberation Sans, Arial, sans-serif">800</text>
<text x="1047.19" y="1658.72" font-size="27" font-family="Liberation Sans, Arial, sans-serif">600</text>
<text x="1047.19" y="1776.52" font-size="27" font-family="Liberation Sans, Arial, sans-serif">400</text>
<text x="1047.19" y="1894.41" font-size="27" font-family="Liberation Sans, Arial, sans-serif">200</text>
<text x="1077.16" y="2012.32" font-size="27" font-family="Liberation Sans, Arial, sans-serif">0</text>
<text x="63.75" y="2140.46" font-size="27.7" font-family="Liberation Sans, Arial, sans-serif">150</text>
<text x="63.75" y="2304.06" font-size="27.7" font-family="Liberation Sans, Arial, sans-serif">100</text>
<text x="79.12" y="2467.76" font-size="27.7" font-family="Liberation Sans, Arial, sans-serif">50</text>
<text x="94.5" y="2631.36" font-size="27.7" font-family="Liberation Sans, Arial, sans-serif">0</text>
<text x="566.02" y="2139.56" font-size="27.7" font-family="Liberation Sans, Arial, sans-serif">80</text>
<text x="566.02" y="2262.56" font-size="27.7" font-family="Liberation Sans, Arial, sans-serif">60</text>
<text x="566.02" y="2385.66" font-size="27.7" font-family="Liberation Sans, Arial, sans-serif">40</text>
<text x="566.02" y="2508.76" font-size="27.7" font-family="Liberation Sans, Arial, sans-serif">20</text>
<text x="581.4" y="2631.86" font-size="27.7" font-family="Liberation Sans, Arial, sans-serif">0</text>
<text x="1045.14" y="2139.36" font-size="27.7" font-family="Liberation Sans, Arial, sans-serif">1000</text>
<text x="1060.65" y="2237.56" font-size="27.7" font-family="Liberation Sans, Arial, sans-serif">800</text>
<text x="1060.65" y="2335.86" font-size="27.7" font-family="Liberation Sans, Arial, sans-serif">600</text>
<text x="1060.65" y="2434.06" font-size="27.7" font-family="Liberation Sans, Arial, sans-serif">400</text>
<text x="1060.65" y="2532.36" font-size="27.7" font-family="Liberation Sans, Arial, sans-serif">200</text>
<text x="1091.4" y="2630.76" font-size="27.7" font-family="Liberation Sans, Arial, sans-serif">0</text>
<text transform="translate(69.81,474.17) rotate(-90) scale(0.9369,1)" font-size="34.22" font-family="Liberation Sans, Arial, sans-serif">LamC Relative CTNF (a.u.)</text>
<text transform="translate(1080.68,460.17) rotate(-90) scale(0.9650,1)" font-size="31.98" font-family="Liberation Sans, Arial, sans-serif">LamB Relative CTNF (a.u.)</text>
<text transform="translate(58.22,872.47) rotate(-90) scale(0.9849,1)" font-size="31.34" font-family="Liberation Sans, Arial, sans-serif">Perimeter (μm)</text>
<text transform="translate(552.81,911) rotate(-90) scale(0.9801,1)" font-size="30.91" font-family="Liberation Sans, Arial, sans-serif">Aspect ratio (a.u.)</text>
<text transform="translate(559.65,1385.51) rotate(-90) scale(0.9607,1)" font-size="32.62" font-family="Liberation Sans, Arial, sans-serif">Perimeter (μm)</text>
<text transform="translate(1066.81,1402.2) rotate(-90) scale(0.9999,1)" font-size="30.91" font-family="Liberation Sans, Arial, sans-serif">Aspect ratio (a.u.)</text>
<text transform="translate(1585.81,1390.95) rotate(-90) scale(0.9033,1)" font-size="34.22" font-family="Liberation Sans, Arial, sans-serif">Circularity (a.u.)</text>
<text transform="translate(43.85,1900.12) rotate(-90) scale(0.9562,1)" font-size="26.42" font-family="Liberation Sans, Arial, sans-serif">Diastolic Diameter (μm)</text>
<text transform="translate(538.45,1890.04) rotate(-90) scale(0.9617,1)" font-size="26.42" font-family="Liberation Sans, Arial, sans-serif">Systolic Diameter (μm)</text>
<text transform="translate(1035.99,1924.84) rotate(-90) scale(0.9489,1)" font-size="26.74" font-family="Liberation Sans, Arial, sans-serif">Shortening Velocity (μm/sec)</text>
<text transform="translate(49.69,2512.62) rotate(-90) scale(0.9403,1)" font-size="28.13" font-family="Liberation Sans, Arial, sans-serif">Diastolic Diameter (μm)</text>
<text transform="translate(550.39,2508.6) rotate(-90) scale(0.9465,1)" font-size="28.13" font-family="Liberation Sans, Arial, sans-serif">Systolic Diameter (μm)</text>
<text transform="translate(1030.63,2541.49) rotate(-90) scale(0.9288,1)" font-size="28.45" font-family="Liberation Sans, Arial, sans-serif">Shortening Velocity (μm/sec)</text>
<text transform="translate(32,1358.5) rotate(-90) scale(0.935,1)" font-size="33" font-family="Liberation Sans, Arial, sans-serif">Area (μm<tspan dy="-11" font-size="24">2</tspan><tspan dy="11">)</tspan></text>
<text transform="translate(230.3,522.2) scale(1.0633,1)" font-size="28" font-family="Liberation Sans, Arial, sans-serif" font-style="italic">attp2</text>
<text transform="translate(362.91,522.9) scale(1.0621,1)" font-size="28" font-family="Liberation Sans, Arial, sans-serif" font-style="italic">LamC iR</text>
<text transform="translate(689.01,523.9) scale(1.0453,1)" font-size="28" font-family="Liberation Sans, Arial, sans-serif" font-style="italic">attp2</text>
<text transform="translate(844.11,524.6) scale(1.0621,1)" font-size="28" font-family="Liberation Sans, Arial, sans-serif" font-style="italic">LamC iR</text>
<text transform="translate(1225.68,520.12) scale(1.0594,1)" font-size="24.6" font-family="Liberation Sans, Arial, sans-serif" font-style="italic">attp40</text>
<text transform="translate(1403.32,520.74) scale(1.0610,1)" font-size="24.6" font-family="Liberation Sans, Arial, sans-serif" font-style="italic">LamB iR</text>
<text transform="translate(1703.87,524.1) scale(1.0512,1)" font-size="25" font-family="Liberation Sans, Arial, sans-serif" font-style="italic">attp40</text>
<text transform="translate(1884.2,524.73) scale(1.0642,1)" font-size="25" font-family="Liberation Sans, Arial, sans-serif" font-style="italic">LamB iR</text>
<text transform="translate(145.23,1004.26) scale(1.1284,1)" font-size="20.8" font-family="Liberation Sans, Arial, sans-serif" font-style="italic">attp2</text>
<text transform="translate(219.1,1004.78) scale(1.1247,1)" font-size="20.8" font-family="Liberation Sans, Arial, sans-serif" font-style="italic">LamC iR</text>
<text transform="translate(325.13,1004.26) scale(1.1308,1)" font-size="20.8" font-family="Liberation Sans, Arial, sans-serif" font-style="italic">attp40</text>
<text transform="translate(405.89,1004.78) scale(1.1311,1)" font-size="20.8" font-family="Liberation Sans, Arial, sans-serif" font-style="italic">LamB iR</text>
<text transform="translate(662.63,1013.58) scale(1.1505,1)" font-size="20.4" font-family="Liberation Sans, Arial, sans-serif" font-style="italic">attp2</text>
<text transform="translate(736.1,1014.09) scale(1.1455,1)" font-size="20.4" font-family="Liberation Sans, Arial, sans-serif" font-style="italic">LamC iR</text>
<text transform="translate(842.73,1013.58) scale(1.1423,1)" font-size="20.4" font-family="Liberation Sans, Arial, sans-serif" font-style="italic">attp40</text>
<text transform="translate(922.9,1014.09) scale(1.1494,1)" font-size="20.4" font-family="Liberation Sans, Arial, sans-serif" font-style="italic">LamB iR</text>
<text transform="translate(142.91,1509.75) scale(1.1320,1)" font-size="21.5" font-family="Liberation Sans, Arial, sans-serif" font-style="italic">attp2</text>
<text transform="translate(217.97,1510.29) scale(1.1294,1)" font-size="21.5" font-family="Liberation Sans, Arial, sans-serif" font-style="italic">LamC iR</text>
<text transform="translate(327.42,1509.75) scale(1.1143,1)" font-size="21.5" font-family="Liberation Sans, Arial, sans-serif" font-style="italic">attp40</text>
<text transform="translate(409.37,1510.29) scale(1.1276,1)" font-size="21.5" font-family="Liberation Sans, Arial, sans-serif" font-style="italic">LamB iR</text>
<text transform="translate(658.92,1507.8) scale(1.1459,1)" font-size="21" font-family="Liberation Sans, Arial, sans-serif" font-style="italic">attp2</text>
<text transform="translate(734.08,1508.32) scale(1.1426,1)" font-size="21" font-family="Liberation Sans, Arial, sans-serif" font-style="italic">LamC iR</text>
<text transform="translate(843.12,1507.8) scale(1.1373,1)" font-size="21" font-family="Liberation Sans, Arial, sans-serif" font-style="italic">attp40</text>
<text transform="translate(924.88,1508.32) scale(1.1482,1)" font-size="21" font-family="Liberation Sans, Arial, sans-serif" font-style="italic">LamB iR</text>
<text transform="translate(1190.22,1508.72) scale(1.1659,1)" font-size="20.6" font-family="Liberation Sans, Arial, sans-serif" font-style="italic">attp2</text>
<text transform="translate(1265.27,1509.23) scale(1.1787,1)" font-size="20.6" font-family="Liberation Sans, Arial, sans-serif" font-style="italic">LamC iR</text>
<text transform="translate(1374.02,1508.72) scale(1.1665,1)" font-size="20.6" font-family="Liberation Sans, Arial, sans-serif" font-style="italic">attp40</text>
<text transform="translate(1456.28,1509.23) scale(1.1730,1)" font-size="20.6" font-family="Liberation Sans, Arial, sans-serif" font-style="italic">LamB iR</text>
<text transform="translate(1707.52,1509) scale(1.1437,1)" font-size="21" font-family="Liberation Sans, Arial, sans-serif" font-style="italic">attp2</text>
<text transform="translate(1783.08,1509.52) scale(1.1501,1)" font-size="21" font-family="Liberation Sans, Arial, sans-serif" font-style="italic">LamC iR</text>
<text transform="translate(1892.02,1509) scale(1.1408,1)" font-size="21" font-family="Liberation Sans, Arial, sans-serif" font-style="italic">attp40</text>
<text transform="translate(1973.97,1509.52) scale(1.1557,1)" font-size="21" font-family="Liberation Sans, Arial, sans-serif" font-style="italic">LamB iR</text>
<text transform="translate(145.22,2041.44) scale(1.1329,1)" font-size="21.2" font-family="Liberation Sans, Arial, sans-serif" font-style="italic">attp2</text>
<text transform="translate(223.14,2040.77) scale(1.0395,1)" font-size="21.2" font-family="Liberation Sans, Arial, sans-serif" font-style="italic">LamC iR</text>
<text transform="translate(334.42,2041.44) scale(1.1222,1)" font-size="21.2" font-family="Liberation Sans, Arial, sans-serif" font-style="italic">attp2</text>
<text transform="translate(409.44,2041.97) scale(1.0407,1)" font-size="21.2" font-family="Liberation Sans, Arial, sans-serif" font-style="italic">LamC iR</text>
<text transform="translate(640.62,2033.36) scale(1.1547,1)" font-size="20.8" font-family="Liberation Sans, Arial, sans-serif" font-style="italic">attp2</text>
<text transform="translate(719.64,2032.48) scale(1.0607,1)" font-size="20.8" font-family="Liberation Sans, Arial, sans-serif" font-style="italic">LamC iR</text>
<text transform="translate(829.72,2033.36) scale(1.1437,1)" font-size="20.8" font-family="Liberation Sans, Arial, sans-serif" font-style="italic">attp2</text>
<text transform="translate(905.94,2032.48) scale(1.0607,1)" font-size="20.8" font-family="Liberation Sans, Arial, sans-serif" font-style="italic">LamC iR</text>
<text transform="translate(1136.52,2034.18) scale(1.1181,1)" font-size="21.4" font-family="Liberation Sans, Arial, sans-serif" font-style="italic">attp2</text>
<text transform="translate(1216.44,2033.62) scale(1.0224,1)" font-size="21.4" font-family="Liberation Sans, Arial, sans-serif" font-style="italic">LamC iR</text>
<text transform="translate(1325.42,2034.18) scale(1.1223,1)" font-size="21.4" font-family="Liberation Sans, Arial, sans-serif" font-style="italic">attp2</text>
<text transform="translate(1402.14,2033.62) scale(1.0224,1)" font-size="21.4" font-family="Liberation Sans, Arial, sans-serif" font-style="italic">LamC iR</text>
<text transform="translate(148.9,2655.1) scale(1.1302,1)" font-size="22" font-family="Liberation Sans, Arial, sans-serif" font-style="italic">attp40</text>
<text transform="translate(231.44,2655.65) scale(1.1442,1)" font-size="22" font-family="Liberation Sans, Arial, sans-serif" font-style="italic">LamB iR</text>
<text transform="translate(335.4,2655.1) scale(1.1351,1)" font-size="22" font-family="Liberation Sans, Arial, sans-serif" font-style="italic">attp40</text>
<text transform="translate(418.54,2655.65) scale(1.1442,1)" font-size="22" font-family="Liberation Sans, Arial, sans-serif" font-style="italic">LamB iR</text>
<text transform="translate(636.1,2655.05) scale(1.1018,1)" font-size="22.5" font-family="Liberation Sans, Arial, sans-serif" font-style="italic">attp40</text>
<text transform="translate(719.14,2655.61) scale(1.1247,1)" font-size="22.5" font-family="Liberation Sans, Arial, sans-serif" font-style="italic">LamB iR</text>
<text transform="translate(823.1,2655.05) scale(1.1099,1)" font-size="22.5" font-family="Liberation Sans, Arial, sans-serif" font-style="italic">attp40</text>
<text transform="translate(906.14,2655.61) scale(1.1200,1)" font-size="22.5" font-family="Liberation Sans, Arial, sans-serif" font-style="italic">LamB iR</text>
<text transform="translate(1146.1,2654.2) scale(1.0779,1)" font-size="23" font-family="Liberation Sans, Arial, sans-serif" font-style="italic">attp40</text>
<text transform="translate(1229.14,2654.78) scale(1.0945,1)" font-size="23" font-family="Liberation Sans, Arial, sans-serif" font-style="italic">LamB iR</text>
<text transform="translate(1333.1,2654.2) scale(1.0858,1)" font-size="23" font-family="Liberation Sans, Arial, sans-serif" font-style="italic">attp40</text>
<text transform="translate(1415.54,2654.78) scale(1.0945,1)" font-size="23" font-family="Liberation Sans, Arial, sans-serif" font-style="italic">LamB iR</text>
<line x1="176.3" y1="2048.6" x2="270" y2="2048.6" stroke="#000" stroke-width="2.3"/>
<line x1="362.6" y1="2048.6" x2="456.4" y2="2048.6" stroke="#000" stroke-width="2.3"/>
<line x1="670.5" y1="2039.6" x2="763.8" y2="2039.6" stroke="#000" stroke-width="2.3"/>
<line x1="856.4" y1="2039.6" x2="950.6" y2="2039.6" stroke="#000" stroke-width="2.3"/>
<line x1="1167.8" y1="2040.1" x2="1262" y2="2040.1" stroke="#000" stroke-width="2.3"/>
<line x1="1354.2" y1="2040.1" x2="1448.6" y2="2040.1" stroke="#000" stroke-width="2.3"/>
<line x1="184.1" y1="2665.9" x2="281.3" y2="2665.9" stroke="#000" stroke-width="2.3"/>
<line x1="371.1" y1="2665.9" x2="468.3" y2="2665.9" stroke="#000" stroke-width="2.3"/>
<line x1="663.2" y1="2665.2" x2="761.1" y2="2665.2" stroke="#000" stroke-width="2.3"/>
<line x1="857.6" y1="2665.2" x2="955.6" y2="2665.2" stroke="#000" stroke-width="2.3"/>
<line x1="1179.4" y1="2663.6" x2="1276.7" y2="2663.6" stroke="#000" stroke-width="2.3"/>
<line x1="1373.4" y1="2663.6" x2="1471.1" y2="2663.6" stroke="#000" stroke-width="2.3"/>
<text transform="translate(198.66,2081) scale(0.9497,1)" font-size="27.17" font-family="Liberation Sans, Arial, sans-serif">1wk</text>
<text transform="translate(387.49,2084) scale(0.9698,1)" font-size="26.48" font-family="Liberation Sans, Arial, sans-serif">4wk</text>
<text transform="translate(693.41,2072) scale(1.0158,1)" font-size="24.83" font-family="Liberation Sans, Arial, sans-serif">1wk</text>
<text transform="translate(881.39,2074.8) scale(1.0739,1)" font-size="23.86" font-family="Liberation Sans, Arial, sans-serif">4wk</text>
<text transform="translate(1191.42,2072.5) scale(1.0400,1)" font-size="24.14" font-family="Liberation Sans, Arial, sans-serif">1wk</text>
<text transform="translate(1379.59,2076) scale(1.1366,1)" font-size="22.34" font-family="Liberation Sans, Arial, sans-serif">4wk</text>
<text transform="translate(208.23,2699.4) scale(1.0987,1)" font-size="23.86" font-family="Liberation Sans, Arial, sans-serif">1wk</text>
<text transform="translate(397.17,2701.8) scale(1.1773,1)" font-size="22.34" font-family="Liberation Sans, Arial, sans-serif">4wk</text>
<text transform="translate(687.45,2699) scale(1.0431,1)" font-size="24.97" font-family="Liberation Sans, Arial, sans-serif">1wk</text>
<text transform="translate(883.78,2700.6) scale(1.1646,1)" font-size="22.34" font-family="Liberation Sans, Arial, sans-serif">4wk</text>
<text transform="translate(1203.66,2697.1) scale(1.0815,1)" font-size="23.86" font-family="Liberation Sans, Arial, sans-serif">1wk</text>
<text transform="translate(1399.48,2699.9) scale(1.1595,1)" font-size="22.34" font-family="Liberation Sans, Arial, sans-serif">4wk</text>
</svg></body></html>
